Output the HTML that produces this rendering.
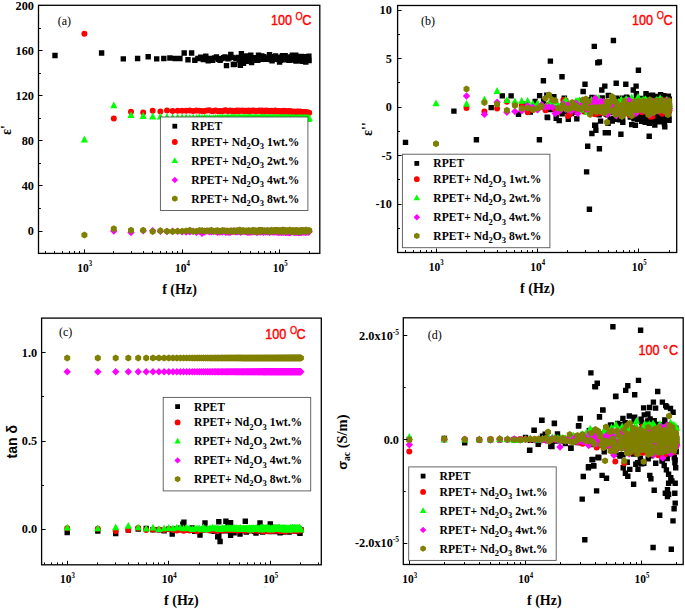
<!DOCTYPE html><html><head><meta charset="utf-8"><style>html,body{margin:0;padding:0;background:#fff;overflow:hidden}svg{display:block}</style></head><body><svg width="685" height="609" viewBox="0 0 685 609">
<style>.tl{font:bold 13.2px "Liberation Serif",serif;fill:#000}.lg{font:bold 12.2px "Liberation Serif",serif;fill:#000}.tp{font:15px "Liberation Sans",sans-serif;fill:#f00;stroke:#f00;stroke-width:0.45px}.tpo{font:10px "Liberation Sans",sans-serif;fill:#f00;stroke:#f00;stroke-width:0.3px}.pl{font:12px "Liberation Serif",serif;fill:#000}.ax{font:bold 14px "Liberation Serif",serif;fill:#000}</style>
<defs>
<clipPath id="ca"><rect x="38.5" y="5.3" width="281.3" height="248.1"/></clipPath>
<clipPath id="cb"><rect x="397.6" y="5.5" width="279.1" height="247.0"/></clipPath>
<clipPath id="cc"><rect x="41.6" y="318.1" width="279.7" height="246.7"/></clipPath>
<clipPath id="cd"><rect x="403.3" y="317.8" width="279.9" height="246.7"/></clipPath>
</defs>
<g clip-path="url(#ca)">
<path fill="#000" d="M52.3 52.8h5.4v5.4h-5.4zM98.9 50.3h5.4v5.4h-5.4zM120.6 56.2h5.4v5.4h-5.4zM134.9 55.8h5.4v5.4h-5.4zM145.5 54h5.4v5.4h-5.4zM154 56.2h5.4v5.4h-5.4zM161.1 55.8h5.4v5.4h-5.4zM167.2 55.3h5.4v5.4h-5.4zM172.5 55.8h5.4v5.4h-5.4zM177.2 55.8h5.4v5.4h-5.4zM181.5 50.3h5.4v5.4h-5.4zM185.3 57.1h5.4v5.4h-5.4zM188.9 50.3h5.4v5.4h-5.4zM192.1 57.5h5.4v5.4h-5.4zM195.2 55.8h5.4v5.4h-5.4zM198 54.6h5.4v5.4h-5.4zM200.6 56.9h5.4v5.4h-5.4zM203.1 53.5h5.4v5.4h-5.4zM205.5 58h5.4v5.4h-5.4zM207.7 55.8h5.4v5.4h-5.4zM209.9 57.6h5.4v5.4h-5.4zM211.9 55.2h5.4v5.4h-5.4zM213.8 54.3h5.4v5.4h-5.4zM215.7 56.5h5.4v5.4h-5.4zM217.4 57.7h5.4v5.4h-5.4zM219.1 55.9h5.4v5.4h-5.4zM220.8 55.1h5.4v5.4h-5.4zM222.3 54.2h5.4v5.4h-5.4zM223.8 62.9h5.4v5.4h-5.4zM225.3 56h5.4v5.4h-5.4zM226.7 55.2h5.4v5.4h-5.4zM228.1 51.7h5.4v5.4h-5.4zM229.4 54.7h5.4v5.4h-5.4zM230.7 61.8h5.4v5.4h-5.4zM231.9 61.5h5.4v5.4h-5.4zM233.2 55.7h5.4v5.4h-5.4zM234.3 55.4h5.4v5.4h-5.4zM235.5 54.8h5.4v5.4h-5.4zM236.6 57.2h5.4v5.4h-5.4zM237.7 62.5h5.4v5.4h-5.4zM238.7 50.9h5.4v5.4h-5.4zM239.8 55.8h5.4v5.4h-5.4zM240.8 60.7h5.4v5.4h-5.4zM241.8 53.5h5.4v5.4h-5.4zM242.7 54.7h5.4v5.4h-5.4zM243.7 58.6h5.4v5.4h-5.4zM244.6 53.3h5.4v5.4h-5.4zM245.5 55.7h5.4v5.4h-5.4zM246.4 55.8h5.4v5.4h-5.4zM247.3 55h5.4v5.4h-5.4zM248.1 52.6h5.4v5.4h-5.4zM248.9 59.8h5.4v5.4h-5.4zM249.8 55h5.4v5.4h-5.4zM250.6 56.2h5.4v5.4h-5.4zM251.3 55.4h5.4v5.4h-5.4zM252.1 57.5h5.4v5.4h-5.4zM252.9 57.6h5.4v5.4h-5.4zM253.6 55.8h5.4v5.4h-5.4zM254.4 55.1h5.4v5.4h-5.4zM255.1 57.6h5.4v5.4h-5.4zM255.8 52.5h5.4v5.4h-5.4zM256.5 55.7h5.4v5.4h-5.4zM257.2 56.5h5.4v5.4h-5.4zM257.8 55.7h5.4v5.4h-5.4zM258.5 55.1h5.4v5.4h-5.4zM259.1 53.3h5.4v5.4h-5.4zM259.8 54.8h5.4v5.4h-5.4zM260.4 54.9h5.4v5.4h-5.4zM261 54.1h5.4v5.4h-5.4zM261.7 56.7h5.4v5.4h-5.4zM262.3 55.5h5.4v5.4h-5.4zM262.9 55.9h5.4v5.4h-5.4zM263.5 56.5h5.4v5.4h-5.4zM264 56.2h5.4v5.4h-5.4zM264.6 56.3h5.4v5.4h-5.4zM265.2 56.7h5.4v5.4h-5.4zM265.7 55.3h5.4v5.4h-5.4zM266.3 56.2h5.4v5.4h-5.4zM266.8 51.9h5.4v5.4h-5.4zM267.4 55.4h5.4v5.4h-5.4zM267.9 56.9h5.4v5.4h-5.4zM268.4 55h5.4v5.4h-5.4zM268.9 56.4h5.4v5.4h-5.4zM269.4 58h5.4v5.4h-5.4zM270 54h5.4v5.4h-5.4zM270.5 56.2h5.4v5.4h-5.4zM270.9 56.3h5.4v5.4h-5.4zM271.4 54.7h5.4v5.4h-5.4zM271.9 55.8h5.4v5.4h-5.4zM272.4 55.9h5.4v5.4h-5.4zM272.9 53.2h5.4v5.4h-5.4zM273.3 56.3h5.4v5.4h-5.4zM273.8 54.7h5.4v5.4h-5.4zM274.2 55.2h5.4v5.4h-5.4zM274.7 55.5h5.4v5.4h-5.4zM275.1 56.7h5.4v5.4h-5.4zM275.6 56.3h5.4v5.4h-5.4zM276 56.9h5.4v5.4h-5.4zM276.5 56.6h5.4v5.4h-5.4zM276.9 59.3h5.4v5.4h-5.4zM277.3 54.7h5.4v5.4h-5.4zM277.7 57.7h5.4v5.4h-5.4zM278.1 55.6h5.4v5.4h-5.4zM278.6 55.1h5.4v5.4h-5.4zM279 56.5h5.4v5.4h-5.4zM279.4 53.9h5.4v5.4h-5.4zM279.8 53.1h5.4v5.4h-5.4zM280.2 55.3h5.4v5.4h-5.4zM280.6 56.8h5.4v5.4h-5.4zM281 54.9h5.4v5.4h-5.4zM281.3 53.5h5.4v5.4h-5.4zM281.7 54.9h5.4v5.4h-5.4zM282.1 56.1h5.4v5.4h-5.4zM282.5 52.9h5.4v5.4h-5.4zM282.8 56.7h5.4v5.4h-5.4zM283.2 57h5.4v5.4h-5.4zM283.6 56.7h5.4v5.4h-5.4zM283.9 55.4h5.4v5.4h-5.4zM284.3 55.5h5.4v5.4h-5.4zM284.7 54.7h5.4v5.4h-5.4zM285 56h5.4v5.4h-5.4zM285.4 56.1h5.4v5.4h-5.4zM285.7 56.8h5.4v5.4h-5.4zM286.1 54.9h5.4v5.4h-5.4zM286.4 57.5h5.4v5.4h-5.4zM286.7 56h5.4v5.4h-5.4zM287.1 54.9h5.4v5.4h-5.4zM287.4 55.9h5.4v5.4h-5.4zM287.7 56.3h5.4v5.4h-5.4zM288.1 55.5h5.4v5.4h-5.4zM288.4 53.9h5.4v5.4h-5.4zM288.7 54.5h5.4v5.4h-5.4zM289 57.4h5.4v5.4h-5.4zM289.4 56.4h5.4v5.4h-5.4zM289.7 52.5h5.4v5.4h-5.4zM290 55.7h5.4v5.4h-5.4zM290.3 55.5h5.4v5.4h-5.4zM290.6 56h5.4v5.4h-5.4zM290.9 54.2h5.4v5.4h-5.4zM291.2 54.9h5.4v5.4h-5.4zM291.5 55.4h5.4v5.4h-5.4zM291.8 57.1h5.4v5.4h-5.4zM292.1 54.4h5.4v5.4h-5.4zM292.4 54.8h5.4v5.4h-5.4zM292.7 54.7h5.4v5.4h-5.4zM293 52.6h5.4v5.4h-5.4zM293.3 58.4h5.4v5.4h-5.4zM293.6 57h5.4v5.4h-5.4zM293.9 57.6h5.4v5.4h-5.4zM294.2 56.5h5.4v5.4h-5.4zM294.4 56.2h5.4v5.4h-5.4zM294.7 55.5h5.4v5.4h-5.4zM295 55.7h5.4v5.4h-5.4zM295.3 53.8h5.4v5.4h-5.4zM295.6 57h5.4v5.4h-5.4zM295.8 55.5h5.4v5.4h-5.4zM296.1 55.8h5.4v5.4h-5.4zM296.4 56.9h5.4v5.4h-5.4zM296.6 57h5.4v5.4h-5.4zM296.9 55.9h5.4v5.4h-5.4zM297.2 57h5.4v5.4h-5.4zM297.4 55.2h5.4v5.4h-5.4zM297.7 55.8h5.4v5.4h-5.4zM298 58.1h5.4v5.4h-5.4zM298.2 56.4h5.4v5.4h-5.4zM298.5 53.8h5.4v5.4h-5.4zM298.7 57.2h5.4v5.4h-5.4zM299 56.5h5.4v5.4h-5.4zM299.2 58.3h5.4v5.4h-5.4zM299.5 54.6h5.4v5.4h-5.4zM299.7 56.5h5.4v5.4h-5.4zM300 57h5.4v5.4h-5.4zM300.2 58.7h5.4v5.4h-5.4zM300.5 54.7h5.4v5.4h-5.4zM300.7 56.9h5.4v5.4h-5.4zM301 55h5.4v5.4h-5.4zM301.2 58.6h5.4v5.4h-5.4zM301.4 57.6h5.4v5.4h-5.4zM301.7 56.7h5.4v5.4h-5.4zM301.9 57.2h5.4v5.4h-5.4zM302.2 54.5h5.4v5.4h-5.4zM302.4 56.2h5.4v5.4h-5.4zM302.6 56.1h5.4v5.4h-5.4zM302.9 58.7h5.4v5.4h-5.4zM303.1 59.3h5.4v5.4h-5.4zM303.3 54h5.4v5.4h-5.4zM303.5 57.4h5.4v5.4h-5.4zM303.8 57.6h5.4v5.4h-5.4zM304 54.2h5.4v5.4h-5.4zM304.2 57.1h5.4v5.4h-5.4zM304.4 56.5h5.4v5.4h-5.4zM304.7 55.4h5.4v5.4h-5.4zM304.9 56.3h5.4v5.4h-5.4zM305.1 55.8h5.4v5.4h-5.4zM305.3 56.1h5.4v5.4h-5.4zM305.5 57.1h5.4v5.4h-5.4zM305.8 56.8h5.4v5.4h-5.4zM306 55.5h5.4v5.4h-5.4zM306.2 53.5h5.4v5.4h-5.4zM306.4 57.8h5.4v5.4h-5.4z"/>
<path fill="#ff0000" d="M81.4 33.7a3.0 3.0 0 1 0 6 0a3.0 3.0 0 1 0 -6 0zM110.8 118.6a3.0 3.0 0 1 0 6 0a3.0 3.0 0 1 0 -6 0zM128 111.8a3.0 3.0 0 1 0 6 0a3.0 3.0 0 1 0 -6 0zM140.2 112.5a3.0 3.0 0 1 0 6 0a3.0 3.0 0 1 0 -6 0zM149.7 110.8a3.0 3.0 0 1 0 6 0a3.0 3.0 0 1 0 -6 0zM157.4 111.5a3.0 3.0 0 1 0 6 0a3.0 3.0 0 1 0 -6 0zM164 110.6a3.0 3.0 0 1 0 6 0a3.0 3.0 0 1 0 -6 0zM169.6 110.9a3.0 3.0 0 1 0 6 0a3.0 3.0 0 1 0 -6 0zM174.6 110.8a3.0 3.0 0 1 0 6 0a3.0 3.0 0 1 0 -6 0zM179.1 110.7a3.0 3.0 0 1 0 6 0a3.0 3.0 0 1 0 -6 0zM183.1 110.8a3.0 3.0 0 1 0 6 0a3.0 3.0 0 1 0 -6 0zM186.8 110.6a3.0 3.0 0 1 0 6 0a3.0 3.0 0 1 0 -6 0zM190.2 110.9a3.0 3.0 0 1 0 6 0a3.0 3.0 0 1 0 -6 0zM193.4 110.6a3.0 3.0 0 1 0 6 0a3.0 3.0 0 1 0 -6 0zM196.3 110.8a3.0 3.0 0 1 0 6 0a3.0 3.0 0 1 0 -6 0zM199 110.9a3.0 3.0 0 1 0 6 0a3.0 3.0 0 1 0 -6 0zM201.6 111a3.0 3.0 0 1 0 6 0a3.0 3.0 0 1 0 -6 0zM204 110.5a3.0 3.0 0 1 0 6 0a3.0 3.0 0 1 0 -6 0zM206.3 110.3a3.0 3.0 0 1 0 6 0a3.0 3.0 0 1 0 -6 0zM208.5 111a3.0 3.0 0 1 0 6 0a3.0 3.0 0 1 0 -6 0zM210.6 111.1a3.0 3.0 0 1 0 6 0a3.0 3.0 0 1 0 -6 0zM212.6 110.6a3.0 3.0 0 1 0 6 0a3.0 3.0 0 1 0 -6 0zM214.4 111a3.0 3.0 0 1 0 6 0a3.0 3.0 0 1 0 -6 0zM216.2 110.9a3.0 3.0 0 1 0 6 0a3.0 3.0 0 1 0 -6 0zM218 111a3.0 3.0 0 1 0 6 0a3.0 3.0 0 1 0 -6 0zM219.6 111.3a3.0 3.0 0 1 0 6 0a3.0 3.0 0 1 0 -6 0zM221.2 110.6a3.0 3.0 0 1 0 6 0a3.0 3.0 0 1 0 -6 0zM222.8 110.3a3.0 3.0 0 1 0 6 0a3.0 3.0 0 1 0 -6 0zM224.3 111.1a3.0 3.0 0 1 0 6 0a3.0 3.0 0 1 0 -6 0zM225.7 111.1a3.0 3.0 0 1 0 6 0a3.0 3.0 0 1 0 -6 0zM227.1 110.6a3.0 3.0 0 1 0 6 0a3.0 3.0 0 1 0 -6 0zM228.5 110.9a3.0 3.0 0 1 0 6 0a3.0 3.0 0 1 0 -6 0zM229.8 110.7a3.0 3.0 0 1 0 6 0a3.0 3.0 0 1 0 -6 0zM231 111.4a3.0 3.0 0 1 0 6 0a3.0 3.0 0 1 0 -6 0zM232.3 110.8a3.0 3.0 0 1 0 6 0a3.0 3.0 0 1 0 -6 0zM233.5 110.6a3.0 3.0 0 1 0 6 0a3.0 3.0 0 1 0 -6 0zM234.6 111.2a3.0 3.0 0 1 0 6 0a3.0 3.0 0 1 0 -6 0zM235.7 110.6a3.0 3.0 0 1 0 6 0a3.0 3.0 0 1 0 -6 0zM236.8 110.9a3.0 3.0 0 1 0 6 0a3.0 3.0 0 1 0 -6 0zM237.9 110.7a3.0 3.0 0 1 0 6 0a3.0 3.0 0 1 0 -6 0zM239 110.6a3.0 3.0 0 1 0 6 0a3.0 3.0 0 1 0 -6 0zM240 110.9a3.0 3.0 0 1 0 6 0a3.0 3.0 0 1 0 -6 0zM241 110.7a3.0 3.0 0 1 0 6 0a3.0 3.0 0 1 0 -6 0zM242 111.2a3.0 3.0 0 1 0 6 0a3.0 3.0 0 1 0 -6 0zM242.9 110.7a3.0 3.0 0 1 0 6 0a3.0 3.0 0 1 0 -6 0zM243.9 111.1a3.0 3.0 0 1 0 6 0a3.0 3.0 0 1 0 -6 0zM244.8 110.9a3.0 3.0 0 1 0 6 0a3.0 3.0 0 1 0 -6 0zM245.7 110.5a3.0 3.0 0 1 0 6 0a3.0 3.0 0 1 0 -6 0zM246.5 111.6a3.0 3.0 0 1 0 6 0a3.0 3.0 0 1 0 -6 0zM247.4 111a3.0 3.0 0 1 0 6 0a3.0 3.0 0 1 0 -6 0zM248.2 110.9a3.0 3.0 0 1 0 6 0a3.0 3.0 0 1 0 -6 0zM249.1 110.4a3.0 3.0 0 1 0 6 0a3.0 3.0 0 1 0 -6 0zM249.9 110.8a3.0 3.0 0 1 0 6 0a3.0 3.0 0 1 0 -6 0zM250.7 110.5a3.0 3.0 0 1 0 6 0a3.0 3.0 0 1 0 -6 0zM251.4 110.8a3.0 3.0 0 1 0 6 0a3.0 3.0 0 1 0 -6 0zM252.2 111.2a3.0 3.0 0 1 0 6 0a3.0 3.0 0 1 0 -6 0zM252.9 111.1a3.0 3.0 0 1 0 6 0a3.0 3.0 0 1 0 -6 0zM253.7 110.9a3.0 3.0 0 1 0 6 0a3.0 3.0 0 1 0 -6 0zM254.4 111a3.0 3.0 0 1 0 6 0a3.0 3.0 0 1 0 -6 0zM255.1 110.8a3.0 3.0 0 1 0 6 0a3.0 3.0 0 1 0 -6 0zM255.8 110.7a3.0 3.0 0 1 0 6 0a3.0 3.0 0 1 0 -6 0zM256.5 110.5a3.0 3.0 0 1 0 6 0a3.0 3.0 0 1 0 -6 0zM257.2 110.9a3.0 3.0 0 1 0 6 0a3.0 3.0 0 1 0 -6 0zM257.9 111a3.0 3.0 0 1 0 6 0a3.0 3.0 0 1 0 -6 0zM258.5 110.8a3.0 3.0 0 1 0 6 0a3.0 3.0 0 1 0 -6 0zM259.2 110.6a3.0 3.0 0 1 0 6 0a3.0 3.0 0 1 0 -6 0zM259.8 110.9a3.0 3.0 0 1 0 6 0a3.0 3.0 0 1 0 -6 0zM260.4 111.4a3.0 3.0 0 1 0 6 0a3.0 3.0 0 1 0 -6 0zM261.1 110.9a3.0 3.0 0 1 0 6 0a3.0 3.0 0 1 0 -6 0zM261.7 111.3a3.0 3.0 0 1 0 6 0a3.0 3.0 0 1 0 -6 0zM262.3 111.5a3.0 3.0 0 1 0 6 0a3.0 3.0 0 1 0 -6 0zM262.9 110.6a3.0 3.0 0 1 0 6 0a3.0 3.0 0 1 0 -6 0zM263.4 111.2a3.0 3.0 0 1 0 6 0a3.0 3.0 0 1 0 -6 0zM264 111a3.0 3.0 0 1 0 6 0a3.0 3.0 0 1 0 -6 0zM264.6 110.8a3.0 3.0 0 1 0 6 0a3.0 3.0 0 1 0 -6 0zM265.2 111.1a3.0 3.0 0 1 0 6 0a3.0 3.0 0 1 0 -6 0zM265.7 111a3.0 3.0 0 1 0 6 0a3.0 3.0 0 1 0 -6 0zM266.3 111.5a3.0 3.0 0 1 0 6 0a3.0 3.0 0 1 0 -6 0zM266.8 111a3.0 3.0 0 1 0 6 0a3.0 3.0 0 1 0 -6 0zM267.3 111a3.0 3.0 0 1 0 6 0a3.0 3.0 0 1 0 -6 0zM267.9 110.9a3.0 3.0 0 1 0 6 0a3.0 3.0 0 1 0 -6 0zM268.4 111.4a3.0 3.0 0 1 0 6 0a3.0 3.0 0 1 0 -6 0zM268.9 110.8a3.0 3.0 0 1 0 6 0a3.0 3.0 0 1 0 -6 0zM269.4 111.5a3.0 3.0 0 1 0 6 0a3.0 3.0 0 1 0 -6 0zM269.9 111.2a3.0 3.0 0 1 0 6 0a3.0 3.0 0 1 0 -6 0zM270.4 111.1a3.0 3.0 0 1 0 6 0a3.0 3.0 0 1 0 -6 0zM270.9 111.4a3.0 3.0 0 1 0 6 0a3.0 3.0 0 1 0 -6 0zM271.4 111a3.0 3.0 0 1 0 6 0a3.0 3.0 0 1 0 -6 0zM271.9 111.8a3.0 3.0 0 1 0 6 0a3.0 3.0 0 1 0 -6 0zM272.3 110.6a3.0 3.0 0 1 0 6 0a3.0 3.0 0 1 0 -6 0zM272.8 110.9a3.0 3.0 0 1 0 6 0a3.0 3.0 0 1 0 -6 0zM273.3 111.2a3.0 3.0 0 1 0 6 0a3.0 3.0 0 1 0 -6 0zM273.7 111.4a3.0 3.0 0 1 0 6 0a3.0 3.0 0 1 0 -6 0zM274.2 111.6a3.0 3.0 0 1 0 6 0a3.0 3.0 0 1 0 -6 0zM274.6 111.1a3.0 3.0 0 1 0 6 0a3.0 3.0 0 1 0 -6 0zM275.1 111a3.0 3.0 0 1 0 6 0a3.0 3.0 0 1 0 -6 0zM275.5 111.4a3.0 3.0 0 1 0 6 0a3.0 3.0 0 1 0 -6 0zM275.9 111.8a3.0 3.0 0 1 0 6 0a3.0 3.0 0 1 0 -6 0zM276.4 111.5a3.0 3.0 0 1 0 6 0a3.0 3.0 0 1 0 -6 0zM276.8 111.1a3.0 3.0 0 1 0 6 0a3.0 3.0 0 1 0 -6 0zM277.2 111.9a3.0 3.0 0 1 0 6 0a3.0 3.0 0 1 0 -6 0zM277.6 111.7a3.0 3.0 0 1 0 6 0a3.0 3.0 0 1 0 -6 0zM278.1 111.2a3.0 3.0 0 1 0 6 0a3.0 3.0 0 1 0 -6 0zM278.5 111.2a3.0 3.0 0 1 0 6 0a3.0 3.0 0 1 0 -6 0zM278.9 110.9a3.0 3.0 0 1 0 6 0a3.0 3.0 0 1 0 -6 0zM279.3 111.2a3.0 3.0 0 1 0 6 0a3.0 3.0 0 1 0 -6 0zM279.7 111.7a3.0 3.0 0 1 0 6 0a3.0 3.0 0 1 0 -6 0zM280.1 111.4a3.0 3.0 0 1 0 6 0a3.0 3.0 0 1 0 -6 0zM280.5 111.6a3.0 3.0 0 1 0 6 0a3.0 3.0 0 1 0 -6 0zM280.8 110.8a3.0 3.0 0 1 0 6 0a3.0 3.0 0 1 0 -6 0zM281.2 111.9a3.0 3.0 0 1 0 6 0a3.0 3.0 0 1 0 -6 0zM281.6 111.1a3.0 3.0 0 1 0 6 0a3.0 3.0 0 1 0 -6 0zM282 111.5a3.0 3.0 0 1 0 6 0a3.0 3.0 0 1 0 -6 0zM282.4 111.4a3.0 3.0 0 1 0 6 0a3.0 3.0 0 1 0 -6 0zM282.7 111.7a3.0 3.0 0 1 0 6 0a3.0 3.0 0 1 0 -6 0zM283.1 111a3.0 3.0 0 1 0 6 0a3.0 3.0 0 1 0 -6 0zM283.5 111.8a3.0 3.0 0 1 0 6 0a3.0 3.0 0 1 0 -6 0zM283.8 111.5a3.0 3.0 0 1 0 6 0a3.0 3.0 0 1 0 -6 0zM284.2 111.4a3.0 3.0 0 1 0 6 0a3.0 3.0 0 1 0 -6 0zM284.5 111.8a3.0 3.0 0 1 0 6 0a3.0 3.0 0 1 0 -6 0zM284.9 111.4a3.0 3.0 0 1 0 6 0a3.0 3.0 0 1 0 -6 0zM285.2 111.5a3.0 3.0 0 1 0 6 0a3.0 3.0 0 1 0 -6 0zM285.6 111.9a3.0 3.0 0 1 0 6 0a3.0 3.0 0 1 0 -6 0zM285.9 111a3.0 3.0 0 1 0 6 0a3.0 3.0 0 1 0 -6 0zM286.3 111.5a3.0 3.0 0 1 0 6 0a3.0 3.0 0 1 0 -6 0zM286.6 111.1a3.0 3.0 0 1 0 6 0a3.0 3.0 0 1 0 -6 0zM286.9 111.4a3.0 3.0 0 1 0 6 0a3.0 3.0 0 1 0 -6 0zM287.3 111.5a3.0 3.0 0 1 0 6 0a3.0 3.0 0 1 0 -6 0zM287.6 111.4a3.0 3.0 0 1 0 6 0a3.0 3.0 0 1 0 -6 0zM287.9 111.6a3.0 3.0 0 1 0 6 0a3.0 3.0 0 1 0 -6 0zM288.3 111.8a3.0 3.0 0 1 0 6 0a3.0 3.0 0 1 0 -6 0zM288.6 111.5a3.0 3.0 0 1 0 6 0a3.0 3.0 0 1 0 -6 0zM288.9 111.4a3.0 3.0 0 1 0 6 0a3.0 3.0 0 1 0 -6 0zM289.2 111.8a3.0 3.0 0 1 0 6 0a3.0 3.0 0 1 0 -6 0zM289.5 112.2a3.0 3.0 0 1 0 6 0a3.0 3.0 0 1 0 -6 0zM289.8 112a3.0 3.0 0 1 0 6 0a3.0 3.0 0 1 0 -6 0zM290.2 112.4a3.0 3.0 0 1 0 6 0a3.0 3.0 0 1 0 -6 0zM290.5 112.4a3.0 3.0 0 1 0 6 0a3.0 3.0 0 1 0 -6 0zM290.8 111.7a3.0 3.0 0 1 0 6 0a3.0 3.0 0 1 0 -6 0zM291.1 111.6a3.0 3.0 0 1 0 6 0a3.0 3.0 0 1 0 -6 0zM291.4 111.7a3.0 3.0 0 1 0 6 0a3.0 3.0 0 1 0 -6 0zM291.7 112a3.0 3.0 0 1 0 6 0a3.0 3.0 0 1 0 -6 0zM292 111.8a3.0 3.0 0 1 0 6 0a3.0 3.0 0 1 0 -6 0zM292.3 111.9a3.0 3.0 0 1 0 6 0a3.0 3.0 0 1 0 -6 0zM292.6 112.2a3.0 3.0 0 1 0 6 0a3.0 3.0 0 1 0 -6 0zM292.9 112.4a3.0 3.0 0 1 0 6 0a3.0 3.0 0 1 0 -6 0zM293.1 111.9a3.0 3.0 0 1 0 6 0a3.0 3.0 0 1 0 -6 0zM293.4 112.1a3.0 3.0 0 1 0 6 0a3.0 3.0 0 1 0 -6 0zM293.7 112a3.0 3.0 0 1 0 6 0a3.0 3.0 0 1 0 -6 0zM294 112.3a3.0 3.0 0 1 0 6 0a3.0 3.0 0 1 0 -6 0zM294.3 111.6a3.0 3.0 0 1 0 6 0a3.0 3.0 0 1 0 -6 0zM294.6 111.8a3.0 3.0 0 1 0 6 0a3.0 3.0 0 1 0 -6 0zM294.8 112.1a3.0 3.0 0 1 0 6 0a3.0 3.0 0 1 0 -6 0zM295.1 111.5a3.0 3.0 0 1 0 6 0a3.0 3.0 0 1 0 -6 0zM295.4 112.6a3.0 3.0 0 1 0 6 0a3.0 3.0 0 1 0 -6 0zM295.7 112.4a3.0 3.0 0 1 0 6 0a3.0 3.0 0 1 0 -6 0zM295.9 112.1a3.0 3.0 0 1 0 6 0a3.0 3.0 0 1 0 -6 0zM296.2 111.9a3.0 3.0 0 1 0 6 0a3.0 3.0 0 1 0 -6 0zM296.5 111.7a3.0 3.0 0 1 0 6 0a3.0 3.0 0 1 0 -6 0zM296.7 112.5a3.0 3.0 0 1 0 6 0a3.0 3.0 0 1 0 -6 0zM297 112.1a3.0 3.0 0 1 0 6 0a3.0 3.0 0 1 0 -6 0zM297.3 111.4a3.0 3.0 0 1 0 6 0a3.0 3.0 0 1 0 -6 0zM297.5 112a3.0 3.0 0 1 0 6 0a3.0 3.0 0 1 0 -6 0zM297.8 112.4a3.0 3.0 0 1 0 6 0a3.0 3.0 0 1 0 -6 0zM298 112.2a3.0 3.0 0 1 0 6 0a3.0 3.0 0 1 0 -6 0zM298.3 112.1a3.0 3.0 0 1 0 6 0a3.0 3.0 0 1 0 -6 0zM298.6 112.5a3.0 3.0 0 1 0 6 0a3.0 3.0 0 1 0 -6 0zM298.8 112.6a3.0 3.0 0 1 0 6 0a3.0 3.0 0 1 0 -6 0zM299.1 112.2a3.0 3.0 0 1 0 6 0a3.0 3.0 0 1 0 -6 0zM299.3 111.9a3.0 3.0 0 1 0 6 0a3.0 3.0 0 1 0 -6 0zM299.6 112.1a3.0 3.0 0 1 0 6 0a3.0 3.0 0 1 0 -6 0zM299.8 112.9a3.0 3.0 0 1 0 6 0a3.0 3.0 0 1 0 -6 0zM300.1 111.9a3.0 3.0 0 1 0 6 0a3.0 3.0 0 1 0 -6 0zM300.3 112.1a3.0 3.0 0 1 0 6 0a3.0 3.0 0 1 0 -6 0zM300.5 112.4a3.0 3.0 0 1 0 6 0a3.0 3.0 0 1 0 -6 0zM300.8 112.5a3.0 3.0 0 1 0 6 0a3.0 3.0 0 1 0 -6 0zM301 112.3a3.0 3.0 0 1 0 6 0a3.0 3.0 0 1 0 -6 0zM301.3 112.9a3.0 3.0 0 1 0 6 0a3.0 3.0 0 1 0 -6 0zM301.5 112.2a3.0 3.0 0 1 0 6 0a3.0 3.0 0 1 0 -6 0zM301.7 112.2a3.0 3.0 0 1 0 6 0a3.0 3.0 0 1 0 -6 0zM302 112.6a3.0 3.0 0 1 0 6 0a3.0 3.0 0 1 0 -6 0zM302.2 112.5a3.0 3.0 0 1 0 6 0a3.0 3.0 0 1 0 -6 0zM302.4 112.3a3.0 3.0 0 1 0 6 0a3.0 3.0 0 1 0 -6 0zM302.7 113a3.0 3.0 0 1 0 6 0a3.0 3.0 0 1 0 -6 0zM302.9 112.9a3.0 3.0 0 1 0 6 0a3.0 3.0 0 1 0 -6 0zM303.1 112.2a3.0 3.0 0 1 0 6 0a3.0 3.0 0 1 0 -6 0zM303.4 112.2a3.0 3.0 0 1 0 6 0a3.0 3.0 0 1 0 -6 0zM303.6 112.4a3.0 3.0 0 1 0 6 0a3.0 3.0 0 1 0 -6 0zM303.8 112.6a3.0 3.0 0 1 0 6 0a3.0 3.0 0 1 0 -6 0zM304 112.5a3.0 3.0 0 1 0 6 0a3.0 3.0 0 1 0 -6 0zM304.3 112.2a3.0 3.0 0 1 0 6 0a3.0 3.0 0 1 0 -6 0zM304.5 112.8a3.0 3.0 0 1 0 6 0a3.0 3.0 0 1 0 -6 0zM304.7 112.4a3.0 3.0 0 1 0 6 0a3.0 3.0 0 1 0 -6 0zM304.9 112.8a3.0 3.0 0 1 0 6 0a3.0 3.0 0 1 0 -6 0zM305.1 112.8a3.0 3.0 0 1 0 6 0a3.0 3.0 0 1 0 -6 0zM305.4 112.7a3.0 3.0 0 1 0 6 0a3.0 3.0 0 1 0 -6 0zM305.6 112.9a3.0 3.0 0 1 0 6 0a3.0 3.0 0 1 0 -6 0zM305.8 113a3.0 3.0 0 1 0 6 0a3.0 3.0 0 1 0 -6 0zM306 112.8a3.0 3.0 0 1 0 6 0a3.0 3.0 0 1 0 -6 0zM306.2 112.7a3.0 3.0 0 1 0 6 0a3.0 3.0 0 1 0 -6 0z"/>
<path fill="#00ff00" d="M84.4 135.6l3.6 6.8h-7.2zM113.8 101.4l3.6 6.8h-7.2zM131 111.3l3.6 6.8h-7.2zM143.2 112.1l3.6 6.8h-7.2zM152.7 112.6l3.6 6.8h-7.2zM160.4 112.8l3.6 6.8h-7.2zM167 113.1l3.6 6.8h-7.2zM172.6 113.4l3.6 6.8h-7.2zM177.6 113.5l3.6 6.8h-7.2zM182.1 113.6l3.6 6.8h-7.2zM186.1 113.5l3.6 6.8h-7.2zM189.8 114l3.6 6.8h-7.2zM193.2 113.7l3.6 6.8h-7.2zM196.4 114l3.6 6.8h-7.2zM199.3 113.6l3.6 6.8h-7.2zM202 113.7l3.6 6.8h-7.2zM204.6 113.6l3.6 6.8h-7.2zM207 114l3.6 6.8h-7.2zM209.3 114l3.6 6.8h-7.2zM211.5 114.2l3.6 6.8h-7.2zM213.6 113.9l3.6 6.8h-7.2zM215.6 114.1l3.6 6.8h-7.2zM217.4 114.1l3.6 6.8h-7.2zM219.2 113.8l3.6 6.8h-7.2zM221 113.4l3.6 6.8h-7.2zM222.6 113.6l3.6 6.8h-7.2zM224.2 114.3l3.6 6.8h-7.2zM225.8 113.9l3.6 6.8h-7.2zM227.3 113.6l3.6 6.8h-7.2zM228.7 113.7l3.6 6.8h-7.2zM230.1 113.9l3.6 6.8h-7.2zM231.5 113.4l3.6 6.8h-7.2zM232.8 113.8l3.6 6.8h-7.2zM234 113.7l3.6 6.8h-7.2zM235.3 113.7l3.6 6.8h-7.2zM236.5 113.9l3.6 6.8h-7.2zM237.6 114l3.6 6.8h-7.2zM238.7 113.5l3.6 6.8h-7.2zM239.8 113.6l3.6 6.8h-7.2zM240.9 114.2l3.6 6.8h-7.2zM242 113.7l3.6 6.8h-7.2zM243 113.7l3.6 6.8h-7.2zM244 113.7l3.6 6.8h-7.2zM245 113.9l3.6 6.8h-7.2zM245.9 113.9l3.6 6.8h-7.2zM246.9 113.8l3.6 6.8h-7.2zM247.8 113.6l3.6 6.8h-7.2zM248.7 113.4l3.6 6.8h-7.2zM249.5 114.2l3.6 6.8h-7.2zM250.4 113.7l3.6 6.8h-7.2zM251.2 113.7l3.6 6.8h-7.2zM252.1 113.9l3.6 6.8h-7.2zM252.9 114.2l3.6 6.8h-7.2zM253.7 114l3.6 6.8h-7.2zM254.4 114.1l3.6 6.8h-7.2zM255.2 113.9l3.6 6.8h-7.2zM255.9 113.9l3.6 6.8h-7.2zM256.7 113.7l3.6 6.8h-7.2zM257.4 113.9l3.6 6.8h-7.2zM258.1 114.3l3.6 6.8h-7.2zM258.8 114l3.6 6.8h-7.2zM259.5 113.9l3.6 6.8h-7.2zM260.2 113.9l3.6 6.8h-7.2zM260.9 113.9l3.6 6.8h-7.2zM261.5 113.6l3.6 6.8h-7.2zM262.2 113.5l3.6 6.8h-7.2zM262.8 114l3.6 6.8h-7.2zM263.4 113.9l3.6 6.8h-7.2zM264.1 114l3.6 6.8h-7.2zM264.7 113.8l3.6 6.8h-7.2zM265.3 114.1l3.6 6.8h-7.2zM265.9 114l3.6 6.8h-7.2zM266.4 114.2l3.6 6.8h-7.2zM267 114.3l3.6 6.8h-7.2zM267.6 114l3.6 6.8h-7.2zM268.2 114.3l3.6 6.8h-7.2zM268.7 113.9l3.6 6.8h-7.2zM269.3 113.7l3.6 6.8h-7.2zM269.8 114l3.6 6.8h-7.2zM270.3 114l3.6 6.8h-7.2zM270.9 114.2l3.6 6.8h-7.2zM271.4 114.4l3.6 6.8h-7.2zM271.9 114l3.6 6.8h-7.2zM272.4 114.2l3.6 6.8h-7.2zM272.9 114l3.6 6.8h-7.2zM273.4 113.9l3.6 6.8h-7.2zM273.9 113.9l3.6 6.8h-7.2zM274.4 113.6l3.6 6.8h-7.2zM274.9 114l3.6 6.8h-7.2zM275.3 114l3.6 6.8h-7.2zM275.8 114.4l3.6 6.8h-7.2zM276.3 113.9l3.6 6.8h-7.2zM276.7 114.4l3.6 6.8h-7.2zM277.2 114.4l3.6 6.8h-7.2zM277.6 114l3.6 6.8h-7.2zM278.1 114.8l3.6 6.8h-7.2zM278.5 114.1l3.6 6.8h-7.2zM278.9 114.1l3.6 6.8h-7.2zM279.4 114.3l3.6 6.8h-7.2zM279.8 113.8l3.6 6.8h-7.2zM280.2 114.3l3.6 6.8h-7.2zM280.6 114.1l3.6 6.8h-7.2zM281.1 114.6l3.6 6.8h-7.2zM281.5 114.6l3.6 6.8h-7.2zM281.9 113.9l3.6 6.8h-7.2zM282.3 113.9l3.6 6.8h-7.2zM282.7 114.4l3.6 6.8h-7.2zM283.1 114.1l3.6 6.8h-7.2zM283.5 114.6l3.6 6.8h-7.2zM283.8 114.5l3.6 6.8h-7.2zM284.2 114l3.6 6.8h-7.2zM284.6 114l3.6 6.8h-7.2zM285 114.1l3.6 6.8h-7.2zM285.4 114.2l3.6 6.8h-7.2zM285.7 114.2l3.6 6.8h-7.2zM286.1 114.4l3.6 6.8h-7.2zM286.5 114l3.6 6.8h-7.2zM286.8 114.3l3.6 6.8h-7.2zM287.2 114.3l3.6 6.8h-7.2zM287.5 113.9l3.6 6.8h-7.2zM287.9 114.4l3.6 6.8h-7.2zM288.2 114.4l3.6 6.8h-7.2zM288.6 114l3.6 6.8h-7.2zM288.9 114.5l3.6 6.8h-7.2zM289.3 114.4l3.6 6.8h-7.2zM289.6 115l3.6 6.8h-7.2zM289.9 113.7l3.6 6.8h-7.2zM290.3 114.5l3.6 6.8h-7.2zM290.6 114.5l3.6 6.8h-7.2zM290.9 114.2l3.6 6.8h-7.2zM291.3 114.9l3.6 6.8h-7.2zM291.6 114l3.6 6.8h-7.2zM291.9 114.2l3.6 6.8h-7.2zM292.2 114.3l3.6 6.8h-7.2zM292.5 114.5l3.6 6.8h-7.2zM292.8 114.4l3.6 6.8h-7.2zM293.2 114.3l3.6 6.8h-7.2zM293.5 114.2l3.6 6.8h-7.2zM293.8 114.1l3.6 6.8h-7.2zM294.1 114.2l3.6 6.8h-7.2zM294.4 114.2l3.6 6.8h-7.2zM294.7 114.1l3.6 6.8h-7.2zM295 114.5l3.6 6.8h-7.2zM295.3 114.9l3.6 6.8h-7.2zM295.6 114.4l3.6 6.8h-7.2zM295.9 115l3.6 6.8h-7.2zM296.1 114.7l3.6 6.8h-7.2zM296.4 114.6l3.6 6.8h-7.2zM296.7 114.7l3.6 6.8h-7.2zM297 114.1l3.6 6.8h-7.2zM297.3 114.2l3.6 6.8h-7.2zM297.6 114.4l3.6 6.8h-7.2zM297.8 114.5l3.6 6.8h-7.2zM298.1 114.3l3.6 6.8h-7.2zM298.4 114.5l3.6 6.8h-7.2zM298.7 114.5l3.6 6.8h-7.2zM298.9 114.4l3.6 6.8h-7.2zM299.2 114.7l3.6 6.8h-7.2zM299.5 114.4l3.6 6.8h-7.2zM299.7 113.9l3.6 6.8h-7.2zM300 114.2l3.6 6.8h-7.2zM300.3 114.7l3.6 6.8h-7.2zM300.5 114.3l3.6 6.8h-7.2zM300.8 114.6l3.6 6.8h-7.2zM301 114.6l3.6 6.8h-7.2zM301.3 114.5l3.6 6.8h-7.2zM301.6 114.1l3.6 6.8h-7.2zM301.8 114.6l3.6 6.8h-7.2zM302.1 114.5l3.6 6.8h-7.2zM302.3 114.5l3.6 6.8h-7.2zM302.6 114.7l3.6 6.8h-7.2zM302.8 114.3l3.6 6.8h-7.2zM303.1 114.5l3.6 6.8h-7.2zM303.3 114.4l3.6 6.8h-7.2zM303.5 114.4l3.6 6.8h-7.2zM303.8 114.5l3.6 6.8h-7.2zM304 114.7l3.6 6.8h-7.2zM304.3 114.2l3.6 6.8h-7.2zM304.5 114.7l3.6 6.8h-7.2zM304.7 113.9l3.6 6.8h-7.2zM305 114.3l3.6 6.8h-7.2zM305.2 114.4l3.6 6.8h-7.2zM305.4 114.6l3.6 6.8h-7.2zM305.7 114.3l3.6 6.8h-7.2zM305.9 114.7l3.6 6.8h-7.2zM306.1 115.1l3.6 6.8h-7.2zM306.4 114.5l3.6 6.8h-7.2zM306.6 114.5l3.6 6.8h-7.2zM306.8 114.3l3.6 6.8h-7.2zM307 114.2l3.6 6.8h-7.2zM307.3 114.7l3.6 6.8h-7.2zM307.5 115.2l3.6 6.8h-7.2zM307.7 114.4l3.6 6.8h-7.2zM307.9 114.4l3.6 6.8h-7.2zM308.1 114.9l3.6 6.8h-7.2zM308.4 114.3l3.6 6.8h-7.2zM308.6 114.4l3.6 6.8h-7.2zM308.8 114.7l3.6 6.8h-7.2zM309 114.6l3.6 6.8h-7.2zM309.2 114.3l3.6 6.8h-7.2z"/>
<path fill="#ff00ff" d="M84.4 -223.8l3.7 3.7l-3.7 3.7l-3.7 -3.7zM113.8 227.3l3.7 3.7l-3.7 3.7l-3.7 -3.7zM131 228.8l3.7 3.7l-3.7 3.7l-3.7 -3.7zM143.2 227l3.7 3.7l-3.7 3.7l-3.7 -3.7zM152.7 227l3.7 3.7l-3.7 3.7l-3.7 -3.7zM160.4 227.6l3.7 3.7l-3.7 3.7l-3.7 -3.7zM167 227.8l3.7 3.7l-3.7 3.7l-3.7 -3.7zM172.6 227.6l3.7 3.7l-3.7 3.7l-3.7 -3.7zM177.6 227.6l3.7 3.7l-3.7 3.7l-3.7 -3.7zM182.1 228.2l3.7 3.7l-3.7 3.7l-3.7 -3.7zM186.1 228.4l3.7 3.7l-3.7 3.7l-3.7 -3.7zM189.8 228l3.7 3.7l-3.7 3.7l-3.7 -3.7zM193.2 227.4l3.7 3.7l-3.7 3.7l-3.7 -3.7zM196.4 228.7l3.7 3.7l-3.7 3.7l-3.7 -3.7zM199.3 227.6l3.7 3.7l-3.7 3.7l-3.7 -3.7zM202 229.5l3.7 3.7l-3.7 3.7l-3.7 -3.7zM204.6 228.3l3.7 3.7l-3.7 3.7l-3.7 -3.7zM207 227.3l3.7 3.7l-3.7 3.7l-3.7 -3.7zM209.3 228.2l3.7 3.7l-3.7 3.7l-3.7 -3.7zM211.5 228l3.7 3.7l-3.7 3.7l-3.7 -3.7zM213.6 227.8l3.7 3.7l-3.7 3.7l-3.7 -3.7zM215.6 227.4l3.7 3.7l-3.7 3.7l-3.7 -3.7zM217.4 228.5l3.7 3.7l-3.7 3.7l-3.7 -3.7zM219.2 228.3l3.7 3.7l-3.7 3.7l-3.7 -3.7zM221 228.3l3.7 3.7l-3.7 3.7l-3.7 -3.7zM222.6 228.1l3.7 3.7l-3.7 3.7l-3.7 -3.7zM224.2 227.3l3.7 3.7l-3.7 3.7l-3.7 -3.7zM225.8 228.5l3.7 3.7l-3.7 3.7l-3.7 -3.7zM227.3 228.2l3.7 3.7l-3.7 3.7l-3.7 -3.7zM228.7 228.5l3.7 3.7l-3.7 3.7l-3.7 -3.7zM230.1 228.5l3.7 3.7l-3.7 3.7l-3.7 -3.7zM231.5 227.9l3.7 3.7l-3.7 3.7l-3.7 -3.7zM232.8 227.7l3.7 3.7l-3.7 3.7l-3.7 -3.7zM234 227l3.7 3.7l-3.7 3.7l-3.7 -3.7zM235.3 228.1l3.7 3.7l-3.7 3.7l-3.7 -3.7zM236.5 227.9l3.7 3.7l-3.7 3.7l-3.7 -3.7zM237.6 228.1l3.7 3.7l-3.7 3.7l-3.7 -3.7zM238.7 227.6l3.7 3.7l-3.7 3.7l-3.7 -3.7zM239.8 227.8l3.7 3.7l-3.7 3.7l-3.7 -3.7zM240.9 228.5l3.7 3.7l-3.7 3.7l-3.7 -3.7zM242 227.7l3.7 3.7l-3.7 3.7l-3.7 -3.7zM243 227.5l3.7 3.7l-3.7 3.7l-3.7 -3.7zM244 227.6l3.7 3.7l-3.7 3.7l-3.7 -3.7zM245 227.8l3.7 3.7l-3.7 3.7l-3.7 -3.7zM245.9 227.9l3.7 3.7l-3.7 3.7l-3.7 -3.7zM246.9 228.2l3.7 3.7l-3.7 3.7l-3.7 -3.7zM247.8 228.5l3.7 3.7l-3.7 3.7l-3.7 -3.7zM248.7 228.3l3.7 3.7l-3.7 3.7l-3.7 -3.7zM249.5 228.3l3.7 3.7l-3.7 3.7l-3.7 -3.7zM250.4 228.3l3.7 3.7l-3.7 3.7l-3.7 -3.7zM251.2 227.9l3.7 3.7l-3.7 3.7l-3.7 -3.7zM252.1 228.4l3.7 3.7l-3.7 3.7l-3.7 -3.7zM252.9 227.4l3.7 3.7l-3.7 3.7l-3.7 -3.7zM253.7 227.9l3.7 3.7l-3.7 3.7l-3.7 -3.7zM254.4 228.1l3.7 3.7l-3.7 3.7l-3.7 -3.7zM255.2 227.4l3.7 3.7l-3.7 3.7l-3.7 -3.7zM255.9 227.4l3.7 3.7l-3.7 3.7l-3.7 -3.7zM256.7 228.5l3.7 3.7l-3.7 3.7l-3.7 -3.7zM257.4 228.5l3.7 3.7l-3.7 3.7l-3.7 -3.7zM258.1 227.9l3.7 3.7l-3.7 3.7l-3.7 -3.7zM258.8 227.5l3.7 3.7l-3.7 3.7l-3.7 -3.7zM259.5 228l3.7 3.7l-3.7 3.7l-3.7 -3.7zM260.2 227.2l3.7 3.7l-3.7 3.7l-3.7 -3.7zM260.9 228.4l3.7 3.7l-3.7 3.7l-3.7 -3.7zM261.5 227.5l3.7 3.7l-3.7 3.7l-3.7 -3.7zM262.2 227.6l3.7 3.7l-3.7 3.7l-3.7 -3.7zM262.8 228l3.7 3.7l-3.7 3.7l-3.7 -3.7zM263.4 228.7l3.7 3.7l-3.7 3.7l-3.7 -3.7zM264.1 228.2l3.7 3.7l-3.7 3.7l-3.7 -3.7zM264.7 227.6l3.7 3.7l-3.7 3.7l-3.7 -3.7zM265.3 228.2l3.7 3.7l-3.7 3.7l-3.7 -3.7zM265.9 228.1l3.7 3.7l-3.7 3.7l-3.7 -3.7zM266.4 227.8l3.7 3.7l-3.7 3.7l-3.7 -3.7zM267 227.8l3.7 3.7l-3.7 3.7l-3.7 -3.7zM267.6 228.1l3.7 3.7l-3.7 3.7l-3.7 -3.7zM268.2 227.5l3.7 3.7l-3.7 3.7l-3.7 -3.7zM268.7 227.7l3.7 3.7l-3.7 3.7l-3.7 -3.7zM269.3 228.7l3.7 3.7l-3.7 3.7l-3.7 -3.7zM269.8 227.9l3.7 3.7l-3.7 3.7l-3.7 -3.7zM270.3 228.2l3.7 3.7l-3.7 3.7l-3.7 -3.7zM270.9 227.2l3.7 3.7l-3.7 3.7l-3.7 -3.7zM271.4 227.7l3.7 3.7l-3.7 3.7l-3.7 -3.7zM271.9 227.8l3.7 3.7l-3.7 3.7l-3.7 -3.7zM272.4 228.1l3.7 3.7l-3.7 3.7l-3.7 -3.7zM272.9 228.1l3.7 3.7l-3.7 3.7l-3.7 -3.7zM273.4 228.2l3.7 3.7l-3.7 3.7l-3.7 -3.7zM273.9 227.3l3.7 3.7l-3.7 3.7l-3.7 -3.7zM274.4 228.1l3.7 3.7l-3.7 3.7l-3.7 -3.7zM274.9 228.3l3.7 3.7l-3.7 3.7l-3.7 -3.7zM275.3 227.7l3.7 3.7l-3.7 3.7l-3.7 -3.7zM275.8 227.6l3.7 3.7l-3.7 3.7l-3.7 -3.7zM276.3 228l3.7 3.7l-3.7 3.7l-3.7 -3.7zM276.7 228.4l3.7 3.7l-3.7 3.7l-3.7 -3.7zM277.2 227.5l3.7 3.7l-3.7 3.7l-3.7 -3.7zM277.6 227.5l3.7 3.7l-3.7 3.7l-3.7 -3.7zM278.1 228.9l3.7 3.7l-3.7 3.7l-3.7 -3.7zM278.5 228.4l3.7 3.7l-3.7 3.7l-3.7 -3.7zM278.9 227l3.7 3.7l-3.7 3.7l-3.7 -3.7zM279.4 228.3l3.7 3.7l-3.7 3.7l-3.7 -3.7zM279.8 228.7l3.7 3.7l-3.7 3.7l-3.7 -3.7zM280.2 227.7l3.7 3.7l-3.7 3.7l-3.7 -3.7zM280.6 228.1l3.7 3.7l-3.7 3.7l-3.7 -3.7zM281.1 227.6l3.7 3.7l-3.7 3.7l-3.7 -3.7zM281.5 228.8l3.7 3.7l-3.7 3.7l-3.7 -3.7zM281.9 227.4l3.7 3.7l-3.7 3.7l-3.7 -3.7zM282.3 227.7l3.7 3.7l-3.7 3.7l-3.7 -3.7zM282.7 228.2l3.7 3.7l-3.7 3.7l-3.7 -3.7zM283.1 228.3l3.7 3.7l-3.7 3.7l-3.7 -3.7zM283.5 227.6l3.7 3.7l-3.7 3.7l-3.7 -3.7zM283.8 228.3l3.7 3.7l-3.7 3.7l-3.7 -3.7zM284.2 227.6l3.7 3.7l-3.7 3.7l-3.7 -3.7zM284.6 228.2l3.7 3.7l-3.7 3.7l-3.7 -3.7zM285 227.8l3.7 3.7l-3.7 3.7l-3.7 -3.7zM285.4 228.7l3.7 3.7l-3.7 3.7l-3.7 -3.7zM285.7 228.3l3.7 3.7l-3.7 3.7l-3.7 -3.7zM286.1 228.8l3.7 3.7l-3.7 3.7l-3.7 -3.7zM286.5 228.2l3.7 3.7l-3.7 3.7l-3.7 -3.7zM286.8 228.2l3.7 3.7l-3.7 3.7l-3.7 -3.7zM287.2 228.1l3.7 3.7l-3.7 3.7l-3.7 -3.7zM287.5 227.9l3.7 3.7l-3.7 3.7l-3.7 -3.7zM287.9 228.9l3.7 3.7l-3.7 3.7l-3.7 -3.7zM288.2 228l3.7 3.7l-3.7 3.7l-3.7 -3.7zM288.6 227.9l3.7 3.7l-3.7 3.7l-3.7 -3.7zM288.9 228.5l3.7 3.7l-3.7 3.7l-3.7 -3.7zM289.3 228l3.7 3.7l-3.7 3.7l-3.7 -3.7zM289.6 229l3.7 3.7l-3.7 3.7l-3.7 -3.7zM289.9 228.5l3.7 3.7l-3.7 3.7l-3.7 -3.7zM290.3 228.5l3.7 3.7l-3.7 3.7l-3.7 -3.7zM290.6 228.6l3.7 3.7l-3.7 3.7l-3.7 -3.7zM290.9 227.5l3.7 3.7l-3.7 3.7l-3.7 -3.7zM291.3 227.8l3.7 3.7l-3.7 3.7l-3.7 -3.7zM291.6 227.9l3.7 3.7l-3.7 3.7l-3.7 -3.7zM291.9 228.2l3.7 3.7l-3.7 3.7l-3.7 -3.7zM292.2 227.3l3.7 3.7l-3.7 3.7l-3.7 -3.7zM292.5 227.6l3.7 3.7l-3.7 3.7l-3.7 -3.7zM292.8 227.8l3.7 3.7l-3.7 3.7l-3.7 -3.7zM293.2 228.1l3.7 3.7l-3.7 3.7l-3.7 -3.7zM293.5 228.1l3.7 3.7l-3.7 3.7l-3.7 -3.7zM293.8 228.2l3.7 3.7l-3.7 3.7l-3.7 -3.7zM294.1 228l3.7 3.7l-3.7 3.7l-3.7 -3.7zM294.4 228.6l3.7 3.7l-3.7 3.7l-3.7 -3.7zM294.7 228l3.7 3.7l-3.7 3.7l-3.7 -3.7zM295 227.7l3.7 3.7l-3.7 3.7l-3.7 -3.7zM295.3 227.9l3.7 3.7l-3.7 3.7l-3.7 -3.7zM295.6 228.5l3.7 3.7l-3.7 3.7l-3.7 -3.7zM295.9 227.9l3.7 3.7l-3.7 3.7l-3.7 -3.7zM296.1 228.4l3.7 3.7l-3.7 3.7l-3.7 -3.7zM296.4 228.6l3.7 3.7l-3.7 3.7l-3.7 -3.7zM296.7 227l3.7 3.7l-3.7 3.7l-3.7 -3.7zM297 228.2l3.7 3.7l-3.7 3.7l-3.7 -3.7zM297.3 228.4l3.7 3.7l-3.7 3.7l-3.7 -3.7zM297.6 228.7l3.7 3.7l-3.7 3.7l-3.7 -3.7zM297.8 228.1l3.7 3.7l-3.7 3.7l-3.7 -3.7zM298.1 228.2l3.7 3.7l-3.7 3.7l-3.7 -3.7zM298.4 228.9l3.7 3.7l-3.7 3.7l-3.7 -3.7zM298.7 228.7l3.7 3.7l-3.7 3.7l-3.7 -3.7zM298.9 227.5l3.7 3.7l-3.7 3.7l-3.7 -3.7zM299.2 228.4l3.7 3.7l-3.7 3.7l-3.7 -3.7zM299.5 228.7l3.7 3.7l-3.7 3.7l-3.7 -3.7zM299.7 227.7l3.7 3.7l-3.7 3.7l-3.7 -3.7zM300 228.8l3.7 3.7l-3.7 3.7l-3.7 -3.7zM300.3 227.1l3.7 3.7l-3.7 3.7l-3.7 -3.7zM300.5 228.7l3.7 3.7l-3.7 3.7l-3.7 -3.7zM300.8 228.3l3.7 3.7l-3.7 3.7l-3.7 -3.7zM301 228.4l3.7 3.7l-3.7 3.7l-3.7 -3.7zM301.3 228.2l3.7 3.7l-3.7 3.7l-3.7 -3.7zM301.6 228.8l3.7 3.7l-3.7 3.7l-3.7 -3.7zM301.8 228.4l3.7 3.7l-3.7 3.7l-3.7 -3.7zM302.1 227.8l3.7 3.7l-3.7 3.7l-3.7 -3.7zM302.3 227.5l3.7 3.7l-3.7 3.7l-3.7 -3.7zM302.6 227.4l3.7 3.7l-3.7 3.7l-3.7 -3.7zM302.8 227.5l3.7 3.7l-3.7 3.7l-3.7 -3.7zM303.1 228l3.7 3.7l-3.7 3.7l-3.7 -3.7zM303.3 227.8l3.7 3.7l-3.7 3.7l-3.7 -3.7zM303.5 227.7l3.7 3.7l-3.7 3.7l-3.7 -3.7zM303.8 228.3l3.7 3.7l-3.7 3.7l-3.7 -3.7zM304 227.8l3.7 3.7l-3.7 3.7l-3.7 -3.7zM304.3 227.8l3.7 3.7l-3.7 3.7l-3.7 -3.7zM304.5 228l3.7 3.7l-3.7 3.7l-3.7 -3.7zM304.7 228.1l3.7 3.7l-3.7 3.7l-3.7 -3.7zM305 227.8l3.7 3.7l-3.7 3.7l-3.7 -3.7zM305.2 228.4l3.7 3.7l-3.7 3.7l-3.7 -3.7zM305.4 228.6l3.7 3.7l-3.7 3.7l-3.7 -3.7zM305.7 227.9l3.7 3.7l-3.7 3.7l-3.7 -3.7zM305.9 227.8l3.7 3.7l-3.7 3.7l-3.7 -3.7zM306.1 228.6l3.7 3.7l-3.7 3.7l-3.7 -3.7zM306.4 227.8l3.7 3.7l-3.7 3.7l-3.7 -3.7zM306.6 227.9l3.7 3.7l-3.7 3.7l-3.7 -3.7zM306.8 228l3.7 3.7l-3.7 3.7l-3.7 -3.7zM307 227.8l3.7 3.7l-3.7 3.7l-3.7 -3.7zM307.3 227.8l3.7 3.7l-3.7 3.7l-3.7 -3.7zM307.5 227.9l3.7 3.7l-3.7 3.7l-3.7 -3.7zM307.7 227.7l3.7 3.7l-3.7 3.7l-3.7 -3.7zM307.9 228.1l3.7 3.7l-3.7 3.7l-3.7 -3.7zM308.1 228.6l3.7 3.7l-3.7 3.7l-3.7 -3.7zM308.4 227.9l3.7 3.7l-3.7 3.7l-3.7 -3.7zM308.6 227.7l3.7 3.7l-3.7 3.7l-3.7 -3.7zM308.8 228l3.7 3.7l-3.7 3.7l-3.7 -3.7zM309 227.7l3.7 3.7l-3.7 3.7l-3.7 -3.7zM309.2 228l3.7 3.7l-3.7 3.7l-3.7 -3.7z"/>
<path fill="#808000" d="M84.4 231.5l3 1.7v3.5l-3 1.7l-3 -1.7v-3.5zM113.8 225.3l3 1.7v3.5l-3 1.7l-3 -1.7v-3.5zM131 226.8l3 1.7v3.5l-3 1.7l-3 -1.7v-3.5zM143.2 226.8l3 1.7v3.5l-3 1.7l-3 -1.7v-3.5zM152.7 228l3 1.7v3.5l-3 1.7l-3 -1.7v-3.5zM160.4 227.3l3 1.7v3.5l-3 1.7l-3 -1.7v-3.5zM167 227.8l3 1.7v3.5l-3 1.7l-3 -1.7v-3.5zM172.6 228.1l3 1.7v3.5l-3 1.7l-3 -1.7v-3.5zM177.6 227.7l3 1.7v3.5l-3 1.7l-3 -1.7v-3.5zM182.1 227.7l3 1.7v3.5l-3 1.7l-3 -1.7v-3.5zM186.1 227.4l3 1.7v3.5l-3 1.7l-3 -1.7v-3.5zM189.8 226.8l3 1.7v3.5l-3 1.7l-3 -1.7v-3.5zM193.2 228l3 1.7v3.5l-3 1.7l-3 -1.7v-3.5zM196.4 227.7l3 1.7v3.5l-3 1.7l-3 -1.7v-3.5zM199.3 227l3 1.7v3.5l-3 1.7l-3 -1.7v-3.5zM202 227l3 1.7v3.5l-3 1.7l-3 -1.7v-3.5zM204.6 227.6l3 1.7v3.5l-3 1.7l-3 -1.7v-3.5zM207 227.4l3 1.7v3.5l-3 1.7l-3 -1.7v-3.5zM209.3 227.3l3 1.7v3.5l-3 1.7l-3 -1.7v-3.5zM211.5 226.8l3 1.7v3.5l-3 1.7l-3 -1.7v-3.5zM213.6 227.7l3 1.7v3.5l-3 1.7l-3 -1.7v-3.5zM215.6 227.8l3 1.7v3.5l-3 1.7l-3 -1.7v-3.5zM217.4 227.1l3 1.7v3.5l-3 1.7l-3 -1.7v-3.5zM219.2 227.8l3 1.7v3.5l-3 1.7l-3 -1.7v-3.5zM221 227.5l3 1.7v3.5l-3 1.7l-3 -1.7v-3.5zM222.6 226.9l3 1.7v3.5l-3 1.7l-3 -1.7v-3.5zM224.2 227.5l3 1.7v3.5l-3 1.7l-3 -1.7v-3.5zM225.8 227.4l3 1.7v3.5l-3 1.7l-3 -1.7v-3.5zM227.3 227.4l3 1.7v3.5l-3 1.7l-3 -1.7v-3.5zM228.7 227.8l3 1.7v3.5l-3 1.7l-3 -1.7v-3.5zM230.1 227.4l3 1.7v3.5l-3 1.7l-3 -1.7v-3.5zM231.5 227.3l3 1.7v3.5l-3 1.7l-3 -1.7v-3.5zM232.8 228l3 1.7v3.5l-3 1.7l-3 -1.7v-3.5zM234 227.6l3 1.7v3.5l-3 1.7l-3 -1.7v-3.5zM235.3 227.6l3 1.7v3.5l-3 1.7l-3 -1.7v-3.5zM236.5 227.2l3 1.7v3.5l-3 1.7l-3 -1.7v-3.5zM237.6 227.1l3 1.7v3.5l-3 1.7l-3 -1.7v-3.5zM238.7 227.5l3 1.7v3.5l-3 1.7l-3 -1.7v-3.5zM239.8 226.6l3 1.7v3.5l-3 1.7l-3 -1.7v-3.5zM240.9 228l3 1.7v3.5l-3 1.7l-3 -1.7v-3.5zM242 227.5l3 1.7v3.5l-3 1.7l-3 -1.7v-3.5zM243 227.1l3 1.7v3.5l-3 1.7l-3 -1.7v-3.5zM244 227.5l3 1.7v3.5l-3 1.7l-3 -1.7v-3.5zM245 227.7l3 1.7v3.5l-3 1.7l-3 -1.7v-3.5zM245.9 227.5l3 1.7v3.5l-3 1.7l-3 -1.7v-3.5zM246.9 227.4l3 1.7v3.5l-3 1.7l-3 -1.7v-3.5zM247.8 227.5l3 1.7v3.5l-3 1.7l-3 -1.7v-3.5zM248.7 227.1l3 1.7v3.5l-3 1.7l-3 -1.7v-3.5zM249.5 228.1l3 1.7v3.5l-3 1.7l-3 -1.7v-3.5zM250.4 227.4l3 1.7v3.5l-3 1.7l-3 -1.7v-3.5zM251.2 227.6l3 1.7v3.5l-3 1.7l-3 -1.7v-3.5zM252.1 227.5l3 1.7v3.5l-3 1.7l-3 -1.7v-3.5zM252.9 226.8l3 1.7v3.5l-3 1.7l-3 -1.7v-3.5zM253.7 227.1l3 1.7v3.5l-3 1.7l-3 -1.7v-3.5zM254.4 227.2l3 1.7v3.5l-3 1.7l-3 -1.7v-3.5zM255.2 228.4l3 1.7v3.5l-3 1.7l-3 -1.7v-3.5zM255.9 227.2l3 1.7v3.5l-3 1.7l-3 -1.7v-3.5zM256.7 228.1l3 1.7v3.5l-3 1.7l-3 -1.7v-3.5zM257.4 227.8l3 1.7v3.5l-3 1.7l-3 -1.7v-3.5zM258.1 227.7l3 1.7v3.5l-3 1.7l-3 -1.7v-3.5zM258.8 226.8l3 1.7v3.5l-3 1.7l-3 -1.7v-3.5zM259.5 228.2l3 1.7v3.5l-3 1.7l-3 -1.7v-3.5zM260.2 227l3 1.7v3.5l-3 1.7l-3 -1.7v-3.5zM260.9 226.8l3 1.7v3.5l-3 1.7l-3 -1.7v-3.5zM261.5 227l3 1.7v3.5l-3 1.7l-3 -1.7v-3.5zM262.2 227.3l3 1.7v3.5l-3 1.7l-3 -1.7v-3.5zM262.8 227l3 1.7v3.5l-3 1.7l-3 -1.7v-3.5zM263.4 227.7l3 1.7v3.5l-3 1.7l-3 -1.7v-3.5zM264.1 227.5l3 1.7v3.5l-3 1.7l-3 -1.7v-3.5zM264.7 227.3l3 1.7v3.5l-3 1.7l-3 -1.7v-3.5zM265.3 227.7l3 1.7v3.5l-3 1.7l-3 -1.7v-3.5zM265.9 227.5l3 1.7v3.5l-3 1.7l-3 -1.7v-3.5zM266.4 227.3l3 1.7v3.5l-3 1.7l-3 -1.7v-3.5zM267 227.6l3 1.7v3.5l-3 1.7l-3 -1.7v-3.5zM267.6 227l3 1.7v3.5l-3 1.7l-3 -1.7v-3.5zM268.2 227.5l3 1.7v3.5l-3 1.7l-3 -1.7v-3.5zM268.7 227.8l3 1.7v3.5l-3 1.7l-3 -1.7v-3.5zM269.3 227.5l3 1.7v3.5l-3 1.7l-3 -1.7v-3.5zM269.8 227.6l3 1.7v3.5l-3 1.7l-3 -1.7v-3.5zM270.3 227.8l3 1.7v3.5l-3 1.7l-3 -1.7v-3.5zM270.9 227.2l3 1.7v3.5l-3 1.7l-3 -1.7v-3.5zM271.4 226.7l3 1.7v3.5l-3 1.7l-3 -1.7v-3.5zM271.9 227.6l3 1.7v3.5l-3 1.7l-3 -1.7v-3.5zM272.4 227.5l3 1.7v3.5l-3 1.7l-3 -1.7v-3.5zM272.9 227.5l3 1.7v3.5l-3 1.7l-3 -1.7v-3.5zM273.4 227.9l3 1.7v3.5l-3 1.7l-3 -1.7v-3.5zM273.9 227l3 1.7v3.5l-3 1.7l-3 -1.7v-3.5zM274.4 227.4l3 1.7v3.5l-3 1.7l-3 -1.7v-3.5zM274.9 226.9l3 1.7v3.5l-3 1.7l-3 -1.7v-3.5zM275.3 227.5l3 1.7v3.5l-3 1.7l-3 -1.7v-3.5zM275.8 227.4l3 1.7v3.5l-3 1.7l-3 -1.7v-3.5zM276.3 226.7l3 1.7v3.5l-3 1.7l-3 -1.7v-3.5zM276.7 227.5l3 1.7v3.5l-3 1.7l-3 -1.7v-3.5zM277.2 227.3l3 1.7v3.5l-3 1.7l-3 -1.7v-3.5zM277.6 226.9l3 1.7v3.5l-3 1.7l-3 -1.7v-3.5zM278.1 227.5l3 1.7v3.5l-3 1.7l-3 -1.7v-3.5zM278.5 227.1l3 1.7v3.5l-3 1.7l-3 -1.7v-3.5zM278.9 227.8l3 1.7v3.5l-3 1.7l-3 -1.7v-3.5zM279.4 227.5l3 1.7v3.5l-3 1.7l-3 -1.7v-3.5zM279.8 227.6l3 1.7v3.5l-3 1.7l-3 -1.7v-3.5zM280.2 227.1l3 1.7v3.5l-3 1.7l-3 -1.7v-3.5zM280.6 227.6l3 1.7v3.5l-3 1.7l-3 -1.7v-3.5zM281.1 227.7l3 1.7v3.5l-3 1.7l-3 -1.7v-3.5zM281.5 227.2l3 1.7v3.5l-3 1.7l-3 -1.7v-3.5zM281.9 226.8l3 1.7v3.5l-3 1.7l-3 -1.7v-3.5zM282.3 227.9l3 1.7v3.5l-3 1.7l-3 -1.7v-3.5zM282.7 226.6l3 1.7v3.5l-3 1.7l-3 -1.7v-3.5zM283.1 228l3 1.7v3.5l-3 1.7l-3 -1.7v-3.5zM283.5 227.7l3 1.7v3.5l-3 1.7l-3 -1.7v-3.5zM283.8 227.8l3 1.7v3.5l-3 1.7l-3 -1.7v-3.5zM284.2 226.8l3 1.7v3.5l-3 1.7l-3 -1.7v-3.5zM284.6 227.3l3 1.7v3.5l-3 1.7l-3 -1.7v-3.5zM285 227.3l3 1.7v3.5l-3 1.7l-3 -1.7v-3.5zM285.4 226.9l3 1.7v3.5l-3 1.7l-3 -1.7v-3.5zM285.7 227.1l3 1.7v3.5l-3 1.7l-3 -1.7v-3.5zM286.1 227.5l3 1.7v3.5l-3 1.7l-3 -1.7v-3.5zM286.5 227.7l3 1.7v3.5l-3 1.7l-3 -1.7v-3.5zM286.8 228.1l3 1.7v3.5l-3 1.7l-3 -1.7v-3.5zM287.2 227l3 1.7v3.5l-3 1.7l-3 -1.7v-3.5zM287.5 227.6l3 1.7v3.5l-3 1.7l-3 -1.7v-3.5zM287.9 227.5l3 1.7v3.5l-3 1.7l-3 -1.7v-3.5zM288.2 227.4l3 1.7v3.5l-3 1.7l-3 -1.7v-3.5zM288.6 227.2l3 1.7v3.5l-3 1.7l-3 -1.7v-3.5zM288.9 227.2l3 1.7v3.5l-3 1.7l-3 -1.7v-3.5zM289.3 227.2l3 1.7v3.5l-3 1.7l-3 -1.7v-3.5zM289.6 226.6l3 1.7v3.5l-3 1.7l-3 -1.7v-3.5zM289.9 227l3 1.7v3.5l-3 1.7l-3 -1.7v-3.5zM290.3 227.9l3 1.7v3.5l-3 1.7l-3 -1.7v-3.5zM290.6 227.2l3 1.7v3.5l-3 1.7l-3 -1.7v-3.5zM290.9 227.8l3 1.7v3.5l-3 1.7l-3 -1.7v-3.5zM291.3 228l3 1.7v3.5l-3 1.7l-3 -1.7v-3.5zM291.6 227.3l3 1.7v3.5l-3 1.7l-3 -1.7v-3.5zM291.9 227.8l3 1.7v3.5l-3 1.7l-3 -1.7v-3.5zM292.2 227.6l3 1.7v3.5l-3 1.7l-3 -1.7v-3.5zM292.5 227.1l3 1.7v3.5l-3 1.7l-3 -1.7v-3.5zM292.8 227l3 1.7v3.5l-3 1.7l-3 -1.7v-3.5zM293.2 227.4l3 1.7v3.5l-3 1.7l-3 -1.7v-3.5zM293.5 227.8l3 1.7v3.5l-3 1.7l-3 -1.7v-3.5zM293.8 228.5l3 1.7v3.5l-3 1.7l-3 -1.7v-3.5zM294.1 227.3l3 1.7v3.5l-3 1.7l-3 -1.7v-3.5zM294.4 228l3 1.7v3.5l-3 1.7l-3 -1.7v-3.5zM294.7 227.5l3 1.7v3.5l-3 1.7l-3 -1.7v-3.5zM295 227.5l3 1.7v3.5l-3 1.7l-3 -1.7v-3.5zM295.3 227.6l3 1.7v3.5l-3 1.7l-3 -1.7v-3.5zM295.6 227.1l3 1.7v3.5l-3 1.7l-3 -1.7v-3.5zM295.9 227.5l3 1.7v3.5l-3 1.7l-3 -1.7v-3.5zM296.1 227.6l3 1.7v3.5l-3 1.7l-3 -1.7v-3.5zM296.4 227.8l3 1.7v3.5l-3 1.7l-3 -1.7v-3.5zM296.7 227.1l3 1.7v3.5l-3 1.7l-3 -1.7v-3.5zM297 227.3l3 1.7v3.5l-3 1.7l-3 -1.7v-3.5zM297.3 228.2l3 1.7v3.5l-3 1.7l-3 -1.7v-3.5zM297.6 227.6l3 1.7v3.5l-3 1.7l-3 -1.7v-3.5zM297.8 227.6l3 1.7v3.5l-3 1.7l-3 -1.7v-3.5zM298.1 227.3l3 1.7v3.5l-3 1.7l-3 -1.7v-3.5zM298.4 228.3l3 1.7v3.5l-3 1.7l-3 -1.7v-3.5zM298.7 227.8l3 1.7v3.5l-3 1.7l-3 -1.7v-3.5zM298.9 227.5l3 1.7v3.5l-3 1.7l-3 -1.7v-3.5zM299.2 227.7l3 1.7v3.5l-3 1.7l-3 -1.7v-3.5zM299.5 227.4l3 1.7v3.5l-3 1.7l-3 -1.7v-3.5zM299.7 227.7l3 1.7v3.5l-3 1.7l-3 -1.7v-3.5zM300 228.6l3 1.7v3.5l-3 1.7l-3 -1.7v-3.5zM300.3 228.1l3 1.7v3.5l-3 1.7l-3 -1.7v-3.5zM300.5 227.5l3 1.7v3.5l-3 1.7l-3 -1.7v-3.5zM300.8 227.3l3 1.7v3.5l-3 1.7l-3 -1.7v-3.5zM301 227.7l3 1.7v3.5l-3 1.7l-3 -1.7v-3.5zM301.3 226.9l3 1.7v3.5l-3 1.7l-3 -1.7v-3.5zM301.6 227.6l3 1.7v3.5l-3 1.7l-3 -1.7v-3.5zM301.8 227.4l3 1.7v3.5l-3 1.7l-3 -1.7v-3.5zM302.1 227.3l3 1.7v3.5l-3 1.7l-3 -1.7v-3.5zM302.3 227.4l3 1.7v3.5l-3 1.7l-3 -1.7v-3.5zM302.6 226.9l3 1.7v3.5l-3 1.7l-3 -1.7v-3.5zM302.8 227.6l3 1.7v3.5l-3 1.7l-3 -1.7v-3.5zM303.1 227.8l3 1.7v3.5l-3 1.7l-3 -1.7v-3.5zM303.3 227.1l3 1.7v3.5l-3 1.7l-3 -1.7v-3.5zM303.5 227.6l3 1.7v3.5l-3 1.7l-3 -1.7v-3.5zM303.8 227.6l3 1.7v3.5l-3 1.7l-3 -1.7v-3.5zM304 227.4l3 1.7v3.5l-3 1.7l-3 -1.7v-3.5zM304.3 227.2l3 1.7v3.5l-3 1.7l-3 -1.7v-3.5zM304.5 227.5l3 1.7v3.5l-3 1.7l-3 -1.7v-3.5zM304.7 227l3 1.7v3.5l-3 1.7l-3 -1.7v-3.5zM305 227.7l3 1.7v3.5l-3 1.7l-3 -1.7v-3.5zM305.2 227.9l3 1.7v3.5l-3 1.7l-3 -1.7v-3.5zM305.4 227.6l3 1.7v3.5l-3 1.7l-3 -1.7v-3.5zM305.7 227.5l3 1.7v3.5l-3 1.7l-3 -1.7v-3.5zM305.9 226.6l3 1.7v3.5l-3 1.7l-3 -1.7v-3.5zM306.1 226.7l3 1.7v3.5l-3 1.7l-3 -1.7v-3.5zM306.4 227.5l3 1.7v3.5l-3 1.7l-3 -1.7v-3.5zM306.6 227.6l3 1.7v3.5l-3 1.7l-3 -1.7v-3.5zM306.8 227.6l3 1.7v3.5l-3 1.7l-3 -1.7v-3.5zM307 227.3l3 1.7v3.5l-3 1.7l-3 -1.7v-3.5zM307.3 227.7l3 1.7v3.5l-3 1.7l-3 -1.7v-3.5zM307.5 227.2l3 1.7v3.5l-3 1.7l-3 -1.7v-3.5zM307.7 227.6l3 1.7v3.5l-3 1.7l-3 -1.7v-3.5zM307.9 228.1l3 1.7v3.5l-3 1.7l-3 -1.7v-3.5zM308.1 227.8l3 1.7v3.5l-3 1.7l-3 -1.7v-3.5zM308.4 227.2l3 1.7v3.5l-3 1.7l-3 -1.7v-3.5zM308.6 227l3 1.7v3.5l-3 1.7l-3 -1.7v-3.5zM308.8 227.3l3 1.7v3.5l-3 1.7l-3 -1.7v-3.5zM309 227.4l3 1.7v3.5l-3 1.7l-3 -1.7v-3.5zM309.2 226.9l3 1.7v3.5l-3 1.7l-3 -1.7v-3.5z"/>
</g>
<path d="M38.5 231.5h4M38.5 185.5h4M38.5 140.5h4M38.5 95.5h4M38.5 50.5h4M38.5 5.5h4M38.5 208.5h2.4M38.5 163.5h2.4M38.5 118.5h2.4M38.5 73.5h2.4M38.5 28.5h2.4M45.5 253.4v-2.4M54.5 253.4v-2.4M62.5 253.4v-2.4M69.5 253.4v-2.4M74.5 253.4v-2.4M79.5 253.4v-2.4M84.5 253.4v-4M113.5 253.4v-2.4M131.5 253.4v-2.4M143.5 253.4v-2.4M152.5 253.4v-2.4M160.5 253.4v-2.4M166.5 253.4v-2.4M172.5 253.4v-2.4M177.5 253.4v-2.4M182.5 253.4v-4M211.5 253.4v-2.4M228.5 253.4v-2.4M240.5 253.4v-2.4M250.5 253.4v-2.4M258.5 253.4v-2.4M264.5 253.4v-2.4M270.5 253.4v-2.4M275.5 253.4v-2.4M279.5 253.4v-4M309.5 253.4v-2.4" stroke="#000" stroke-width="1" fill="none"/>
<rect x="38.5" y="5.3" width="281.3" height="248.1" fill="none" stroke="#000" stroke-width="1.3"/>
<text transform="translate(34.0,235.1) scale(0.93,1)" text-anchor="end" class="tl">0</text>
<text transform="translate(34.0,190.0) scale(0.93,1)" text-anchor="end" class="tl">40</text>
<text transform="translate(34.0,144.9) scale(0.93,1)" text-anchor="end" class="tl">80</text>
<text transform="translate(34.0,99.8) scale(0.93,1)" text-anchor="end" class="tl">120</text>
<text transform="translate(34.0,54.7) scale(0.93,1)" text-anchor="end" class="tl">160</text>
<text transform="translate(34.0,9.6) scale(0.93,1)" text-anchor="end" class="tl">200</text>
<text transform="translate(84.7,272.0) scale(0.87,1)" text-anchor="middle" class="tl">10<tspan dy="-5.6" font-size="7.8">3</tspan></text>
<text transform="translate(182.4,272.0) scale(0.87,1)" text-anchor="middle" class="tl">10<tspan dy="-5.6" font-size="7.8">4</tspan></text>
<text transform="translate(280.1,272.0) scale(0.87,1)" text-anchor="middle" class="tl">10<tspan dy="-5.6" font-size="7.8">5</tspan></text>
<rect x="160.4" y="117.0" width="147.5" height="93.5" fill="#fff" stroke="#555" stroke-width="0.9"/>
<path fill="#000" d="M172.4 123.8h4.8v4.8h-4.8z"/>
<text transform="translate(191.3,130.2) scale(0.95,1)" class="lg">RPET</text>
<path fill="#ff0000" d="M171.9 142a2.9 2.9 0 1 0 5.8 0a2.9 2.9 0 1 0 -5.8 0z"/>
<text transform="translate(191.3,146.0) scale(0.95,1)" class="lg">RPET+ Nd<tspan dy="3.4" font-size="9">2</tspan><tspan dy="-3.4">O</tspan><tspan dy="3.4" font-size="9">3</tspan><tspan dy="-3.4"> 1wt.%</tspan></text>
<path fill="#00ff00" d="M174.8 157.3l3.2 5.8h-6.4z"/>
<text transform="translate(191.3,164.8) scale(0.95,1)" class="lg">RPET+ Nd<tspan dy="3.4" font-size="9">2</tspan><tspan dy="-3.4">O</tspan><tspan dy="3.4" font-size="9">3</tspan><tspan dy="-3.4"> 2wt.%</tspan></text>
<path fill="#ff00ff" d="M174.8 176.8l3.2 3.2l-3.2 3.2l-3.2 -3.2z"/>
<text transform="translate(191.3,184.0) scale(0.95,1)" class="lg">RPET+ Nd<tspan dy="3.4" font-size="9">2</tspan><tspan dy="-3.4">O</tspan><tspan dy="3.4" font-size="9">3</tspan><tspan dy="-3.4"> 4wt.%</tspan></text>
<path fill="#808000" d="M174.8 195.5l2.8 1.6v3.1l-2.8 1.6l-2.8 -1.6v-3.1z"/>
<text transform="translate(191.3,202.6) scale(0.95,1)" class="lg">RPET+ Nd<tspan dy="3.4" font-size="9">2</tspan><tspan dy="-3.4">O</tspan><tspan dy="3.4" font-size="9">3</tspan><tspan dy="-3.4"> 8wt.%</tspan></text>
<text transform="translate(270.9,25.2) scale(0.84,1)" class="tp">100</text>
<text transform="translate(295.6,19.8) scale(0.92,1)" class="tpo">O</text>
<text transform="translate(302.3,25.2) scale(0.84,1)" class="tp">C</text>
<text transform="translate(57.8,25.0)" class="pl">(a)</text>
<text transform="translate(162.2,294.2)" class="ax">f (Hz)</text>
<g clip-path="url(#cb)">
<path fill="#000" d="M402.8 139.7h5.4v5.4h-5.4zM451.2 108.4h5.4v5.4h-5.4zM473.7 137h5.4v5.4h-5.4zM488.5 104.9h5.4v5.4h-5.4zM499.6 93.2h5.4v5.4h-5.4zM508.4 93.2h5.4v5.4h-5.4zM515.8 111.5h5.4v5.4h-5.4zM522.1 101.6h5.4v5.4h-5.4zM527.6 109.3h5.4v5.4h-5.4zM532.5 98.7h5.4v5.4h-5.4zM536.9 92.9h5.4v5.4h-5.4zM540.9 98.6h5.4v5.4h-5.4zM544.6 106.9h5.4v5.4h-5.4zM548 106.8h5.4v5.4h-5.4zM551.1 98.4h5.4v5.4h-5.4zM554.1 104.8h5.4v5.4h-5.4zM556.8 108.8h5.4v5.4h-5.4zM559.4 111.1h5.4v5.4h-5.4zM561.9 108.8h5.4v5.4h-5.4zM564.2 101.6h5.4v5.4h-5.4zM566.4 104.2h5.4v5.4h-5.4zM568.5 107.1h5.4v5.4h-5.4zM570.5 104h5.4v5.4h-5.4zM572.4 109.3h5.4v5.4h-5.4zM574.2 100.4h5.4v5.4h-5.4zM576 101.8h5.4v5.4h-5.4zM577.7 99.3h5.4v5.4h-5.4zM579.3 105h5.4v5.4h-5.4zM580.9 98.2h5.4v5.4h-5.4zM582.4 107.9h5.4v5.4h-5.4zM583.9 98.5h5.4v5.4h-5.4zM585.3 97.5h5.4v5.4h-5.4zM586.7 102.8h5.4v5.4h-5.4zM588 97h5.4v5.4h-5.4zM589.3 94.8h5.4v5.4h-5.4zM590.6 108.9h5.4v5.4h-5.4zM591.8 107.7h5.4v5.4h-5.4zM593 110.3h5.4v5.4h-5.4zM594.1 100.9h5.4v5.4h-5.4zM595.3 107.5h5.4v5.4h-5.4zM596.4 112.1h5.4v5.4h-5.4zM597.5 104.4h5.4v5.4h-5.4zM598.5 110.1h5.4v5.4h-5.4zM599.5 95.2h5.4v5.4h-5.4zM600.5 104.8h5.4v5.4h-5.4zM601.5 101.5h5.4v5.4h-5.4zM602.5 108.4h5.4v5.4h-5.4zM603.4 110.2h5.4v5.4h-5.4zM604.3 102h5.4v5.4h-5.4zM605.2 99.6h5.4v5.4h-5.4zM606.1 107.8h5.4v5.4h-5.4zM607 109.6h5.4v5.4h-5.4zM607.8 105.3h5.4v5.4h-5.4zM608.6 101h5.4v5.4h-5.4zM609.5 106.9h5.4v5.4h-5.4zM610.3 97.2h5.4v5.4h-5.4zM611 101.9h5.4v5.4h-5.4zM611.8 98.1h5.4v5.4h-5.4zM612.6 109.1h5.4v5.4h-5.4zM613.3 111.1h5.4v5.4h-5.4zM614.1 109.2h5.4v5.4h-5.4zM614.8 106.7h5.4v5.4h-5.4zM615.5 98.4h5.4v5.4h-5.4zM616.2 102.2h5.4v5.4h-5.4zM616.9 103.4h5.4v5.4h-5.4zM617.6 109.9h5.4v5.4h-5.4zM618.2 102.6h5.4v5.4h-5.4zM618.9 105.8h5.4v5.4h-5.4zM619.5 103.5h5.4v5.4h-5.4zM620.2 106.5h5.4v5.4h-5.4zM620.8 110.1h5.4v5.4h-5.4zM621.4 104.2h5.4v5.4h-5.4zM622 100.4h5.4v5.4h-5.4zM622.6 107.3h5.4v5.4h-5.4zM623.2 102.3h5.4v5.4h-5.4zM623.8 94.8h5.4v5.4h-5.4zM624.4 100h5.4v5.4h-5.4zM625 97.5h5.4v5.4h-5.4zM625.5 106h5.4v5.4h-5.4zM626.1 101.1h5.4v5.4h-5.4zM626.6 108.3h5.4v5.4h-5.4zM627.2 103.3h5.4v5.4h-5.4zM627.7 107.7h5.4v5.4h-5.4zM628.3 104.6h5.4v5.4h-5.4zM628.8 110.8h5.4v5.4h-5.4zM629.3 102.7h5.4v5.4h-5.4zM629.8 105.8h5.4v5.4h-5.4zM630.3 103.8h5.4v5.4h-5.4zM630.8 106.9h5.4v5.4h-5.4zM631.3 116.1h5.4v5.4h-5.4zM631.8 114h5.4v5.4h-5.4zM632.3 112.6h5.4v5.4h-5.4zM632.8 99.2h5.4v5.4h-5.4zM633.2 99.9h5.4v5.4h-5.4zM633.7 90.9h5.4v5.4h-5.4zM634.2 99.9h5.4v5.4h-5.4zM634.6 98.7h5.4v5.4h-5.4zM635.1 114.9h5.4v5.4h-5.4zM635.5 100.4h5.4v5.4h-5.4zM636 115.3h5.4v5.4h-5.4zM636.4 114.2h5.4v5.4h-5.4zM636.9 97.3h5.4v5.4h-5.4zM637.3 100.5h5.4v5.4h-5.4zM637.7 98.6h5.4v5.4h-5.4zM638.1 95.7h5.4v5.4h-5.4zM638.6 99.6h5.4v5.4h-5.4zM639 99.9h5.4v5.4h-5.4zM639.4 114.7h5.4v5.4h-5.4zM639.8 98.7h5.4v5.4h-5.4zM640.2 112.9h5.4v5.4h-5.4zM640.6 113.7h5.4v5.4h-5.4zM641 113.2h5.4v5.4h-5.4zM641.4 96.2h5.4v5.4h-5.4zM641.8 119.2h5.4v5.4h-5.4zM642.2 111.9h5.4v5.4h-5.4zM642.5 115.8h5.4v5.4h-5.4zM642.9 119.6h5.4v5.4h-5.4zM643.3 90.9h5.4v5.4h-5.4zM643.7 114.4h5.4v5.4h-5.4zM644 98.7h5.4v5.4h-5.4zM644.4 117.5h5.4v5.4h-5.4zM644.8 118.7h5.4v5.4h-5.4zM645.1 114.5h5.4v5.4h-5.4zM645.5 97.5h5.4v5.4h-5.4zM645.9 112.1h5.4v5.4h-5.4zM646.2 100.9h5.4v5.4h-5.4zM646.6 120.6h5.4v5.4h-5.4zM646.9 114.8h5.4v5.4h-5.4zM647.2 99.1h5.4v5.4h-5.4zM647.6 100.3h5.4v5.4h-5.4zM647.9 117h5.4v5.4h-5.4zM648.3 112.9h5.4v5.4h-5.4zM648.6 97h5.4v5.4h-5.4zM648.9 100.6h5.4v5.4h-5.4zM649.3 114.4h5.4v5.4h-5.4zM649.6 97.8h5.4v5.4h-5.4zM649.9 96.5h5.4v5.4h-5.4zM650.2 98.7h5.4v5.4h-5.4zM650.6 117.4h5.4v5.4h-5.4zM650.9 115.1h5.4v5.4h-5.4zM651.2 116.8h5.4v5.4h-5.4zM651.5 117h5.4v5.4h-5.4zM651.8 99.4h5.4v5.4h-5.4zM652.1 115.1h5.4v5.4h-5.4zM652.4 112.5h5.4v5.4h-5.4zM652.7 113.6h5.4v5.4h-5.4zM653 114.7h5.4v5.4h-5.4zM653.3 116.5h5.4v5.4h-5.4zM653.6 112.3h5.4v5.4h-5.4zM653.9 116.5h5.4v5.4h-5.4zM654.2 118h5.4v5.4h-5.4zM654.5 115h5.4v5.4h-5.4zM654.8 116.6h5.4v5.4h-5.4zM655.1 100.8h5.4v5.4h-5.4zM655.4 93.8h5.4v5.4h-5.4zM655.7 99.8h5.4v5.4h-5.4zM655.9 115.5h5.4v5.4h-5.4zM656.2 96.9h5.4v5.4h-5.4zM656.5 94.8h5.4v5.4h-5.4zM656.8 112.3h5.4v5.4h-5.4zM657 112.9h5.4v5.4h-5.4zM657.3 112.5h5.4v5.4h-5.4zM657.6 116h5.4v5.4h-5.4zM657.9 92h5.4v5.4h-5.4zM658.1 97.3h5.4v5.4h-5.4zM658.4 113.9h5.4v5.4h-5.4zM658.7 98.4h5.4v5.4h-5.4zM658.9 115.9h5.4v5.4h-5.4zM659.2 93.7h5.4v5.4h-5.4zM659.4 99h5.4v5.4h-5.4zM659.7 99.1h5.4v5.4h-5.4zM660 95.9h5.4v5.4h-5.4zM660.2 119.1h5.4v5.4h-5.4zM660.5 115.5h5.4v5.4h-5.4zM660.7 117.8h5.4v5.4h-5.4zM661 93h5.4v5.4h-5.4zM661.2 100.1h5.4v5.4h-5.4zM661.5 116h5.4v5.4h-5.4zM661.7 121.2h5.4v5.4h-5.4zM662 112.6h5.4v5.4h-5.4zM662.2 97h5.4v5.4h-5.4zM662.5 97.9h5.4v5.4h-5.4zM662.7 100.1h5.4v5.4h-5.4zM662.9 98.6h5.4v5.4h-5.4zM663.2 99.3h5.4v5.4h-5.4zM663.4 112.3h5.4v5.4h-5.4zM663.7 115.5h5.4v5.4h-5.4zM663.9 100.8h5.4v5.4h-5.4zM664.1 93.4h5.4v5.4h-5.4zM664.4 100.5h5.4v5.4h-5.4zM664.6 96.9h5.4v5.4h-5.4zM664.8 99.9h5.4v5.4h-5.4zM665.1 96.2h5.4v5.4h-5.4zM665.3 97.1h5.4v5.4h-5.4zM665.5 97.8h5.4v5.4h-5.4zM665.7 93.6h5.4v5.4h-5.4zM666 112.7h5.4v5.4h-5.4zM666.2 99.8h5.4v5.4h-5.4zM666.4 116.6h5.4v5.4h-5.4zM666.6 96.4h5.4v5.4h-5.4zM610.7 37.8h5.4v5.4h-5.4zM591.6 43.7h5.4v5.4h-5.4zM547.7 58.4h5.4v5.4h-5.4zM596.7 59.3h5.4v5.4h-5.4zM595.1 60h5.4v5.4h-5.4zM635.7 67.5h5.4v5.4h-5.4zM559.3 74h5.4v5.4h-5.4zM540.7 78h5.4v5.4h-5.4zM582.3 81.5h5.4v5.4h-5.4zM613.5 80.6h5.4v5.4h-5.4zM623.1 81.5h5.4v5.4h-5.4zM602.1 83.4h5.4v5.4h-5.4zM633.4 83.4h5.4v5.4h-5.4zM580.4 88.7h5.4v5.4h-5.4zM599.1 87.3h5.4v5.4h-5.4zM630.6 87.3h5.4v5.4h-5.4zM551.2 93.9h5.4v5.4h-5.4zM561.7 95.5h5.4v5.4h-5.4zM590.4 95.7h5.4v5.4h-5.4zM544.9 114.9h5.4v5.4h-5.4zM553.5 115.6h5.4v5.4h-5.4zM556.5 117.9h5.4v5.4h-5.4zM574.1 116.1h5.4v5.4h-5.4zM597.9 118.4h5.4v5.4h-5.4zM592 122.6h5.4v5.4h-5.4zM593.2 127.7h5.4v5.4h-5.4zM589.2 130.8h5.4v5.4h-5.4zM602.6 130.1h5.4v5.4h-5.4zM605.6 130.1h5.4v5.4h-5.4zM620.1 119.6h5.4v5.4h-5.4zM629 121.9h5.4v5.4h-5.4zM646.5 133.6h5.4v5.4h-5.4zM662.1 124.2h5.4v5.4h-5.4zM536.7 137.1h5.4v5.4h-5.4zM585 143.6h5.4v5.4h-5.4zM596.7 146h5.4v5.4h-5.4zM652.1 122.3h5.4v5.4h-5.4zM583.9 169.2h5.4v5.4h-5.4zM586.7 206.6h5.4v5.4h-5.4zM551 94.3h5.4v5.4h-5.4zM561.5 95.7h5.4v5.4h-5.4zM544.5 114.4h5.4v5.4h-5.4zM553.5 115.1h5.4v5.4h-5.4zM568.8 110.8h5.4v5.4h-5.4zM580.5 88.9h5.4v5.4h-5.4zM590.7 96.2h5.4v5.4h-5.4zM592.9 122.4h5.4v5.4h-5.4zM565.6 116.5h5.4v5.4h-5.4zM618.2 131.5h5.4v5.4h-5.4zM544.1 92.4h5.4v5.4h-5.4zM654.1 112.4h5.4v5.4h-5.4zM635 116.6h5.4v5.4h-5.4zM603.7 111.7h5.4v5.4h-5.4zM614.7 96.9h5.4v5.4h-5.4zM635.9 114.7h5.4v5.4h-5.4zM665.5 96.8h5.4v5.4h-5.4zM644.2 116.7h5.4v5.4h-5.4zM607.4 116.6h5.4v5.4h-5.4zM653.7 116.1h5.4v5.4h-5.4zM624.7 95.5h5.4v5.4h-5.4zM647.2 118.1h5.4v5.4h-5.4zM612.4 96.3h5.4v5.4h-5.4zM642.4 113.9h5.4v5.4h-5.4zM654.2 114h5.4v5.4h-5.4zM650.6 114.2h5.4v5.4h-5.4zM634.4 111.5h5.4v5.4h-5.4zM613.8 115.5h5.4v5.4h-5.4zM649.9 92.4h5.4v5.4h-5.4zM659.4 112.1h5.4v5.4h-5.4zM609.6 118.3h5.4v5.4h-5.4zM604.9 112h5.4v5.4h-5.4zM658.2 114.8h5.4v5.4h-5.4zM635 112.6h5.4v5.4h-5.4zM627.6 114.4h5.4v5.4h-5.4zM646.3 95.2h5.4v5.4h-5.4zM623.8 94.4h5.4v5.4h-5.4zM638.9 118.6h5.4v5.4h-5.4zM643.7 93.6h5.4v5.4h-5.4zM654 93.7h5.4v5.4h-5.4zM615.3 113.1h5.4v5.4h-5.4zM614.2 95.4h5.4v5.4h-5.4zM632.7 122.6h5.4v5.4h-5.4zM610.9 115.8h5.4v5.4h-5.4zM619.8 114.6h5.4v5.4h-5.4zM662.5 95.2h5.4v5.4h-5.4zM605.4 120.6h5.4v5.4h-5.4zM614.8 111.7h5.4v5.4h-5.4zM649.5 92.5h5.4v5.4h-5.4zM656 117h5.4v5.4h-5.4zM613.3 95.4h5.4v5.4h-5.4zM656.4 119h5.4v5.4h-5.4zM616.7 117.2h5.4v5.4h-5.4zM665.6 116.7h5.4v5.4h-5.4zM645.8 92.7h5.4v5.4h-5.4zM611.8 95.7h5.4v5.4h-5.4zM656.1 114.6h5.4v5.4h-5.4zM633.8 96.2h5.4v5.4h-5.4zM612.1 96.6h5.4v5.4h-5.4zM620 117.3h5.4v5.4h-5.4zM620 95.5h5.4v5.4h-5.4zM637.9 113h5.4v5.4h-5.4zM605.6 92.8h5.4v5.4h-5.4zM645.5 96.8h5.4v5.4h-5.4zM614.1 116.6h5.4v5.4h-5.4zM666.3 117.6h5.4v5.4h-5.4z"/>
<path fill="#ff0000" d="M433 -280.8a3.0 3.0 0 1 0 6 0a3.0 3.0 0 1 0 -6 0zM463.5 108a3.0 3.0 0 1 0 6 0a3.0 3.0 0 1 0 -6 0zM481.4 111.5a3.0 3.0 0 1 0 6 0a3.0 3.0 0 1 0 -6 0zM494.1 108.6a3.0 3.0 0 1 0 6 0a3.0 3.0 0 1 0 -6 0zM503.9 101.7a3.0 3.0 0 1 0 6 0a3.0 3.0 0 1 0 -6 0zM511.9 104.3a3.0 3.0 0 1 0 6 0a3.0 3.0 0 1 0 -6 0zM518.7 105.6a3.0 3.0 0 1 0 6 0a3.0 3.0 0 1 0 -6 0zM524.6 112.2a3.0 3.0 0 1 0 6 0a3.0 3.0 0 1 0 -6 0zM529.8 109.9a3.0 3.0 0 1 0 6 0a3.0 3.0 0 1 0 -6 0zM534.5 107.4a3.0 3.0 0 1 0 6 0a3.0 3.0 0 1 0 -6 0zM538.6 106.8a3.0 3.0 0 1 0 6 0a3.0 3.0 0 1 0 -6 0zM542.5 110.2a3.0 3.0 0 1 0 6 0a3.0 3.0 0 1 0 -6 0zM546 104.4a3.0 3.0 0 1 0 6 0a3.0 3.0 0 1 0 -6 0zM549.3 106.4a3.0 3.0 0 1 0 6 0a3.0 3.0 0 1 0 -6 0zM552.3 110a3.0 3.0 0 1 0 6 0a3.0 3.0 0 1 0 -6 0zM555.2 111.3a3.0 3.0 0 1 0 6 0a3.0 3.0 0 1 0 -6 0zM557.8 109a3.0 3.0 0 1 0 6 0a3.0 3.0 0 1 0 -6 0zM560.3 100a3.0 3.0 0 1 0 6 0a3.0 3.0 0 1 0 -6 0zM562.7 100.5a3.0 3.0 0 1 0 6 0a3.0 3.0 0 1 0 -6 0zM565 116.1a3.0 3.0 0 1 0 6 0a3.0 3.0 0 1 0 -6 0zM567.1 114a3.0 3.0 0 1 0 6 0a3.0 3.0 0 1 0 -6 0zM569.2 105.3a3.0 3.0 0 1 0 6 0a3.0 3.0 0 1 0 -6 0zM571.1 108a3.0 3.0 0 1 0 6 0a3.0 3.0 0 1 0 -6 0zM573 110a3.0 3.0 0 1 0 6 0a3.0 3.0 0 1 0 -6 0zM574.8 105.4a3.0 3.0 0 1 0 6 0a3.0 3.0 0 1 0 -6 0zM576.5 107.3a3.0 3.0 0 1 0 6 0a3.0 3.0 0 1 0 -6 0zM578.2 106.6a3.0 3.0 0 1 0 6 0a3.0 3.0 0 1 0 -6 0zM579.8 106.7a3.0 3.0 0 1 0 6 0a3.0 3.0 0 1 0 -6 0zM581.4 111.7a3.0 3.0 0 1 0 6 0a3.0 3.0 0 1 0 -6 0zM582.9 102.8a3.0 3.0 0 1 0 6 0a3.0 3.0 0 1 0 -6 0zM584.3 109.3a3.0 3.0 0 1 0 6 0a3.0 3.0 0 1 0 -6 0zM585.7 103.5a3.0 3.0 0 1 0 6 0a3.0 3.0 0 1 0 -6 0zM587.1 105.2a3.0 3.0 0 1 0 6 0a3.0 3.0 0 1 0 -6 0zM588.4 107.5a3.0 3.0 0 1 0 6 0a3.0 3.0 0 1 0 -6 0zM589.6 107.2a3.0 3.0 0 1 0 6 0a3.0 3.0 0 1 0 -6 0zM590.9 107.8a3.0 3.0 0 1 0 6 0a3.0 3.0 0 1 0 -6 0zM592.1 114.2a3.0 3.0 0 1 0 6 0a3.0 3.0 0 1 0 -6 0zM593.3 108.8a3.0 3.0 0 1 0 6 0a3.0 3.0 0 1 0 -6 0zM594.4 106.2a3.0 3.0 0 1 0 6 0a3.0 3.0 0 1 0 -6 0zM595.5 113.3a3.0 3.0 0 1 0 6 0a3.0 3.0 0 1 0 -6 0zM596.6 112.8a3.0 3.0 0 1 0 6 0a3.0 3.0 0 1 0 -6 0zM597.7 103.9a3.0 3.0 0 1 0 6 0a3.0 3.0 0 1 0 -6 0zM598.7 104.9a3.0 3.0 0 1 0 6 0a3.0 3.0 0 1 0 -6 0zM599.7 112.9a3.0 3.0 0 1 0 6 0a3.0 3.0 0 1 0 -6 0zM600.7 106.1a3.0 3.0 0 1 0 6 0a3.0 3.0 0 1 0 -6 0zM601.7 107.8a3.0 3.0 0 1 0 6 0a3.0 3.0 0 1 0 -6 0zM602.6 104.4a3.0 3.0 0 1 0 6 0a3.0 3.0 0 1 0 -6 0zM603.6 108.8a3.0 3.0 0 1 0 6 0a3.0 3.0 0 1 0 -6 0zM604.5 108.4a3.0 3.0 0 1 0 6 0a3.0 3.0 0 1 0 -6 0zM605.4 110.2a3.0 3.0 0 1 0 6 0a3.0 3.0 0 1 0 -6 0zM606.2 107.1a3.0 3.0 0 1 0 6 0a3.0 3.0 0 1 0 -6 0zM607.1 108.1a3.0 3.0 0 1 0 6 0a3.0 3.0 0 1 0 -6 0zM607.9 109.8a3.0 3.0 0 1 0 6 0a3.0 3.0 0 1 0 -6 0zM608.8 108.8a3.0 3.0 0 1 0 6 0a3.0 3.0 0 1 0 -6 0zM609.6 110.1a3.0 3.0 0 1 0 6 0a3.0 3.0 0 1 0 -6 0zM610.4 105.6a3.0 3.0 0 1 0 6 0a3.0 3.0 0 1 0 -6 0zM611.1 111a3.0 3.0 0 1 0 6 0a3.0 3.0 0 1 0 -6 0zM611.9 112.7a3.0 3.0 0 1 0 6 0a3.0 3.0 0 1 0 -6 0zM612.7 110.8a3.0 3.0 0 1 0 6 0a3.0 3.0 0 1 0 -6 0zM613.4 104.2a3.0 3.0 0 1 0 6 0a3.0 3.0 0 1 0 -6 0zM614.1 109.3a3.0 3.0 0 1 0 6 0a3.0 3.0 0 1 0 -6 0zM614.8 105.6a3.0 3.0 0 1 0 6 0a3.0 3.0 0 1 0 -6 0zM615.5 105.3a3.0 3.0 0 1 0 6 0a3.0 3.0 0 1 0 -6 0zM616.2 109.3a3.0 3.0 0 1 0 6 0a3.0 3.0 0 1 0 -6 0zM616.9 105.3a3.0 3.0 0 1 0 6 0a3.0 3.0 0 1 0 -6 0zM617.6 106.1a3.0 3.0 0 1 0 6 0a3.0 3.0 0 1 0 -6 0zM618.3 107.8a3.0 3.0 0 1 0 6 0a3.0 3.0 0 1 0 -6 0zM618.9 109.9a3.0 3.0 0 1 0 6 0a3.0 3.0 0 1 0 -6 0zM619.6 107.9a3.0 3.0 0 1 0 6 0a3.0 3.0 0 1 0 -6 0zM620.2 111.7a3.0 3.0 0 1 0 6 0a3.0 3.0 0 1 0 -6 0zM620.8 108.5a3.0 3.0 0 1 0 6 0a3.0 3.0 0 1 0 -6 0zM621.4 109.5a3.0 3.0 0 1 0 6 0a3.0 3.0 0 1 0 -6 0zM622 106.3a3.0 3.0 0 1 0 6 0a3.0 3.0 0 1 0 -6 0zM622.6 106.6a3.0 3.0 0 1 0 6 0a3.0 3.0 0 1 0 -6 0zM623.2 109.6a3.0 3.0 0 1 0 6 0a3.0 3.0 0 1 0 -6 0zM623.8 105a3.0 3.0 0 1 0 6 0a3.0 3.0 0 1 0 -6 0zM624.4 104a3.0 3.0 0 1 0 6 0a3.0 3.0 0 1 0 -6 0zM625 107.5a3.0 3.0 0 1 0 6 0a3.0 3.0 0 1 0 -6 0zM625.5 109.9a3.0 3.0 0 1 0 6 0a3.0 3.0 0 1 0 -6 0zM626.1 106.1a3.0 3.0 0 1 0 6 0a3.0 3.0 0 1 0 -6 0zM626.6 115a3.0 3.0 0 1 0 6 0a3.0 3.0 0 1 0 -6 0zM627.2 109.4a3.0 3.0 0 1 0 6 0a3.0 3.0 0 1 0 -6 0zM627.7 105.9a3.0 3.0 0 1 0 6 0a3.0 3.0 0 1 0 -6 0zM628.2 101.7a3.0 3.0 0 1 0 6 0a3.0 3.0 0 1 0 -6 0zM628.7 109.9a3.0 3.0 0 1 0 6 0a3.0 3.0 0 1 0 -6 0zM629.3 103.1a3.0 3.0 0 1 0 6 0a3.0 3.0 0 1 0 -6 0zM629.8 100.8a3.0 3.0 0 1 0 6 0a3.0 3.0 0 1 0 -6 0zM630.3 102.1a3.0 3.0 0 1 0 6 0a3.0 3.0 0 1 0 -6 0zM630.8 114.6a3.0 3.0 0 1 0 6 0a3.0 3.0 0 1 0 -6 0zM631.3 104.4a3.0 3.0 0 1 0 6 0a3.0 3.0 0 1 0 -6 0zM631.7 107.1a3.0 3.0 0 1 0 6 0a3.0 3.0 0 1 0 -6 0zM632.2 104.7a3.0 3.0 0 1 0 6 0a3.0 3.0 0 1 0 -6 0zM632.7 108.2a3.0 3.0 0 1 0 6 0a3.0 3.0 0 1 0 -6 0zM633.2 109.5a3.0 3.0 0 1 0 6 0a3.0 3.0 0 1 0 -6 0zM633.6 108.3a3.0 3.0 0 1 0 6 0a3.0 3.0 0 1 0 -6 0zM634.1 103.3a3.0 3.0 0 1 0 6 0a3.0 3.0 0 1 0 -6 0zM634.6 105.2a3.0 3.0 0 1 0 6 0a3.0 3.0 0 1 0 -6 0zM635 108.5a3.0 3.0 0 1 0 6 0a3.0 3.0 0 1 0 -6 0zM635.5 106.6a3.0 3.0 0 1 0 6 0a3.0 3.0 0 1 0 -6 0zM635.9 105.2a3.0 3.0 0 1 0 6 0a3.0 3.0 0 1 0 -6 0zM636.3 106a3.0 3.0 0 1 0 6 0a3.0 3.0 0 1 0 -6 0zM636.8 107.8a3.0 3.0 0 1 0 6 0a3.0 3.0 0 1 0 -6 0zM637.2 109.6a3.0 3.0 0 1 0 6 0a3.0 3.0 0 1 0 -6 0zM637.6 109.8a3.0 3.0 0 1 0 6 0a3.0 3.0 0 1 0 -6 0zM638 108.9a3.0 3.0 0 1 0 6 0a3.0 3.0 0 1 0 -6 0zM638.5 109.3a3.0 3.0 0 1 0 6 0a3.0 3.0 0 1 0 -6 0zM638.9 112.2a3.0 3.0 0 1 0 6 0a3.0 3.0 0 1 0 -6 0zM639.3 111.7a3.0 3.0 0 1 0 6 0a3.0 3.0 0 1 0 -6 0zM639.7 105.1a3.0 3.0 0 1 0 6 0a3.0 3.0 0 1 0 -6 0zM640.1 110.9a3.0 3.0 0 1 0 6 0a3.0 3.0 0 1 0 -6 0zM640.5 111.5a3.0 3.0 0 1 0 6 0a3.0 3.0 0 1 0 -6 0zM640.9 107.8a3.0 3.0 0 1 0 6 0a3.0 3.0 0 1 0 -6 0zM641.3 103.5a3.0 3.0 0 1 0 6 0a3.0 3.0 0 1 0 -6 0zM641.7 104a3.0 3.0 0 1 0 6 0a3.0 3.0 0 1 0 -6 0zM642.1 108.9a3.0 3.0 0 1 0 6 0a3.0 3.0 0 1 0 -6 0zM642.4 110.7a3.0 3.0 0 1 0 6 0a3.0 3.0 0 1 0 -6 0zM642.8 109.2a3.0 3.0 0 1 0 6 0a3.0 3.0 0 1 0 -6 0zM643.2 110.3a3.0 3.0 0 1 0 6 0a3.0 3.0 0 1 0 -6 0zM643.6 109.3a3.0 3.0 0 1 0 6 0a3.0 3.0 0 1 0 -6 0zM643.9 106.3a3.0 3.0 0 1 0 6 0a3.0 3.0 0 1 0 -6 0zM644.3 110.7a3.0 3.0 0 1 0 6 0a3.0 3.0 0 1 0 -6 0zM644.7 109.9a3.0 3.0 0 1 0 6 0a3.0 3.0 0 1 0 -6 0zM645 108.4a3.0 3.0 0 1 0 6 0a3.0 3.0 0 1 0 -6 0zM645.4 107.8a3.0 3.0 0 1 0 6 0a3.0 3.0 0 1 0 -6 0zM645.7 109.9a3.0 3.0 0 1 0 6 0a3.0 3.0 0 1 0 -6 0zM646.1 110a3.0 3.0 0 1 0 6 0a3.0 3.0 0 1 0 -6 0zM646.4 110.9a3.0 3.0 0 1 0 6 0a3.0 3.0 0 1 0 -6 0zM646.8 109.8a3.0 3.0 0 1 0 6 0a3.0 3.0 0 1 0 -6 0zM647.1 106.2a3.0 3.0 0 1 0 6 0a3.0 3.0 0 1 0 -6 0zM647.5 108.4a3.0 3.0 0 1 0 6 0a3.0 3.0 0 1 0 -6 0zM647.8 116.7a3.0 3.0 0 1 0 6 0a3.0 3.0 0 1 0 -6 0zM648.1 105.9a3.0 3.0 0 1 0 6 0a3.0 3.0 0 1 0 -6 0zM648.5 107.9a3.0 3.0 0 1 0 6 0a3.0 3.0 0 1 0 -6 0zM648.8 110.2a3.0 3.0 0 1 0 6 0a3.0 3.0 0 1 0 -6 0zM649.1 108.4a3.0 3.0 0 1 0 6 0a3.0 3.0 0 1 0 -6 0zM649.4 116.4a3.0 3.0 0 1 0 6 0a3.0 3.0 0 1 0 -6 0zM649.8 112.5a3.0 3.0 0 1 0 6 0a3.0 3.0 0 1 0 -6 0zM650.1 104.3a3.0 3.0 0 1 0 6 0a3.0 3.0 0 1 0 -6 0zM650.4 101.5a3.0 3.0 0 1 0 6 0a3.0 3.0 0 1 0 -6 0zM650.7 101.4a3.0 3.0 0 1 0 6 0a3.0 3.0 0 1 0 -6 0zM651 109.8a3.0 3.0 0 1 0 6 0a3.0 3.0 0 1 0 -6 0zM651.3 107.6a3.0 3.0 0 1 0 6 0a3.0 3.0 0 1 0 -6 0zM651.7 105.4a3.0 3.0 0 1 0 6 0a3.0 3.0 0 1 0 -6 0zM652 111.2a3.0 3.0 0 1 0 6 0a3.0 3.0 0 1 0 -6 0zM652.3 102.6a3.0 3.0 0 1 0 6 0a3.0 3.0 0 1 0 -6 0zM652.6 109.8a3.0 3.0 0 1 0 6 0a3.0 3.0 0 1 0 -6 0zM652.9 106.7a3.0 3.0 0 1 0 6 0a3.0 3.0 0 1 0 -6 0zM653.2 111a3.0 3.0 0 1 0 6 0a3.0 3.0 0 1 0 -6 0zM653.5 106.6a3.0 3.0 0 1 0 6 0a3.0 3.0 0 1 0 -6 0zM653.8 107.7a3.0 3.0 0 1 0 6 0a3.0 3.0 0 1 0 -6 0zM654.1 104.5a3.0 3.0 0 1 0 6 0a3.0 3.0 0 1 0 -6 0zM654.3 111a3.0 3.0 0 1 0 6 0a3.0 3.0 0 1 0 -6 0zM654.6 107.7a3.0 3.0 0 1 0 6 0a3.0 3.0 0 1 0 -6 0zM654.9 102.4a3.0 3.0 0 1 0 6 0a3.0 3.0 0 1 0 -6 0zM655.2 111.1a3.0 3.0 0 1 0 6 0a3.0 3.0 0 1 0 -6 0zM655.5 106.7a3.0 3.0 0 1 0 6 0a3.0 3.0 0 1 0 -6 0zM655.8 106.4a3.0 3.0 0 1 0 6 0a3.0 3.0 0 1 0 -6 0zM656.1 109.1a3.0 3.0 0 1 0 6 0a3.0 3.0 0 1 0 -6 0zM656.3 108.5a3.0 3.0 0 1 0 6 0a3.0 3.0 0 1 0 -6 0zM656.6 103.6a3.0 3.0 0 1 0 6 0a3.0 3.0 0 1 0 -6 0zM656.9 104.4a3.0 3.0 0 1 0 6 0a3.0 3.0 0 1 0 -6 0zM657.2 106a3.0 3.0 0 1 0 6 0a3.0 3.0 0 1 0 -6 0zM657.4 106.9a3.0 3.0 0 1 0 6 0a3.0 3.0 0 1 0 -6 0zM657.7 111a3.0 3.0 0 1 0 6 0a3.0 3.0 0 1 0 -6 0zM658 107.4a3.0 3.0 0 1 0 6 0a3.0 3.0 0 1 0 -6 0zM658.2 102.5a3.0 3.0 0 1 0 6 0a3.0 3.0 0 1 0 -6 0zM658.5 104.6a3.0 3.0 0 1 0 6 0a3.0 3.0 0 1 0 -6 0zM658.8 111.6a3.0 3.0 0 1 0 6 0a3.0 3.0 0 1 0 -6 0zM659 113.7a3.0 3.0 0 1 0 6 0a3.0 3.0 0 1 0 -6 0zM659.3 109.6a3.0 3.0 0 1 0 6 0a3.0 3.0 0 1 0 -6 0zM659.5 107.2a3.0 3.0 0 1 0 6 0a3.0 3.0 0 1 0 -6 0zM659.8 109.3a3.0 3.0 0 1 0 6 0a3.0 3.0 0 1 0 -6 0zM660 108.6a3.0 3.0 0 1 0 6 0a3.0 3.0 0 1 0 -6 0zM660.3 106.7a3.0 3.0 0 1 0 6 0a3.0 3.0 0 1 0 -6 0zM660.6 105.1a3.0 3.0 0 1 0 6 0a3.0 3.0 0 1 0 -6 0zM660.8 107.1a3.0 3.0 0 1 0 6 0a3.0 3.0 0 1 0 -6 0zM661.1 104a3.0 3.0 0 1 0 6 0a3.0 3.0 0 1 0 -6 0zM661.3 111.8a3.0 3.0 0 1 0 6 0a3.0 3.0 0 1 0 -6 0zM661.6 106.3a3.0 3.0 0 1 0 6 0a3.0 3.0 0 1 0 -6 0zM661.8 106.4a3.0 3.0 0 1 0 6 0a3.0 3.0 0 1 0 -6 0zM662 112a3.0 3.0 0 1 0 6 0a3.0 3.0 0 1 0 -6 0zM662.3 104a3.0 3.0 0 1 0 6 0a3.0 3.0 0 1 0 -6 0zM662.5 112.3a3.0 3.0 0 1 0 6 0a3.0 3.0 0 1 0 -6 0zM662.8 111.9a3.0 3.0 0 1 0 6 0a3.0 3.0 0 1 0 -6 0zM663 99.9a3.0 3.0 0 1 0 6 0a3.0 3.0 0 1 0 -6 0zM663.2 103.9a3.0 3.0 0 1 0 6 0a3.0 3.0 0 1 0 -6 0zM663.5 106.6a3.0 3.0 0 1 0 6 0a3.0 3.0 0 1 0 -6 0zM663.7 103.7a3.0 3.0 0 1 0 6 0a3.0 3.0 0 1 0 -6 0zM663.9 104.3a3.0 3.0 0 1 0 6 0a3.0 3.0 0 1 0 -6 0zM664.2 111a3.0 3.0 0 1 0 6 0a3.0 3.0 0 1 0 -6 0zM664.4 106.3a3.0 3.0 0 1 0 6 0a3.0 3.0 0 1 0 -6 0zM664.6 103.6a3.0 3.0 0 1 0 6 0a3.0 3.0 0 1 0 -6 0zM664.9 108.1a3.0 3.0 0 1 0 6 0a3.0 3.0 0 1 0 -6 0zM665.1 107.5a3.0 3.0 0 1 0 6 0a3.0 3.0 0 1 0 -6 0zM665.3 109a3.0 3.0 0 1 0 6 0a3.0 3.0 0 1 0 -6 0zM665.5 105.5a3.0 3.0 0 1 0 6 0a3.0 3.0 0 1 0 -6 0zM665.8 109.3a3.0 3.0 0 1 0 6 0a3.0 3.0 0 1 0 -6 0zM666 109.4a3.0 3.0 0 1 0 6 0a3.0 3.0 0 1 0 -6 0zM666.2 111.3a3.0 3.0 0 1 0 6 0a3.0 3.0 0 1 0 -6 0zM666.4 110.4a3.0 3.0 0 1 0 6 0a3.0 3.0 0 1 0 -6 0z"/>
<path fill="#00ff00" d="M436 99.4l3.6 6.8h-7.2zM466.5 99.9l3.6 6.8h-7.2zM484.4 95.6l3.6 6.8h-7.2zM497.1 87.1l3.6 6.8h-7.2zM506.9 96.3l3.6 6.8h-7.2zM514.9 97.4l3.6 6.8h-7.2zM521.7 96.9l3.6 6.8h-7.2zM527.6 96.9l3.6 6.8h-7.2zM532.8 99.8l3.6 6.8h-7.2zM537.5 99.3l3.6 6.8h-7.2zM541.6 101l3.6 6.8h-7.2zM545.5 102.5l3.6 6.8h-7.2zM549 99.4l3.6 6.8h-7.2zM552.3 99.3l3.6 6.8h-7.2zM555.3 97l3.6 6.8h-7.2zM558.2 101.5l3.6 6.8h-7.2zM560.8 101.3l3.6 6.8h-7.2zM563.3 98.7l3.6 6.8h-7.2zM565.7 95.7l3.6 6.8h-7.2zM568 100.4l3.6 6.8h-7.2zM570.1 100.5l3.6 6.8h-7.2zM572.2 103.2l3.6 6.8h-7.2zM574.1 101.4l3.6 6.8h-7.2zM576 97.1l3.6 6.8h-7.2zM577.8 97.3l3.6 6.8h-7.2zM579.5 96.4l3.6 6.8h-7.2zM581.2 105.7l3.6 6.8h-7.2zM582.8 97.4l3.6 6.8h-7.2zM584.4 103.3l3.6 6.8h-7.2zM585.9 98.3l3.6 6.8h-7.2zM587.3 107.9l3.6 6.8h-7.2zM588.7 100.5l3.6 6.8h-7.2zM590.1 103.1l3.6 6.8h-7.2zM591.4 96.1l3.6 6.8h-7.2zM592.6 99.8l3.6 6.8h-7.2zM593.9 96.1l3.6 6.8h-7.2zM595.1 101.6l3.6 6.8h-7.2zM596.3 94.1l3.6 6.8h-7.2zM597.4 101.6l3.6 6.8h-7.2zM598.5 94.3l3.6 6.8h-7.2zM599.6 101.7l3.6 6.8h-7.2zM600.7 103.2l3.6 6.8h-7.2zM601.7 97.5l3.6 6.8h-7.2zM602.7 101.4l3.6 6.8h-7.2zM603.7 100.4l3.6 6.8h-7.2zM604.7 104.2l3.6 6.8h-7.2zM605.6 101.2l3.6 6.8h-7.2zM606.6 99.9l3.6 6.8h-7.2zM607.5 102.3l3.6 6.8h-7.2zM608.4 99.1l3.6 6.8h-7.2zM609.2 106.9l3.6 6.8h-7.2zM610.1 97.6l3.6 6.8h-7.2zM610.9 101.4l3.6 6.8h-7.2zM611.8 96l3.6 6.8h-7.2zM612.6 101.2l3.6 6.8h-7.2zM613.4 102.1l3.6 6.8h-7.2zM614.1 101.5l3.6 6.8h-7.2zM614.9 99.4l3.6 6.8h-7.2zM615.7 98.5l3.6 6.8h-7.2zM616.4 101.5l3.6 6.8h-7.2zM617.1 102.4l3.6 6.8h-7.2zM617.8 99l3.6 6.8h-7.2zM618.5 97.9l3.6 6.8h-7.2zM619.2 105l3.6 6.8h-7.2zM619.9 103.1l3.6 6.8h-7.2zM620.6 102.1l3.6 6.8h-7.2zM621.3 95.5l3.6 6.8h-7.2zM621.9 96.9l3.6 6.8h-7.2zM622.6 98l3.6 6.8h-7.2zM623.2 98.9l3.6 6.8h-7.2zM623.8 103.2l3.6 6.8h-7.2zM624.4 97.2l3.6 6.8h-7.2zM625 101.4l3.6 6.8h-7.2zM625.6 102.3l3.6 6.8h-7.2zM626.2 95.1l3.6 6.8h-7.2zM626.8 104l3.6 6.8h-7.2zM627.4 96.6l3.6 6.8h-7.2zM628 99.7l3.6 6.8h-7.2zM628.5 102.6l3.6 6.8h-7.2zM629.1 99.7l3.6 6.8h-7.2zM629.6 102.4l3.6 6.8h-7.2zM630.2 99.7l3.6 6.8h-7.2zM630.7 101.9l3.6 6.8h-7.2zM631.2 103.3l3.6 6.8h-7.2zM631.7 93.4l3.6 6.8h-7.2zM632.3 101.5l3.6 6.8h-7.2zM632.8 97.7l3.6 6.8h-7.2zM633.3 100.3l3.6 6.8h-7.2zM633.8 98.5l3.6 6.8h-7.2zM634.3 103.4l3.6 6.8h-7.2zM634.7 102.8l3.6 6.8h-7.2zM635.2 108.4l3.6 6.8h-7.2zM635.7 97.7l3.6 6.8h-7.2zM636.2 99.1l3.6 6.8h-7.2zM636.6 103.1l3.6 6.8h-7.2zM637.1 98.1l3.6 6.8h-7.2zM637.6 98.7l3.6 6.8h-7.2zM638 93l3.6 6.8h-7.2zM638.5 99.6l3.6 6.8h-7.2zM638.9 98l3.6 6.8h-7.2zM639.3 98.7l3.6 6.8h-7.2zM639.8 98.3l3.6 6.8h-7.2zM640.2 100.3l3.6 6.8h-7.2zM640.6 101.2l3.6 6.8h-7.2zM641 98.5l3.6 6.8h-7.2zM641.5 97.2l3.6 6.8h-7.2zM641.9 103.1l3.6 6.8h-7.2zM642.3 103l3.6 6.8h-7.2zM642.7 100.3l3.6 6.8h-7.2zM643.1 95.8l3.6 6.8h-7.2zM643.5 100.7l3.6 6.8h-7.2zM643.9 104.4l3.6 6.8h-7.2zM644.3 98.2l3.6 6.8h-7.2zM644.7 98.3l3.6 6.8h-7.2zM645.1 95.4l3.6 6.8h-7.2zM645.4 99.7l3.6 6.8h-7.2zM645.8 95.4l3.6 6.8h-7.2zM646.2 102l3.6 6.8h-7.2zM646.6 98l3.6 6.8h-7.2zM646.9 99.9l3.6 6.8h-7.2zM647.3 103.1l3.6 6.8h-7.2zM647.7 100.9l3.6 6.8h-7.2zM648 96.9l3.6 6.8h-7.2zM648.4 97.5l3.6 6.8h-7.2zM648.7 101.1l3.6 6.8h-7.2zM649.1 97.5l3.6 6.8h-7.2zM649.4 98l3.6 6.8h-7.2zM649.8 98l3.6 6.8h-7.2zM650.1 99.5l3.6 6.8h-7.2zM650.5 99.5l3.6 6.8h-7.2zM650.8 102.2l3.6 6.8h-7.2zM651.1 100.4l3.6 6.8h-7.2zM651.5 99.9l3.6 6.8h-7.2zM651.8 102l3.6 6.8h-7.2zM652.1 100.9l3.6 6.8h-7.2zM652.4 99.8l3.6 6.8h-7.2zM652.8 99.7l3.6 6.8h-7.2zM653.1 97.6l3.6 6.8h-7.2zM653.4 102.7l3.6 6.8h-7.2zM653.7 101.2l3.6 6.8h-7.2zM654 99.5l3.6 6.8h-7.2zM654.3 101.1l3.6 6.8h-7.2zM654.7 99.4l3.6 6.8h-7.2zM655 101.3l3.6 6.8h-7.2zM655.3 97.3l3.6 6.8h-7.2zM655.6 100.8l3.6 6.8h-7.2zM655.9 103l3.6 6.8h-7.2zM656.2 98.4l3.6 6.8h-7.2zM656.5 96.1l3.6 6.8h-7.2zM656.8 104.9l3.6 6.8h-7.2zM657.1 100.5l3.6 6.8h-7.2zM657.3 100l3.6 6.8h-7.2zM657.6 97.7l3.6 6.8h-7.2zM657.9 96.5l3.6 6.8h-7.2zM658.2 100.6l3.6 6.8h-7.2zM658.5 104l3.6 6.8h-7.2zM658.8 98.6l3.6 6.8h-7.2zM659.1 97.7l3.6 6.8h-7.2zM659.3 99.1l3.6 6.8h-7.2zM659.6 100l3.6 6.8h-7.2zM659.9 102.2l3.6 6.8h-7.2zM660.2 94.2l3.6 6.8h-7.2zM660.4 103.1l3.6 6.8h-7.2zM660.7 103.9l3.6 6.8h-7.2zM661 97.8l3.6 6.8h-7.2zM661.2 99.5l3.6 6.8h-7.2zM661.5 98.5l3.6 6.8h-7.2zM661.8 99.3l3.6 6.8h-7.2zM662 96.1l3.6 6.8h-7.2zM662.3 96.7l3.6 6.8h-7.2zM662.5 101.5l3.6 6.8h-7.2zM662.8 97.7l3.6 6.8h-7.2zM663 103.1l3.6 6.8h-7.2zM663.3 104.4l3.6 6.8h-7.2zM663.6 97.2l3.6 6.8h-7.2zM663.8 101.2l3.6 6.8h-7.2zM664.1 105.5l3.6 6.8h-7.2zM664.3 100.2l3.6 6.8h-7.2zM664.6 101.8l3.6 6.8h-7.2zM664.8 99l3.6 6.8h-7.2zM665 100.3l3.6 6.8h-7.2zM665.3 102.1l3.6 6.8h-7.2zM665.5 101.9l3.6 6.8h-7.2zM665.8 98.3l3.6 6.8h-7.2zM666 102.5l3.6 6.8h-7.2zM666.2 99.9l3.6 6.8h-7.2zM666.5 102.6l3.6 6.8h-7.2zM666.7 99.1l3.6 6.8h-7.2zM666.9 95.8l3.6 6.8h-7.2zM667.2 98.8l3.6 6.8h-7.2zM667.4 97.5l3.6 6.8h-7.2zM667.6 99.1l3.6 6.8h-7.2zM667.9 102.6l3.6 6.8h-7.2zM668.1 100.9l3.6 6.8h-7.2zM668.3 100l3.6 6.8h-7.2zM668.5 99.1l3.6 6.8h-7.2zM668.8 101.7l3.6 6.8h-7.2zM669 98.7l3.6 6.8h-7.2zM669.2 102l3.6 6.8h-7.2zM669.4 100l3.6 6.8h-7.2z"/>
<path fill="#ff00ff" d="M436 -284.5l3.7 3.7l-3.7 3.7l-3.7 -3.7zM466.5 92.3l3.7 3.7l-3.7 3.7l-3.7 -3.7zM484.4 110.7l3.7 3.7l-3.7 3.7l-3.7 -3.7zM497.1 98.6l3.7 3.7l-3.7 3.7l-3.7 -3.7zM506.9 108.5l3.7 3.7l-3.7 3.7l-3.7 -3.7zM514.9 107.8l3.7 3.7l-3.7 3.7l-3.7 -3.7zM521.7 107.2l3.7 3.7l-3.7 3.7l-3.7 -3.7zM527.6 101.9l3.7 3.7l-3.7 3.7l-3.7 -3.7zM532.8 103.5l3.7 3.7l-3.7 3.7l-3.7 -3.7zM537.5 106.2l3.7 3.7l-3.7 3.7l-3.7 -3.7zM541.6 101l3.7 3.7l-3.7 3.7l-3.7 -3.7zM545.5 103.3l3.7 3.7l-3.7 3.7l-3.7 -3.7zM549 103.2l3.7 3.7l-3.7 3.7l-3.7 -3.7zM552.3 103.6l3.7 3.7l-3.7 3.7l-3.7 -3.7zM555.3 109.9l3.7 3.7l-3.7 3.7l-3.7 -3.7zM558.2 107.9l3.7 3.7l-3.7 3.7l-3.7 -3.7zM560.8 106.4l3.7 3.7l-3.7 3.7l-3.7 -3.7zM563.3 100.2l3.7 3.7l-3.7 3.7l-3.7 -3.7zM565.7 105.5l3.7 3.7l-3.7 3.7l-3.7 -3.7zM568 101.3l3.7 3.7l-3.7 3.7l-3.7 -3.7zM570.1 107.2l3.7 3.7l-3.7 3.7l-3.7 -3.7zM572.2 106.6l3.7 3.7l-3.7 3.7l-3.7 -3.7zM574.1 105.2l3.7 3.7l-3.7 3.7l-3.7 -3.7zM576 99.4l3.7 3.7l-3.7 3.7l-3.7 -3.7zM577.8 109.9l3.7 3.7l-3.7 3.7l-3.7 -3.7zM579.5 104.2l3.7 3.7l-3.7 3.7l-3.7 -3.7zM581.2 101.9l3.7 3.7l-3.7 3.7l-3.7 -3.7zM582.8 103l3.7 3.7l-3.7 3.7l-3.7 -3.7zM584.4 103.5l3.7 3.7l-3.7 3.7l-3.7 -3.7zM585.9 100.5l3.7 3.7l-3.7 3.7l-3.7 -3.7zM587.3 102.4l3.7 3.7l-3.7 3.7l-3.7 -3.7zM588.7 107.2l3.7 3.7l-3.7 3.7l-3.7 -3.7zM590.1 101.1l3.7 3.7l-3.7 3.7l-3.7 -3.7zM591.4 106.4l3.7 3.7l-3.7 3.7l-3.7 -3.7zM592.6 104.7l3.7 3.7l-3.7 3.7l-3.7 -3.7zM593.9 98.2l3.7 3.7l-3.7 3.7l-3.7 -3.7zM595.1 94.6l3.7 3.7l-3.7 3.7l-3.7 -3.7zM596.3 98.2l3.7 3.7l-3.7 3.7l-3.7 -3.7zM597.4 101.9l3.7 3.7l-3.7 3.7l-3.7 -3.7zM598.5 106.3l3.7 3.7l-3.7 3.7l-3.7 -3.7zM599.6 106.2l3.7 3.7l-3.7 3.7l-3.7 -3.7zM600.7 97.6l3.7 3.7l-3.7 3.7l-3.7 -3.7zM601.7 102.3l3.7 3.7l-3.7 3.7l-3.7 -3.7zM602.7 108.4l3.7 3.7l-3.7 3.7l-3.7 -3.7zM603.7 98l3.7 3.7l-3.7 3.7l-3.7 -3.7zM604.7 101.5l3.7 3.7l-3.7 3.7l-3.7 -3.7zM605.6 98.9l3.7 3.7l-3.7 3.7l-3.7 -3.7zM606.6 102.1l3.7 3.7l-3.7 3.7l-3.7 -3.7zM607.5 110.9l3.7 3.7l-3.7 3.7l-3.7 -3.7zM608.4 106l3.7 3.7l-3.7 3.7l-3.7 -3.7zM609.2 104l3.7 3.7l-3.7 3.7l-3.7 -3.7zM610.1 104l3.7 3.7l-3.7 3.7l-3.7 -3.7zM610.9 98.4l3.7 3.7l-3.7 3.7l-3.7 -3.7zM611.8 105.7l3.7 3.7l-3.7 3.7l-3.7 -3.7zM612.6 103.8l3.7 3.7l-3.7 3.7l-3.7 -3.7zM613.4 103.7l3.7 3.7l-3.7 3.7l-3.7 -3.7zM614.1 103.8l3.7 3.7l-3.7 3.7l-3.7 -3.7zM614.9 106.9l3.7 3.7l-3.7 3.7l-3.7 -3.7zM615.7 107.5l3.7 3.7l-3.7 3.7l-3.7 -3.7zM616.4 112l3.7 3.7l-3.7 3.7l-3.7 -3.7zM617.1 102.4l3.7 3.7l-3.7 3.7l-3.7 -3.7zM617.8 104.1l3.7 3.7l-3.7 3.7l-3.7 -3.7zM618.5 102.8l3.7 3.7l-3.7 3.7l-3.7 -3.7zM619.2 106.9l3.7 3.7l-3.7 3.7l-3.7 -3.7zM619.9 103.5l3.7 3.7l-3.7 3.7l-3.7 -3.7zM620.6 106.6l3.7 3.7l-3.7 3.7l-3.7 -3.7zM621.3 106.7l3.7 3.7l-3.7 3.7l-3.7 -3.7zM621.9 102.4l3.7 3.7l-3.7 3.7l-3.7 -3.7zM622.6 101.4l3.7 3.7l-3.7 3.7l-3.7 -3.7zM623.2 101.6l3.7 3.7l-3.7 3.7l-3.7 -3.7zM623.8 103.6l3.7 3.7l-3.7 3.7l-3.7 -3.7zM624.4 104.7l3.7 3.7l-3.7 3.7l-3.7 -3.7zM625 99.1l3.7 3.7l-3.7 3.7l-3.7 -3.7zM625.6 99.6l3.7 3.7l-3.7 3.7l-3.7 -3.7zM626.2 105.5l3.7 3.7l-3.7 3.7l-3.7 -3.7zM626.8 106.9l3.7 3.7l-3.7 3.7l-3.7 -3.7zM627.4 102.3l3.7 3.7l-3.7 3.7l-3.7 -3.7zM628 102.5l3.7 3.7l-3.7 3.7l-3.7 -3.7zM628.5 106.3l3.7 3.7l-3.7 3.7l-3.7 -3.7zM629.1 96.4l3.7 3.7l-3.7 3.7l-3.7 -3.7zM629.6 109.9l3.7 3.7l-3.7 3.7l-3.7 -3.7zM630.2 106l3.7 3.7l-3.7 3.7l-3.7 -3.7zM630.7 102.7l3.7 3.7l-3.7 3.7l-3.7 -3.7zM631.2 100.5l3.7 3.7l-3.7 3.7l-3.7 -3.7zM631.7 109.1l3.7 3.7l-3.7 3.7l-3.7 -3.7zM632.3 104.8l3.7 3.7l-3.7 3.7l-3.7 -3.7zM632.8 99.1l3.7 3.7l-3.7 3.7l-3.7 -3.7zM633.3 99.2l3.7 3.7l-3.7 3.7l-3.7 -3.7zM633.8 104.2l3.7 3.7l-3.7 3.7l-3.7 -3.7zM634.3 103.4l3.7 3.7l-3.7 3.7l-3.7 -3.7zM634.7 106.1l3.7 3.7l-3.7 3.7l-3.7 -3.7zM635.2 102.3l3.7 3.7l-3.7 3.7l-3.7 -3.7zM635.7 106.6l3.7 3.7l-3.7 3.7l-3.7 -3.7zM636.2 109.5l3.7 3.7l-3.7 3.7l-3.7 -3.7zM636.6 108l3.7 3.7l-3.7 3.7l-3.7 -3.7zM637.1 103.3l3.7 3.7l-3.7 3.7l-3.7 -3.7zM637.6 107.4l3.7 3.7l-3.7 3.7l-3.7 -3.7zM638 100.2l3.7 3.7l-3.7 3.7l-3.7 -3.7zM638.5 99.7l3.7 3.7l-3.7 3.7l-3.7 -3.7zM638.9 100.6l3.7 3.7l-3.7 3.7l-3.7 -3.7zM639.3 101.6l3.7 3.7l-3.7 3.7l-3.7 -3.7zM639.8 100.2l3.7 3.7l-3.7 3.7l-3.7 -3.7zM640.2 102.7l3.7 3.7l-3.7 3.7l-3.7 -3.7zM640.6 100.9l3.7 3.7l-3.7 3.7l-3.7 -3.7zM641 102.1l3.7 3.7l-3.7 3.7l-3.7 -3.7zM641.5 101.2l3.7 3.7l-3.7 3.7l-3.7 -3.7zM641.9 106.5l3.7 3.7l-3.7 3.7l-3.7 -3.7zM642.3 105.4l3.7 3.7l-3.7 3.7l-3.7 -3.7zM642.7 106.4l3.7 3.7l-3.7 3.7l-3.7 -3.7zM643.1 101l3.7 3.7l-3.7 3.7l-3.7 -3.7zM643.5 102l3.7 3.7l-3.7 3.7l-3.7 -3.7zM643.9 105.8l3.7 3.7l-3.7 3.7l-3.7 -3.7zM644.3 106.4l3.7 3.7l-3.7 3.7l-3.7 -3.7zM644.7 105.2l3.7 3.7l-3.7 3.7l-3.7 -3.7zM645.1 100.9l3.7 3.7l-3.7 3.7l-3.7 -3.7zM645.4 103.8l3.7 3.7l-3.7 3.7l-3.7 -3.7zM645.8 104.2l3.7 3.7l-3.7 3.7l-3.7 -3.7zM646.2 105.5l3.7 3.7l-3.7 3.7l-3.7 -3.7zM646.6 103.8l3.7 3.7l-3.7 3.7l-3.7 -3.7zM646.9 98.8l3.7 3.7l-3.7 3.7l-3.7 -3.7zM647.3 105.5l3.7 3.7l-3.7 3.7l-3.7 -3.7zM647.7 104.5l3.7 3.7l-3.7 3.7l-3.7 -3.7zM648 98.5l3.7 3.7l-3.7 3.7l-3.7 -3.7zM648.4 101.4l3.7 3.7l-3.7 3.7l-3.7 -3.7zM648.7 106.8l3.7 3.7l-3.7 3.7l-3.7 -3.7zM649.1 100.3l3.7 3.7l-3.7 3.7l-3.7 -3.7zM649.4 107.2l3.7 3.7l-3.7 3.7l-3.7 -3.7zM649.8 101.8l3.7 3.7l-3.7 3.7l-3.7 -3.7zM650.1 110.9l3.7 3.7l-3.7 3.7l-3.7 -3.7zM650.5 106.4l3.7 3.7l-3.7 3.7l-3.7 -3.7zM650.8 100.8l3.7 3.7l-3.7 3.7l-3.7 -3.7zM651.1 105.2l3.7 3.7l-3.7 3.7l-3.7 -3.7zM651.5 105.6l3.7 3.7l-3.7 3.7l-3.7 -3.7zM651.8 103.3l3.7 3.7l-3.7 3.7l-3.7 -3.7zM652.1 103.5l3.7 3.7l-3.7 3.7l-3.7 -3.7zM652.4 104.9l3.7 3.7l-3.7 3.7l-3.7 -3.7zM652.8 105.5l3.7 3.7l-3.7 3.7l-3.7 -3.7zM653.1 98.2l3.7 3.7l-3.7 3.7l-3.7 -3.7zM653.4 99.1l3.7 3.7l-3.7 3.7l-3.7 -3.7zM653.7 102.5l3.7 3.7l-3.7 3.7l-3.7 -3.7zM654 106.9l3.7 3.7l-3.7 3.7l-3.7 -3.7zM654.3 105l3.7 3.7l-3.7 3.7l-3.7 -3.7zM654.7 104.3l3.7 3.7l-3.7 3.7l-3.7 -3.7zM655 102.1l3.7 3.7l-3.7 3.7l-3.7 -3.7zM655.3 98.8l3.7 3.7l-3.7 3.7l-3.7 -3.7zM655.6 105l3.7 3.7l-3.7 3.7l-3.7 -3.7zM655.9 103l3.7 3.7l-3.7 3.7l-3.7 -3.7zM656.2 104.7l3.7 3.7l-3.7 3.7l-3.7 -3.7zM656.5 103.1l3.7 3.7l-3.7 3.7l-3.7 -3.7zM656.8 105.5l3.7 3.7l-3.7 3.7l-3.7 -3.7zM657.1 102.4l3.7 3.7l-3.7 3.7l-3.7 -3.7zM657.3 100.1l3.7 3.7l-3.7 3.7l-3.7 -3.7zM657.6 104.6l3.7 3.7l-3.7 3.7l-3.7 -3.7zM657.9 104.4l3.7 3.7l-3.7 3.7l-3.7 -3.7zM658.2 103.1l3.7 3.7l-3.7 3.7l-3.7 -3.7zM658.5 107.3l3.7 3.7l-3.7 3.7l-3.7 -3.7zM658.8 98.2l3.7 3.7l-3.7 3.7l-3.7 -3.7zM659.1 107.4l3.7 3.7l-3.7 3.7l-3.7 -3.7zM659.3 104.5l3.7 3.7l-3.7 3.7l-3.7 -3.7zM659.6 106.1l3.7 3.7l-3.7 3.7l-3.7 -3.7zM659.9 99.1l3.7 3.7l-3.7 3.7l-3.7 -3.7zM660.2 104.9l3.7 3.7l-3.7 3.7l-3.7 -3.7zM660.4 105l3.7 3.7l-3.7 3.7l-3.7 -3.7zM660.7 97.9l3.7 3.7l-3.7 3.7l-3.7 -3.7zM661 103.8l3.7 3.7l-3.7 3.7l-3.7 -3.7zM661.2 105.8l3.7 3.7l-3.7 3.7l-3.7 -3.7zM661.5 103.5l3.7 3.7l-3.7 3.7l-3.7 -3.7zM661.8 102.9l3.7 3.7l-3.7 3.7l-3.7 -3.7zM662 105.7l3.7 3.7l-3.7 3.7l-3.7 -3.7zM662.3 104l3.7 3.7l-3.7 3.7l-3.7 -3.7zM662.5 104.1l3.7 3.7l-3.7 3.7l-3.7 -3.7zM662.8 101.4l3.7 3.7l-3.7 3.7l-3.7 -3.7zM663 101.2l3.7 3.7l-3.7 3.7l-3.7 -3.7zM663.3 101l3.7 3.7l-3.7 3.7l-3.7 -3.7zM663.6 103.8l3.7 3.7l-3.7 3.7l-3.7 -3.7zM663.8 101.1l3.7 3.7l-3.7 3.7l-3.7 -3.7zM664.1 104.1l3.7 3.7l-3.7 3.7l-3.7 -3.7zM664.3 100.1l3.7 3.7l-3.7 3.7l-3.7 -3.7zM664.6 102.3l3.7 3.7l-3.7 3.7l-3.7 -3.7zM664.8 104.7l3.7 3.7l-3.7 3.7l-3.7 -3.7zM665 99.9l3.7 3.7l-3.7 3.7l-3.7 -3.7zM665.3 107.9l3.7 3.7l-3.7 3.7l-3.7 -3.7zM665.5 106.3l3.7 3.7l-3.7 3.7l-3.7 -3.7zM665.8 105.8l3.7 3.7l-3.7 3.7l-3.7 -3.7zM666 103.9l3.7 3.7l-3.7 3.7l-3.7 -3.7zM666.2 107.1l3.7 3.7l-3.7 3.7l-3.7 -3.7zM666.5 107l3.7 3.7l-3.7 3.7l-3.7 -3.7zM666.7 109l3.7 3.7l-3.7 3.7l-3.7 -3.7zM666.9 103.1l3.7 3.7l-3.7 3.7l-3.7 -3.7zM667.2 105.7l3.7 3.7l-3.7 3.7l-3.7 -3.7zM667.4 97.1l3.7 3.7l-3.7 3.7l-3.7 -3.7zM667.6 101.2l3.7 3.7l-3.7 3.7l-3.7 -3.7zM667.9 106.8l3.7 3.7l-3.7 3.7l-3.7 -3.7zM668.1 99.6l3.7 3.7l-3.7 3.7l-3.7 -3.7zM668.3 103.2l3.7 3.7l-3.7 3.7l-3.7 -3.7zM668.5 100.3l3.7 3.7l-3.7 3.7l-3.7 -3.7zM668.8 106.7l3.7 3.7l-3.7 3.7l-3.7 -3.7zM669 100.1l3.7 3.7l-3.7 3.7l-3.7 -3.7zM669.2 100.3l3.7 3.7l-3.7 3.7l-3.7 -3.7zM669.4 104.7l3.7 3.7l-3.7 3.7l-3.7 -3.7z"/>
<path fill="#808000" d="M436 140.3l3 1.7v3.5l-3 1.7l-3 -1.7v-3.5zM466.5 85.5l3 1.7v3.5l-3 1.7l-3 -1.7v-3.5zM484.4 99.1l3 1.7v3.5l-3 1.7l-3 -1.7v-3.5zM497.1 100.8l3 1.7v3.5l-3 1.7l-3 -1.7v-3.5zM506.9 106.8l3 1.7v3.5l-3 1.7l-3 -1.7v-3.5zM514.9 102.1l3 1.7v3.5l-3 1.7l-3 -1.7v-3.5zM521.7 105.1l3 1.7v3.5l-3 1.7l-3 -1.7v-3.5zM527.6 104.5l3 1.7v3.5l-3 1.7l-3 -1.7v-3.5zM532.8 106.1l3 1.7v3.5l-3 1.7l-3 -1.7v-3.5zM537.5 104.9l3 1.7v3.5l-3 1.7l-3 -1.7v-3.5zM541.6 102.8l3 1.7v3.5l-3 1.7l-3 -1.7v-3.5zM545.5 94.9l3 1.7v3.5l-3 1.7l-3 -1.7v-3.5zM549 91.4l3 1.7v3.5l-3 1.7l-3 -1.7v-3.5zM552.3 96.3l3 1.7v3.5l-3 1.7l-3 -1.7v-3.5zM555.3 97.2l3 1.7v3.5l-3 1.7l-3 -1.7v-3.5zM558.2 104.7l3 1.7v3.5l-3 1.7l-3 -1.7v-3.5zM560.8 105.3l3 1.7v3.5l-3 1.7l-3 -1.7v-3.5zM563.3 101.9l3 1.7v3.5l-3 1.7l-3 -1.7v-3.5zM565.7 105.1l3 1.7v3.5l-3 1.7l-3 -1.7v-3.5zM568 106.1l3 1.7v3.5l-3 1.7l-3 -1.7v-3.5zM570.1 104.8l3 1.7v3.5l-3 1.7l-3 -1.7v-3.5zM572.2 99.1l3 1.7v3.5l-3 1.7l-3 -1.7v-3.5zM574.1 104.1l3 1.7v3.5l-3 1.7l-3 -1.7v-3.5zM576 102.3l3 1.7v3.5l-3 1.7l-3 -1.7v-3.5zM577.8 105.2l3 1.7v3.5l-3 1.7l-3 -1.7v-3.5zM579.5 104.8l3 1.7v3.5l-3 1.7l-3 -1.7v-3.5zM581.2 105.6l3 1.7v3.5l-3 1.7l-3 -1.7v-3.5zM582.8 96.6l3 1.7v3.5l-3 1.7l-3 -1.7v-3.5zM584.4 102.4l3 1.7v3.5l-3 1.7l-3 -1.7v-3.5zM585.9 95.5l3 1.7v3.5l-3 1.7l-3 -1.7v-3.5zM587.3 104.6l3 1.7v3.5l-3 1.7l-3 -1.7v-3.5zM588.7 98l3 1.7v3.5l-3 1.7l-3 -1.7v-3.5zM590.1 111l3 1.7v3.5l-3 1.7l-3 -1.7v-3.5zM591.4 105.8l3 1.7v3.5l-3 1.7l-3 -1.7v-3.5zM592.6 104l3 1.7v3.5l-3 1.7l-3 -1.7v-3.5zM593.9 106.9l3 1.7v3.5l-3 1.7l-3 -1.7v-3.5zM595.1 104.3l3 1.7v3.5l-3 1.7l-3 -1.7v-3.5zM596.3 108.3l3 1.7v3.5l-3 1.7l-3 -1.7v-3.5zM597.4 104.5l3 1.7v3.5l-3 1.7l-3 -1.7v-3.5zM598.5 107l3 1.7v3.5l-3 1.7l-3 -1.7v-3.5zM599.6 103.7l3 1.7v3.5l-3 1.7l-3 -1.7v-3.5zM600.7 105.1l3 1.7v3.5l-3 1.7l-3 -1.7v-3.5zM601.7 108.4l3 1.7v3.5l-3 1.7l-3 -1.7v-3.5zM602.7 105.6l3 1.7v3.5l-3 1.7l-3 -1.7v-3.5zM603.7 103.6l3 1.7v3.5l-3 1.7l-3 -1.7v-3.5zM604.7 109.5l3 1.7v3.5l-3 1.7l-3 -1.7v-3.5zM605.6 103.3l3 1.7v3.5l-3 1.7l-3 -1.7v-3.5zM606.6 98.1l3 1.7v3.5l-3 1.7l-3 -1.7v-3.5zM607.5 104.7l3 1.7v3.5l-3 1.7l-3 -1.7v-3.5zM608.4 101.3l3 1.7v3.5l-3 1.7l-3 -1.7v-3.5zM609.2 101l3 1.7v3.5l-3 1.7l-3 -1.7v-3.5zM610.1 107.2l3 1.7v3.5l-3 1.7l-3 -1.7v-3.5zM610.9 98.1l3 1.7v3.5l-3 1.7l-3 -1.7v-3.5zM611.8 93.1l3 1.7v3.5l-3 1.7l-3 -1.7v-3.5zM612.6 108l3 1.7v3.5l-3 1.7l-3 -1.7v-3.5zM613.4 94.8l3 1.7v3.5l-3 1.7l-3 -1.7v-3.5zM614.1 106.6l3 1.7v3.5l-3 1.7l-3 -1.7v-3.5zM614.9 97.8l3 1.7v3.5l-3 1.7l-3 -1.7v-3.5zM615.7 111l3 1.7v3.5l-3 1.7l-3 -1.7v-3.5zM616.4 99.2l3 1.7v3.5l-3 1.7l-3 -1.7v-3.5zM617.1 103.2l3 1.7v3.5l-3 1.7l-3 -1.7v-3.5zM617.8 108.8l3 1.7v3.5l-3 1.7l-3 -1.7v-3.5zM618.5 106.9l3 1.7v3.5l-3 1.7l-3 -1.7v-3.5zM619.2 107.8l3 1.7v3.5l-3 1.7l-3 -1.7v-3.5zM619.9 107.2l3 1.7v3.5l-3 1.7l-3 -1.7v-3.5zM620.6 102.3l3 1.7v3.5l-3 1.7l-3 -1.7v-3.5zM621.3 104.4l3 1.7v3.5l-3 1.7l-3 -1.7v-3.5zM621.9 113.1l3 1.7v3.5l-3 1.7l-3 -1.7v-3.5zM622.6 104.9l3 1.7v3.5l-3 1.7l-3 -1.7v-3.5zM623.2 102l3 1.7v3.5l-3 1.7l-3 -1.7v-3.5zM623.8 103.4l3 1.7v3.5l-3 1.7l-3 -1.7v-3.5zM624.4 97.6l3 1.7v3.5l-3 1.7l-3 -1.7v-3.5zM625 110.3l3 1.7v3.5l-3 1.7l-3 -1.7v-3.5zM625.6 102.9l3 1.7v3.5l-3 1.7l-3 -1.7v-3.5zM626.2 103.6l3 1.7v3.5l-3 1.7l-3 -1.7v-3.5zM626.8 101.2l3 1.7v3.5l-3 1.7l-3 -1.7v-3.5zM627.4 108.4l3 1.7v3.5l-3 1.7l-3 -1.7v-3.5zM628 108.2l3 1.7v3.5l-3 1.7l-3 -1.7v-3.5zM628.5 104.3l3 1.7v3.5l-3 1.7l-3 -1.7v-3.5zM629.1 103.5l3 1.7v3.5l-3 1.7l-3 -1.7v-3.5zM629.6 109.8l3 1.7v3.5l-3 1.7l-3 -1.7v-3.5zM630.2 102.5l3 1.7v3.5l-3 1.7l-3 -1.7v-3.5zM630.7 103.7l3 1.7v3.5l-3 1.7l-3 -1.7v-3.5zM631.2 101.3l3 1.7v3.5l-3 1.7l-3 -1.7v-3.5zM631.7 112.3l3 1.7v3.5l-3 1.7l-3 -1.7v-3.5zM632.3 102.1l3 1.7v3.5l-3 1.7l-3 -1.7v-3.5zM632.8 106.6l3 1.7v3.5l-3 1.7l-3 -1.7v-3.5zM633.3 105.3l3 1.7v3.5l-3 1.7l-3 -1.7v-3.5zM633.8 101.2l3 1.7v3.5l-3 1.7l-3 -1.7v-3.5zM634.3 98.4l3 1.7v3.5l-3 1.7l-3 -1.7v-3.5zM634.7 103.2l3 1.7v3.5l-3 1.7l-3 -1.7v-3.5zM635.2 104.1l3 1.7v3.5l-3 1.7l-3 -1.7v-3.5zM635.7 99.7l3 1.7v3.5l-3 1.7l-3 -1.7v-3.5zM636.2 106.5l3 1.7v3.5l-3 1.7l-3 -1.7v-3.5zM636.6 104.2l3 1.7v3.5l-3 1.7l-3 -1.7v-3.5zM637.1 105.3l3 1.7v3.5l-3 1.7l-3 -1.7v-3.5zM637.6 106.7l3 1.7v3.5l-3 1.7l-3 -1.7v-3.5zM638 103.2l3 1.7v3.5l-3 1.7l-3 -1.7v-3.5zM638.5 97.7l3 1.7v3.5l-3 1.7l-3 -1.7v-3.5zM638.9 103l3 1.7v3.5l-3 1.7l-3 -1.7v-3.5zM639.3 102.3l3 1.7v3.5l-3 1.7l-3 -1.7v-3.5zM639.8 103.8l3 1.7v3.5l-3 1.7l-3 -1.7v-3.5zM640.2 100.4l3 1.7v3.5l-3 1.7l-3 -1.7v-3.5zM640.6 103.2l3 1.7v3.5l-3 1.7l-3 -1.7v-3.5zM641 106.3l3 1.7v3.5l-3 1.7l-3 -1.7v-3.5zM641.5 103.4l3 1.7v3.5l-3 1.7l-3 -1.7v-3.5zM641.9 99.5l3 1.7v3.5l-3 1.7l-3 -1.7v-3.5zM642.3 104l3 1.7v3.5l-3 1.7l-3 -1.7v-3.5zM642.7 100.2l3 1.7v3.5l-3 1.7l-3 -1.7v-3.5zM643.1 103.9l3 1.7v3.5l-3 1.7l-3 -1.7v-3.5zM643.5 97.8l3 1.7v3.5l-3 1.7l-3 -1.7v-3.5zM643.9 102.9l3 1.7v3.5l-3 1.7l-3 -1.7v-3.5zM644.3 101.8l3 1.7v3.5l-3 1.7l-3 -1.7v-3.5zM644.7 104.6l3 1.7v3.5l-3 1.7l-3 -1.7v-3.5zM645.1 101.3l3 1.7v3.5l-3 1.7l-3 -1.7v-3.5zM645.4 104.4l3 1.7v3.5l-3 1.7l-3 -1.7v-3.5zM645.8 108.1l3 1.7v3.5l-3 1.7l-3 -1.7v-3.5zM646.2 102.8l3 1.7v3.5l-3 1.7l-3 -1.7v-3.5zM646.6 107.3l3 1.7v3.5l-3 1.7l-3 -1.7v-3.5zM646.9 99.4l3 1.7v3.5l-3 1.7l-3 -1.7v-3.5zM647.3 101.4l3 1.7v3.5l-3 1.7l-3 -1.7v-3.5zM647.7 103.7l3 1.7v3.5l-3 1.7l-3 -1.7v-3.5zM648 101.7l3 1.7v3.5l-3 1.7l-3 -1.7v-3.5zM648.4 111.3l3 1.7v3.5l-3 1.7l-3 -1.7v-3.5zM648.7 99.2l3 1.7v3.5l-3 1.7l-3 -1.7v-3.5zM649.1 105.6l3 1.7v3.5l-3 1.7l-3 -1.7v-3.5zM649.4 101.8l3 1.7v3.5l-3 1.7l-3 -1.7v-3.5zM649.8 96.2l3 1.7v3.5l-3 1.7l-3 -1.7v-3.5zM650.1 108.5l3 1.7v3.5l-3 1.7l-3 -1.7v-3.5zM650.5 104.9l3 1.7v3.5l-3 1.7l-3 -1.7v-3.5zM650.8 102.7l3 1.7v3.5l-3 1.7l-3 -1.7v-3.5zM651.1 102.5l3 1.7v3.5l-3 1.7l-3 -1.7v-3.5zM651.5 108.7l3 1.7v3.5l-3 1.7l-3 -1.7v-3.5zM651.8 106.5l3 1.7v3.5l-3 1.7l-3 -1.7v-3.5zM652.1 99.4l3 1.7v3.5l-3 1.7l-3 -1.7v-3.5zM652.4 105.5l3 1.7v3.5l-3 1.7l-3 -1.7v-3.5zM652.8 102.1l3 1.7v3.5l-3 1.7l-3 -1.7v-3.5zM653.1 107.7l3 1.7v3.5l-3 1.7l-3 -1.7v-3.5zM653.4 106.4l3 1.7v3.5l-3 1.7l-3 -1.7v-3.5zM653.7 109.1l3 1.7v3.5l-3 1.7l-3 -1.7v-3.5zM654 102.9l3 1.7v3.5l-3 1.7l-3 -1.7v-3.5zM654.3 100.3l3 1.7v3.5l-3 1.7l-3 -1.7v-3.5zM654.7 103.5l3 1.7v3.5l-3 1.7l-3 -1.7v-3.5zM655 104.5l3 1.7v3.5l-3 1.7l-3 -1.7v-3.5zM655.3 103l3 1.7v3.5l-3 1.7l-3 -1.7v-3.5zM655.6 102.4l3 1.7v3.5l-3 1.7l-3 -1.7v-3.5zM655.9 104.6l3 1.7v3.5l-3 1.7l-3 -1.7v-3.5zM656.2 102.1l3 1.7v3.5l-3 1.7l-3 -1.7v-3.5zM656.5 98l3 1.7v3.5l-3 1.7l-3 -1.7v-3.5zM656.8 97.2l3 1.7v3.5l-3 1.7l-3 -1.7v-3.5zM657.1 105.4l3 1.7v3.5l-3 1.7l-3 -1.7v-3.5zM657.3 107.4l3 1.7v3.5l-3 1.7l-3 -1.7v-3.5zM657.6 98.1l3 1.7v3.5l-3 1.7l-3 -1.7v-3.5zM657.9 100.9l3 1.7v3.5l-3 1.7l-3 -1.7v-3.5zM658.2 100.2l3 1.7v3.5l-3 1.7l-3 -1.7v-3.5zM658.5 102l3 1.7v3.5l-3 1.7l-3 -1.7v-3.5zM658.8 104.4l3 1.7v3.5l-3 1.7l-3 -1.7v-3.5zM659.1 100.9l3 1.7v3.5l-3 1.7l-3 -1.7v-3.5zM659.3 100.5l3 1.7v3.5l-3 1.7l-3 -1.7v-3.5zM659.6 100.3l3 1.7v3.5l-3 1.7l-3 -1.7v-3.5zM659.9 106.9l3 1.7v3.5l-3 1.7l-3 -1.7v-3.5zM660.2 100.7l3 1.7v3.5l-3 1.7l-3 -1.7v-3.5zM660.4 104.8l3 1.7v3.5l-3 1.7l-3 -1.7v-3.5zM660.7 104.8l3 1.7v3.5l-3 1.7l-3 -1.7v-3.5zM661 102.7l3 1.7v3.5l-3 1.7l-3 -1.7v-3.5zM661.2 104.7l3 1.7v3.5l-3 1.7l-3 -1.7v-3.5zM661.5 96.9l3 1.7v3.5l-3 1.7l-3 -1.7v-3.5zM661.8 102.1l3 1.7v3.5l-3 1.7l-3 -1.7v-3.5zM662 102.9l3 1.7v3.5l-3 1.7l-3 -1.7v-3.5zM662.3 104.3l3 1.7v3.5l-3 1.7l-3 -1.7v-3.5zM662.5 103l3 1.7v3.5l-3 1.7l-3 -1.7v-3.5zM662.8 104.4l3 1.7v3.5l-3 1.7l-3 -1.7v-3.5zM663 102l3 1.7v3.5l-3 1.7l-3 -1.7v-3.5zM663.3 101.2l3 1.7v3.5l-3 1.7l-3 -1.7v-3.5zM663.6 101.3l3 1.7v3.5l-3 1.7l-3 -1.7v-3.5zM663.8 107.4l3 1.7v3.5l-3 1.7l-3 -1.7v-3.5zM664.1 104.7l3 1.7v3.5l-3 1.7l-3 -1.7v-3.5zM664.3 103.5l3 1.7v3.5l-3 1.7l-3 -1.7v-3.5zM664.6 107.3l3 1.7v3.5l-3 1.7l-3 -1.7v-3.5zM664.8 102.6l3 1.7v3.5l-3 1.7l-3 -1.7v-3.5zM665 104.1l3 1.7v3.5l-3 1.7l-3 -1.7v-3.5zM665.3 103.6l3 1.7v3.5l-3 1.7l-3 -1.7v-3.5zM665.5 102.6l3 1.7v3.5l-3 1.7l-3 -1.7v-3.5zM665.8 105.5l3 1.7v3.5l-3 1.7l-3 -1.7v-3.5zM666 99.2l3 1.7v3.5l-3 1.7l-3 -1.7v-3.5zM666.2 100.7l3 1.7v3.5l-3 1.7l-3 -1.7v-3.5zM666.5 105.3l3 1.7v3.5l-3 1.7l-3 -1.7v-3.5zM666.7 102.4l3 1.7v3.5l-3 1.7l-3 -1.7v-3.5zM666.9 101.5l3 1.7v3.5l-3 1.7l-3 -1.7v-3.5zM667.2 106l3 1.7v3.5l-3 1.7l-3 -1.7v-3.5zM667.4 104.8l3 1.7v3.5l-3 1.7l-3 -1.7v-3.5zM667.6 101.7l3 1.7v3.5l-3 1.7l-3 -1.7v-3.5zM667.9 111.3l3 1.7v3.5l-3 1.7l-3 -1.7v-3.5zM668.1 107.6l3 1.7v3.5l-3 1.7l-3 -1.7v-3.5zM668.3 102.8l3 1.7v3.5l-3 1.7l-3 -1.7v-3.5zM668.5 101.9l3 1.7v3.5l-3 1.7l-3 -1.7v-3.5zM668.8 106.4l3 1.7v3.5l-3 1.7l-3 -1.7v-3.5zM669 101.2l3 1.7v3.5l-3 1.7l-3 -1.7v-3.5zM669.2 97.2l3 1.7v3.5l-3 1.7l-3 -1.7v-3.5zM669.4 103.1l3 1.7v3.5l-3 1.7l-3 -1.7v-3.5zM607.1 118.8l3 1.7v3.5l-3 1.7l-3 -1.7v-3.5z"/>
</g>
<path d="M397.6 204.5h4M397.6 155.5h4M397.6 107.5h4M397.6 58.5h4M397.6 10.5h4M397.6 228.5h2.4M397.6 179.5h2.4M397.6 131.5h2.4M397.6 82.5h2.4M397.6 34.5h2.4M405.5 252.5v-2.4M413.5 252.5v-2.4M420.5 252.5v-2.4M426.5 252.5v-2.4M431.5 252.5v-2.4M436.5 252.5v-4M466.5 252.5v-2.4M484.5 252.5v-2.4M497.5 252.5v-2.4M506.5 252.5v-2.4M514.5 252.5v-2.4M521.5 252.5v-2.4M527.5 252.5v-2.4M532.5 252.5v-2.4M537.5 252.5v-4M567.5 252.5v-2.4M585.5 252.5v-2.4M598.5 252.5v-2.4M608.5 252.5v-2.4M616.5 252.5v-2.4M623.5 252.5v-2.4M629.5 252.5v-2.4M634.5 252.5v-2.4M638.5 252.5v-4M669.5 252.5v-2.4" stroke="#000" stroke-width="1" fill="none"/>
<rect x="397.6" y="5.5" width="279.1" height="247.0" fill="none" stroke="#000" stroke-width="1.3"/>
<text transform="translate(391.8,208.3) scale(0.93,1)" text-anchor="end" class="tl">-10</text>
<text transform="translate(391.8,159.8) scale(0.93,1)" text-anchor="end" class="tl">-5</text>
<text transform="translate(391.8,111.3) scale(0.93,1)" text-anchor="end" class="tl">0</text>
<text transform="translate(391.8,62.8) scale(0.93,1)" text-anchor="end" class="tl">5</text>
<text transform="translate(391.8,14.3) scale(0.93,1)" text-anchor="end" class="tl">10</text>
<text transform="translate(436.3,270.5) scale(0.87,1)" text-anchor="middle" class="tl">10<tspan dy="-5.6" font-size="7.8">3</tspan></text>
<text transform="translate(537.8,270.5) scale(0.87,1)" text-anchor="middle" class="tl">10<tspan dy="-5.6" font-size="7.8">4</tspan></text>
<text transform="translate(639.2,270.5) scale(0.87,1)" text-anchor="middle" class="tl">10<tspan dy="-5.6" font-size="7.8">5</tspan></text>
<rect x="402.4" y="154.2" width="147.5" height="93.5" fill="#fff" stroke="#555" stroke-width="0.9"/>
<path fill="#000" d="M414.4 161h4.8v4.8h-4.8z"/>
<text transform="translate(433.3,167.4) scale(0.95,1)" class="lg">RPET</text>
<path fill="#ff0000" d="M413.9 179.2a2.9 2.9 0 1 0 5.8 0a2.9 2.9 0 1 0 -5.8 0z"/>
<text transform="translate(433.3,183.2) scale(0.95,1)" class="lg">RPET+ Nd<tspan dy="3.4" font-size="9">2</tspan><tspan dy="-3.4">O</tspan><tspan dy="3.4" font-size="9">3</tspan><tspan dy="-3.4"> 1wt.%</tspan></text>
<path fill="#00ff00" d="M416.8 194.5l3.2 5.8h-6.4z"/>
<text transform="translate(433.3,202.0) scale(0.95,1)" class="lg">RPET+ Nd<tspan dy="3.4" font-size="9">2</tspan><tspan dy="-3.4">O</tspan><tspan dy="3.4" font-size="9">3</tspan><tspan dy="-3.4"> 2wt.%</tspan></text>
<path fill="#ff00ff" d="M416.8 214l3.2 3.2l-3.2 3.2l-3.2 -3.2z"/>
<text transform="translate(433.3,221.2) scale(0.95,1)" class="lg">RPET+ Nd<tspan dy="3.4" font-size="9">2</tspan><tspan dy="-3.4">O</tspan><tspan dy="3.4" font-size="9">3</tspan><tspan dy="-3.4"> 4wt.%</tspan></text>
<path fill="#808000" d="M416.8 232.7l2.8 1.6v3.1l-2.8 1.6l-2.8 -1.6v-3.1z"/>
<text transform="translate(433.3,239.8) scale(0.95,1)" class="lg">RPET+ Nd<tspan dy="3.4" font-size="9">2</tspan><tspan dy="-3.4">O</tspan><tspan dy="3.4" font-size="9">3</tspan><tspan dy="-3.4"> 8wt.%</tspan></text>
<text transform="translate(632.0,24.8) scale(0.84,1)" class="tp">100</text>
<text transform="translate(656.7,19.4) scale(0.92,1)" class="tpo">O</text>
<text transform="translate(663.4,24.8) scale(0.84,1)" class="tp">C</text>
<text transform="translate(421.0,25.0)" class="pl">(b)</text>
<text transform="translate(520.1,292.9)" class="ax">f (Hz)</text>
<g clip-path="url(#cc)">
<path fill="#000" d="M64.5 529.9h5.4v5.4h-5.4zM95.1 528.3h5.4v5.4h-5.4zM113 530.9h5.4v5.4h-5.4zM125.6 527.3h5.4v5.4h-5.4zM135.5 526.3h5.4v5.4h-5.4zM143.5 525.8h5.4v5.4h-5.4zM150.3 527.1h5.4v5.4h-5.4zM156.2 527h5.4v5.4h-5.4zM161.4 528.1h5.4v5.4h-5.4zM166.1 526.4h5.4v5.4h-5.4zM170.3 526.8h5.4v5.4h-5.4zM174.1 526.2h5.4v5.4h-5.4zM177.6 525.5h5.4v5.4h-5.4zM180.9 527h5.4v5.4h-5.4zM183.9 526.8h5.4v5.4h-5.4zM186.8 526.7h5.4v5.4h-5.4zM189.5 525.2h5.4v5.4h-5.4zM192 528.6h5.4v5.4h-5.4zM194.4 527h5.4v5.4h-5.4zM196.6 527.7h5.4v5.4h-5.4zM198.8 526.9h5.4v5.4h-5.4zM200.8 526.1h5.4v5.4h-5.4zM202.8 526.9h5.4v5.4h-5.4zM204.7 526.2h5.4v5.4h-5.4zM206.5 526.8h5.4v5.4h-5.4zM208.2 527.8h5.4v5.4h-5.4zM209.9 527.7h5.4v5.4h-5.4zM211.5 528.5h5.4v5.4h-5.4zM213 526.8h5.4v5.4h-5.4zM214.5 527.4h5.4v5.4h-5.4zM215.9 526.1h5.4v5.4h-5.4zM217.3 526h5.4v5.4h-5.4zM218.7 528h5.4v5.4h-5.4zM220 528.2h5.4v5.4h-5.4zM221.3 526.4h5.4v5.4h-5.4zM222.5 528h5.4v5.4h-5.4zM223.8 526.8h5.4v5.4h-5.4zM224.9 526.4h5.4v5.4h-5.4zM226.1 527.4h5.4v5.4h-5.4zM227.2 525.1h5.4v5.4h-5.4zM228.3 527.8h5.4v5.4h-5.4zM229.3 526.6h5.4v5.4h-5.4zM230.4 527.5h5.4v5.4h-5.4zM231.4 530.1h5.4v5.4h-5.4zM232.4 527.2h5.4v5.4h-5.4zM233.4 527.2h5.4v5.4h-5.4zM234.3 526.4h5.4v5.4h-5.4zM235.2 527.2h5.4v5.4h-5.4zM236.1 527.8h5.4v5.4h-5.4zM237 527.6h5.4v5.4h-5.4zM237.9 527.3h5.4v5.4h-5.4zM238.8 526.2h5.4v5.4h-5.4zM239.6 527.3h5.4v5.4h-5.4zM240.4 525.7h5.4v5.4h-5.4zM241.2 526.1h5.4v5.4h-5.4zM242 527.8h5.4v5.4h-5.4zM242.8 525.9h5.4v5.4h-5.4zM243.6 529.4h5.4v5.4h-5.4zM244.3 527h5.4v5.4h-5.4zM245.1 528.1h5.4v5.4h-5.4zM245.8 527.1h5.4v5.4h-5.4zM246.5 525.8h5.4v5.4h-5.4zM247.2 527h5.4v5.4h-5.4zM247.9 527.2h5.4v5.4h-5.4zM248.6 525.7h5.4v5.4h-5.4zM249.3 527.8h5.4v5.4h-5.4zM249.9 527.9h5.4v5.4h-5.4zM250.6 526h5.4v5.4h-5.4zM251.2 526.4h5.4v5.4h-5.4zM251.9 528.5h5.4v5.4h-5.4zM252.5 526.9h5.4v5.4h-5.4zM253.1 526.2h5.4v5.4h-5.4zM253.7 527.2h5.4v5.4h-5.4zM254.3 527.4h5.4v5.4h-5.4zM254.9 526.9h5.4v5.4h-5.4zM255.5 526.8h5.4v5.4h-5.4zM256.1 527.8h5.4v5.4h-5.4zM256.6 526.1h5.4v5.4h-5.4zM257.2 528.7h5.4v5.4h-5.4zM257.8 527.1h5.4v5.4h-5.4zM258.3 524.7h5.4v5.4h-5.4zM258.8 528.1h5.4v5.4h-5.4zM259.4 527.1h5.4v5.4h-5.4zM259.9 529.4h5.4v5.4h-5.4zM260.4 527.9h5.4v5.4h-5.4zM260.9 528.2h5.4v5.4h-5.4zM261.5 527h5.4v5.4h-5.4zM262 527.5h5.4v5.4h-5.4zM262.5 525.1h5.4v5.4h-5.4zM263 528h5.4v5.4h-5.4zM263.4 527h5.4v5.4h-5.4zM263.9 526.8h5.4v5.4h-5.4zM264.4 526.3h5.4v5.4h-5.4zM264.9 526.1h5.4v5.4h-5.4zM265.3 528.7h5.4v5.4h-5.4zM265.8 524.7h5.4v5.4h-5.4zM266.3 527.3h5.4v5.4h-5.4zM266.7 527.8h5.4v5.4h-5.4zM267.2 528.8h5.4v5.4h-5.4zM267.6 527.5h5.4v5.4h-5.4zM268 528.9h5.4v5.4h-5.4zM268.5 526.8h5.4v5.4h-5.4zM268.9 527.7h5.4v5.4h-5.4zM269.3 526.7h5.4v5.4h-5.4zM269.8 527.9h5.4v5.4h-5.4zM270.2 526.9h5.4v5.4h-5.4zM270.6 524.7h5.4v5.4h-5.4zM271 525.8h5.4v5.4h-5.4zM271.4 526.8h5.4v5.4h-5.4zM271.8 528.1h5.4v5.4h-5.4zM272.2 525.5h5.4v5.4h-5.4zM272.6 528.8h5.4v5.4h-5.4zM273 528.5h5.4v5.4h-5.4zM273.4 525.6h5.4v5.4h-5.4zM273.8 527.7h5.4v5.4h-5.4zM274.1 525.6h5.4v5.4h-5.4zM274.5 526.4h5.4v5.4h-5.4zM274.9 524.7h5.4v5.4h-5.4zM275.3 525.1h5.4v5.4h-5.4zM275.6 526.4h5.4v5.4h-5.4zM276 527.7h5.4v5.4h-5.4zM276.4 526.4h5.4v5.4h-5.4zM276.7 525.5h5.4v5.4h-5.4zM277.1 526.9h5.4v5.4h-5.4zM277.4 530.1h5.4v5.4h-5.4zM277.8 527.4h5.4v5.4h-5.4zM278.1 527.4h5.4v5.4h-5.4zM278.5 527.1h5.4v5.4h-5.4zM278.8 527.4h5.4v5.4h-5.4zM279.2 525.8h5.4v5.4h-5.4zM279.5 528.4h5.4v5.4h-5.4zM279.8 526.6h5.4v5.4h-5.4zM280.2 529.1h5.4v5.4h-5.4zM280.5 529.3h5.4v5.4h-5.4zM280.8 528.1h5.4v5.4h-5.4zM281.2 527.8h5.4v5.4h-5.4zM281.5 528h5.4v5.4h-5.4zM281.8 527.8h5.4v5.4h-5.4zM282.1 526.4h5.4v5.4h-5.4zM282.4 526.4h5.4v5.4h-5.4zM282.8 526.9h5.4v5.4h-5.4zM283.1 526.8h5.4v5.4h-5.4zM283.4 527.8h5.4v5.4h-5.4zM283.7 528.1h5.4v5.4h-5.4zM284 528.5h5.4v5.4h-5.4zM284.3 527.5h5.4v5.4h-5.4zM284.6 528.2h5.4v5.4h-5.4zM284.9 527.4h5.4v5.4h-5.4zM285.2 526.3h5.4v5.4h-5.4zM285.5 526.4h5.4v5.4h-5.4zM285.8 525.6h5.4v5.4h-5.4zM286.1 528h5.4v5.4h-5.4zM286.4 529.4h5.4v5.4h-5.4zM286.6 528.2h5.4v5.4h-5.4zM286.9 524.9h5.4v5.4h-5.4zM287.2 526.3h5.4v5.4h-5.4zM287.5 527.5h5.4v5.4h-5.4zM287.8 525.6h5.4v5.4h-5.4zM288.1 527.5h5.4v5.4h-5.4zM288.3 525.3h5.4v5.4h-5.4zM288.6 527.5h5.4v5.4h-5.4zM288.9 527.5h5.4v5.4h-5.4zM289.1 526.3h5.4v5.4h-5.4zM289.4 528.2h5.4v5.4h-5.4zM289.7 527.2h5.4v5.4h-5.4zM290 525h5.4v5.4h-5.4zM290.2 526.6h5.4v5.4h-5.4zM290.5 528.2h5.4v5.4h-5.4zM290.7 527.3h5.4v5.4h-5.4zM291 527.1h5.4v5.4h-5.4zM291.3 527.8h5.4v5.4h-5.4zM291.5 526.6h5.4v5.4h-5.4zM291.8 525.7h5.4v5.4h-5.4zM292 527h5.4v5.4h-5.4zM292.3 526.1h5.4v5.4h-5.4zM292.5 526.7h5.4v5.4h-5.4zM292.8 526.9h5.4v5.4h-5.4zM293 527.8h5.4v5.4h-5.4zM293.3 526h5.4v5.4h-5.4zM293.5 525.6h5.4v5.4h-5.4zM293.8 527.5h5.4v5.4h-5.4zM294 528h5.4v5.4h-5.4zM294.3 526.5h5.4v5.4h-5.4zM294.5 526.9h5.4v5.4h-5.4zM294.7 525.8h5.4v5.4h-5.4zM295 526.5h5.4v5.4h-5.4zM295.2 527.2h5.4v5.4h-5.4zM295.4 528.5h5.4v5.4h-5.4zM295.7 526.4h5.4v5.4h-5.4zM295.9 526.9h5.4v5.4h-5.4zM296.1 528.4h5.4v5.4h-5.4zM296.4 528.6h5.4v5.4h-5.4zM296.6 529h5.4v5.4h-5.4zM296.8 526.4h5.4v5.4h-5.4zM297.1 527.5h5.4v5.4h-5.4zM297.3 530.6h5.4v5.4h-5.4zM297.5 528h5.4v5.4h-5.4zM297.7 527.7h5.4v5.4h-5.4zM297.9 527.1h5.4v5.4h-5.4zM298.2 527h5.4v5.4h-5.4zM181.2 519.4h5.4v5.4h-5.4zM223.2 518.5h5.4v5.4h-5.4zM227.9 520.1h5.4v5.4h-5.4zM242.6 518.5h5.4v5.4h-5.4zM267.6 521.3h5.4v5.4h-5.4zM169.5 531.4h5.4v5.4h-5.4zM215 534.2h5.4v5.4h-5.4zM217.4 538.8h5.4v5.4h-5.4zM227.9 532.5h5.4v5.4h-5.4zM216.1 519.1h5.4v5.4h-5.4zM225.1 521.1h5.4v5.4h-5.4zM180.1 521.6h5.4v5.4h-5.4zM216.1 533.6h5.4v5.4h-5.4zM253.3 530.3h5.4v5.4h-5.4zM237.3 531.3h5.4v5.4h-5.4zM197.3 532.3h5.4v5.4h-5.4zM202.3 520.3h5.4v5.4h-5.4zM257.3 520.3h5.4v5.4h-5.4z"/>
<path fill="#ff0000" d="M64.2 528.3a3.0 3.0 0 1 0 6 0a3.0 3.0 0 1 0 -6 0zM94.8 528.7a3.0 3.0 0 1 0 6 0a3.0 3.0 0 1 0 -6 0zM112.7 531a3.0 3.0 0 1 0 6 0a3.0 3.0 0 1 0 -6 0zM125.3 530a3.0 3.0 0 1 0 6 0a3.0 3.0 0 1 0 -6 0zM135.2 528.1a3.0 3.0 0 1 0 6 0a3.0 3.0 0 1 0 -6 0zM143.2 530.1a3.0 3.0 0 1 0 6 0a3.0 3.0 0 1 0 -6 0zM150 529.5a3.0 3.0 0 1 0 6 0a3.0 3.0 0 1 0 -6 0zM155.9 529.4a3.0 3.0 0 1 0 6 0a3.0 3.0 0 1 0 -6 0zM161.1 530a3.0 3.0 0 1 0 6 0a3.0 3.0 0 1 0 -6 0zM165.8 529.1a3.0 3.0 0 1 0 6 0a3.0 3.0 0 1 0 -6 0zM170 530a3.0 3.0 0 1 0 6 0a3.0 3.0 0 1 0 -6 0zM173.8 530.4a3.0 3.0 0 1 0 6 0a3.0 3.0 0 1 0 -6 0zM177.3 529.8a3.0 3.0 0 1 0 6 0a3.0 3.0 0 1 0 -6 0zM180.6 530.7a3.0 3.0 0 1 0 6 0a3.0 3.0 0 1 0 -6 0zM183.6 530.1a3.0 3.0 0 1 0 6 0a3.0 3.0 0 1 0 -6 0zM186.5 530.5a3.0 3.0 0 1 0 6 0a3.0 3.0 0 1 0 -6 0zM189.2 530.1a3.0 3.0 0 1 0 6 0a3.0 3.0 0 1 0 -6 0zM191.7 529.8a3.0 3.0 0 1 0 6 0a3.0 3.0 0 1 0 -6 0zM194.1 531.2a3.0 3.0 0 1 0 6 0a3.0 3.0 0 1 0 -6 0zM196.3 529.7a3.0 3.0 0 1 0 6 0a3.0 3.0 0 1 0 -6 0zM198.5 529.8a3.0 3.0 0 1 0 6 0a3.0 3.0 0 1 0 -6 0zM200.5 530a3.0 3.0 0 1 0 6 0a3.0 3.0 0 1 0 -6 0zM202.5 529.5a3.0 3.0 0 1 0 6 0a3.0 3.0 0 1 0 -6 0zM204.4 529.7a3.0 3.0 0 1 0 6 0a3.0 3.0 0 1 0 -6 0zM206.2 530.1a3.0 3.0 0 1 0 6 0a3.0 3.0 0 1 0 -6 0zM207.9 530.4a3.0 3.0 0 1 0 6 0a3.0 3.0 0 1 0 -6 0zM209.6 529.5a3.0 3.0 0 1 0 6 0a3.0 3.0 0 1 0 -6 0zM211.2 529.5a3.0 3.0 0 1 0 6 0a3.0 3.0 0 1 0 -6 0zM212.7 530.7a3.0 3.0 0 1 0 6 0a3.0 3.0 0 1 0 -6 0zM214.2 530.3a3.0 3.0 0 1 0 6 0a3.0 3.0 0 1 0 -6 0zM215.6 530.5a3.0 3.0 0 1 0 6 0a3.0 3.0 0 1 0 -6 0zM217 529.5a3.0 3.0 0 1 0 6 0a3.0 3.0 0 1 0 -6 0zM218.4 530.2a3.0 3.0 0 1 0 6 0a3.0 3.0 0 1 0 -6 0zM219.7 530.6a3.0 3.0 0 1 0 6 0a3.0 3.0 0 1 0 -6 0zM221 529.1a3.0 3.0 0 1 0 6 0a3.0 3.0 0 1 0 -6 0zM222.2 529.7a3.0 3.0 0 1 0 6 0a3.0 3.0 0 1 0 -6 0zM223.5 529.8a3.0 3.0 0 1 0 6 0a3.0 3.0 0 1 0 -6 0zM224.6 529.8a3.0 3.0 0 1 0 6 0a3.0 3.0 0 1 0 -6 0zM225.8 530a3.0 3.0 0 1 0 6 0a3.0 3.0 0 1 0 -6 0zM226.9 529.9a3.0 3.0 0 1 0 6 0a3.0 3.0 0 1 0 -6 0zM228 529.4a3.0 3.0 0 1 0 6 0a3.0 3.0 0 1 0 -6 0zM229 529.7a3.0 3.0 0 1 0 6 0a3.0 3.0 0 1 0 -6 0zM230.1 530.2a3.0 3.0 0 1 0 6 0a3.0 3.0 0 1 0 -6 0zM231.1 529.9a3.0 3.0 0 1 0 6 0a3.0 3.0 0 1 0 -6 0zM232.1 528.9a3.0 3.0 0 1 0 6 0a3.0 3.0 0 1 0 -6 0zM233.1 530.2a3.0 3.0 0 1 0 6 0a3.0 3.0 0 1 0 -6 0zM234 530.6a3.0 3.0 0 1 0 6 0a3.0 3.0 0 1 0 -6 0zM234.9 529.8a3.0 3.0 0 1 0 6 0a3.0 3.0 0 1 0 -6 0zM235.8 530.5a3.0 3.0 0 1 0 6 0a3.0 3.0 0 1 0 -6 0zM236.7 528.5a3.0 3.0 0 1 0 6 0a3.0 3.0 0 1 0 -6 0zM237.6 529.6a3.0 3.0 0 1 0 6 0a3.0 3.0 0 1 0 -6 0zM238.5 529.6a3.0 3.0 0 1 0 6 0a3.0 3.0 0 1 0 -6 0zM239.3 529.7a3.0 3.0 0 1 0 6 0a3.0 3.0 0 1 0 -6 0zM240.1 528.9a3.0 3.0 0 1 0 6 0a3.0 3.0 0 1 0 -6 0zM240.9 530.4a3.0 3.0 0 1 0 6 0a3.0 3.0 0 1 0 -6 0zM241.7 529.9a3.0 3.0 0 1 0 6 0a3.0 3.0 0 1 0 -6 0zM242.5 530.8a3.0 3.0 0 1 0 6 0a3.0 3.0 0 1 0 -6 0zM243.3 529.2a3.0 3.0 0 1 0 6 0a3.0 3.0 0 1 0 -6 0zM244 529.9a3.0 3.0 0 1 0 6 0a3.0 3.0 0 1 0 -6 0zM244.8 529a3.0 3.0 0 1 0 6 0a3.0 3.0 0 1 0 -6 0zM245.5 530.1a3.0 3.0 0 1 0 6 0a3.0 3.0 0 1 0 -6 0zM246.2 530.5a3.0 3.0 0 1 0 6 0a3.0 3.0 0 1 0 -6 0zM246.9 530.3a3.0 3.0 0 1 0 6 0a3.0 3.0 0 1 0 -6 0zM247.6 529.5a3.0 3.0 0 1 0 6 0a3.0 3.0 0 1 0 -6 0zM248.3 530.3a3.0 3.0 0 1 0 6 0a3.0 3.0 0 1 0 -6 0zM249 529.8a3.0 3.0 0 1 0 6 0a3.0 3.0 0 1 0 -6 0zM249.6 530.3a3.0 3.0 0 1 0 6 0a3.0 3.0 0 1 0 -6 0zM250.3 530.3a3.0 3.0 0 1 0 6 0a3.0 3.0 0 1 0 -6 0zM250.9 530.2a3.0 3.0 0 1 0 6 0a3.0 3.0 0 1 0 -6 0zM251.6 529a3.0 3.0 0 1 0 6 0a3.0 3.0 0 1 0 -6 0zM252.2 530.5a3.0 3.0 0 1 0 6 0a3.0 3.0 0 1 0 -6 0zM252.8 529.7a3.0 3.0 0 1 0 6 0a3.0 3.0 0 1 0 -6 0zM253.4 529.5a3.0 3.0 0 1 0 6 0a3.0 3.0 0 1 0 -6 0zM254 530.3a3.0 3.0 0 1 0 6 0a3.0 3.0 0 1 0 -6 0zM254.6 530.7a3.0 3.0 0 1 0 6 0a3.0 3.0 0 1 0 -6 0zM255.2 529.1a3.0 3.0 0 1 0 6 0a3.0 3.0 0 1 0 -6 0zM255.8 529a3.0 3.0 0 1 0 6 0a3.0 3.0 0 1 0 -6 0zM256.3 530a3.0 3.0 0 1 0 6 0a3.0 3.0 0 1 0 -6 0zM256.9 530.5a3.0 3.0 0 1 0 6 0a3.0 3.0 0 1 0 -6 0zM257.5 529.4a3.0 3.0 0 1 0 6 0a3.0 3.0 0 1 0 -6 0zM258 529.9a3.0 3.0 0 1 0 6 0a3.0 3.0 0 1 0 -6 0zM258.5 530.3a3.0 3.0 0 1 0 6 0a3.0 3.0 0 1 0 -6 0zM259.1 530.1a3.0 3.0 0 1 0 6 0a3.0 3.0 0 1 0 -6 0zM259.6 531.2a3.0 3.0 0 1 0 6 0a3.0 3.0 0 1 0 -6 0zM260.1 530.3a3.0 3.0 0 1 0 6 0a3.0 3.0 0 1 0 -6 0zM260.6 530.6a3.0 3.0 0 1 0 6 0a3.0 3.0 0 1 0 -6 0zM261.2 530.6a3.0 3.0 0 1 0 6 0a3.0 3.0 0 1 0 -6 0zM261.7 529.6a3.0 3.0 0 1 0 6 0a3.0 3.0 0 1 0 -6 0zM262.2 529.8a3.0 3.0 0 1 0 6 0a3.0 3.0 0 1 0 -6 0zM262.7 529a3.0 3.0 0 1 0 6 0a3.0 3.0 0 1 0 -6 0zM263.1 531.3a3.0 3.0 0 1 0 6 0a3.0 3.0 0 1 0 -6 0zM263.6 530.3a3.0 3.0 0 1 0 6 0a3.0 3.0 0 1 0 -6 0zM264.1 530.4a3.0 3.0 0 1 0 6 0a3.0 3.0 0 1 0 -6 0zM264.6 529.2a3.0 3.0 0 1 0 6 0a3.0 3.0 0 1 0 -6 0zM265 529.4a3.0 3.0 0 1 0 6 0a3.0 3.0 0 1 0 -6 0zM265.5 529.8a3.0 3.0 0 1 0 6 0a3.0 3.0 0 1 0 -6 0zM266 529.9a3.0 3.0 0 1 0 6 0a3.0 3.0 0 1 0 -6 0zM266.4 530.3a3.0 3.0 0 1 0 6 0a3.0 3.0 0 1 0 -6 0zM266.9 530.2a3.0 3.0 0 1 0 6 0a3.0 3.0 0 1 0 -6 0zM267.3 530.2a3.0 3.0 0 1 0 6 0a3.0 3.0 0 1 0 -6 0zM267.7 531.3a3.0 3.0 0 1 0 6 0a3.0 3.0 0 1 0 -6 0zM268.2 528.9a3.0 3.0 0 1 0 6 0a3.0 3.0 0 1 0 -6 0zM268.6 529.5a3.0 3.0 0 1 0 6 0a3.0 3.0 0 1 0 -6 0zM269 528.8a3.0 3.0 0 1 0 6 0a3.0 3.0 0 1 0 -6 0zM269.5 529.3a3.0 3.0 0 1 0 6 0a3.0 3.0 0 1 0 -6 0zM269.9 529.6a3.0 3.0 0 1 0 6 0a3.0 3.0 0 1 0 -6 0zM270.3 529.5a3.0 3.0 0 1 0 6 0a3.0 3.0 0 1 0 -6 0zM270.7 530.8a3.0 3.0 0 1 0 6 0a3.0 3.0 0 1 0 -6 0zM271.1 530.5a3.0 3.0 0 1 0 6 0a3.0 3.0 0 1 0 -6 0zM271.5 529.5a3.0 3.0 0 1 0 6 0a3.0 3.0 0 1 0 -6 0zM271.9 530.1a3.0 3.0 0 1 0 6 0a3.0 3.0 0 1 0 -6 0zM272.3 530.8a3.0 3.0 0 1 0 6 0a3.0 3.0 0 1 0 -6 0zM272.7 529.9a3.0 3.0 0 1 0 6 0a3.0 3.0 0 1 0 -6 0zM273.1 530.6a3.0 3.0 0 1 0 6 0a3.0 3.0 0 1 0 -6 0zM273.5 529.9a3.0 3.0 0 1 0 6 0a3.0 3.0 0 1 0 -6 0zM273.8 529.1a3.0 3.0 0 1 0 6 0a3.0 3.0 0 1 0 -6 0zM274.2 530.5a3.0 3.0 0 1 0 6 0a3.0 3.0 0 1 0 -6 0zM274.6 530.2a3.0 3.0 0 1 0 6 0a3.0 3.0 0 1 0 -6 0zM275 529.6a3.0 3.0 0 1 0 6 0a3.0 3.0 0 1 0 -6 0zM275.3 529.9a3.0 3.0 0 1 0 6 0a3.0 3.0 0 1 0 -6 0zM275.7 529.8a3.0 3.0 0 1 0 6 0a3.0 3.0 0 1 0 -6 0zM276.1 530.4a3.0 3.0 0 1 0 6 0a3.0 3.0 0 1 0 -6 0zM276.4 530.1a3.0 3.0 0 1 0 6 0a3.0 3.0 0 1 0 -6 0zM276.8 531.2a3.0 3.0 0 1 0 6 0a3.0 3.0 0 1 0 -6 0zM277.1 530a3.0 3.0 0 1 0 6 0a3.0 3.0 0 1 0 -6 0zM277.5 529.2a3.0 3.0 0 1 0 6 0a3.0 3.0 0 1 0 -6 0zM277.8 530.5a3.0 3.0 0 1 0 6 0a3.0 3.0 0 1 0 -6 0zM278.2 530a3.0 3.0 0 1 0 6 0a3.0 3.0 0 1 0 -6 0zM278.5 529.5a3.0 3.0 0 1 0 6 0a3.0 3.0 0 1 0 -6 0zM278.9 529.3a3.0 3.0 0 1 0 6 0a3.0 3.0 0 1 0 -6 0zM279.2 529.3a3.0 3.0 0 1 0 6 0a3.0 3.0 0 1 0 -6 0zM279.5 530.4a3.0 3.0 0 1 0 6 0a3.0 3.0 0 1 0 -6 0zM279.9 530.1a3.0 3.0 0 1 0 6 0a3.0 3.0 0 1 0 -6 0zM280.2 529a3.0 3.0 0 1 0 6 0a3.0 3.0 0 1 0 -6 0zM280.5 530.2a3.0 3.0 0 1 0 6 0a3.0 3.0 0 1 0 -6 0zM280.9 529.8a3.0 3.0 0 1 0 6 0a3.0 3.0 0 1 0 -6 0zM281.2 530.4a3.0 3.0 0 1 0 6 0a3.0 3.0 0 1 0 -6 0zM281.5 530.3a3.0 3.0 0 1 0 6 0a3.0 3.0 0 1 0 -6 0zM281.8 531.5a3.0 3.0 0 1 0 6 0a3.0 3.0 0 1 0 -6 0zM282.1 530.2a3.0 3.0 0 1 0 6 0a3.0 3.0 0 1 0 -6 0zM282.5 531.1a3.0 3.0 0 1 0 6 0a3.0 3.0 0 1 0 -6 0zM282.8 530.5a3.0 3.0 0 1 0 6 0a3.0 3.0 0 1 0 -6 0zM283.1 530.4a3.0 3.0 0 1 0 6 0a3.0 3.0 0 1 0 -6 0zM283.4 529.2a3.0 3.0 0 1 0 6 0a3.0 3.0 0 1 0 -6 0zM283.7 529.5a3.0 3.0 0 1 0 6 0a3.0 3.0 0 1 0 -6 0zM284 529.7a3.0 3.0 0 1 0 6 0a3.0 3.0 0 1 0 -6 0zM284.3 530.2a3.0 3.0 0 1 0 6 0a3.0 3.0 0 1 0 -6 0zM284.6 530.7a3.0 3.0 0 1 0 6 0a3.0 3.0 0 1 0 -6 0zM284.9 529.7a3.0 3.0 0 1 0 6 0a3.0 3.0 0 1 0 -6 0zM285.2 530.4a3.0 3.0 0 1 0 6 0a3.0 3.0 0 1 0 -6 0zM285.5 530a3.0 3.0 0 1 0 6 0a3.0 3.0 0 1 0 -6 0zM285.8 529.4a3.0 3.0 0 1 0 6 0a3.0 3.0 0 1 0 -6 0zM286.1 530a3.0 3.0 0 1 0 6 0a3.0 3.0 0 1 0 -6 0zM286.3 529.9a3.0 3.0 0 1 0 6 0a3.0 3.0 0 1 0 -6 0zM286.6 530.5a3.0 3.0 0 1 0 6 0a3.0 3.0 0 1 0 -6 0zM286.9 529.4a3.0 3.0 0 1 0 6 0a3.0 3.0 0 1 0 -6 0zM287.2 529.6a3.0 3.0 0 1 0 6 0a3.0 3.0 0 1 0 -6 0zM287.5 529.5a3.0 3.0 0 1 0 6 0a3.0 3.0 0 1 0 -6 0zM287.8 529a3.0 3.0 0 1 0 6 0a3.0 3.0 0 1 0 -6 0zM288 530.8a3.0 3.0 0 1 0 6 0a3.0 3.0 0 1 0 -6 0zM288.3 529.9a3.0 3.0 0 1 0 6 0a3.0 3.0 0 1 0 -6 0zM288.6 529.6a3.0 3.0 0 1 0 6 0a3.0 3.0 0 1 0 -6 0zM288.8 529.7a3.0 3.0 0 1 0 6 0a3.0 3.0 0 1 0 -6 0zM289.1 529.8a3.0 3.0 0 1 0 6 0a3.0 3.0 0 1 0 -6 0zM289.4 529.7a3.0 3.0 0 1 0 6 0a3.0 3.0 0 1 0 -6 0zM289.7 530.7a3.0 3.0 0 1 0 6 0a3.0 3.0 0 1 0 -6 0zM289.9 530a3.0 3.0 0 1 0 6 0a3.0 3.0 0 1 0 -6 0zM290.2 529.3a3.0 3.0 0 1 0 6 0a3.0 3.0 0 1 0 -6 0zM290.4 529.9a3.0 3.0 0 1 0 6 0a3.0 3.0 0 1 0 -6 0zM290.7 530a3.0 3.0 0 1 0 6 0a3.0 3.0 0 1 0 -6 0zM291 529.5a3.0 3.0 0 1 0 6 0a3.0 3.0 0 1 0 -6 0zM291.2 530.9a3.0 3.0 0 1 0 6 0a3.0 3.0 0 1 0 -6 0zM291.5 529.7a3.0 3.0 0 1 0 6 0a3.0 3.0 0 1 0 -6 0zM291.7 529.1a3.0 3.0 0 1 0 6 0a3.0 3.0 0 1 0 -6 0zM292 530.1a3.0 3.0 0 1 0 6 0a3.0 3.0 0 1 0 -6 0zM292.2 530.4a3.0 3.0 0 1 0 6 0a3.0 3.0 0 1 0 -6 0zM292.5 529.6a3.0 3.0 0 1 0 6 0a3.0 3.0 0 1 0 -6 0zM292.7 530.2a3.0 3.0 0 1 0 6 0a3.0 3.0 0 1 0 -6 0zM293 530.4a3.0 3.0 0 1 0 6 0a3.0 3.0 0 1 0 -6 0zM293.2 529.8a3.0 3.0 0 1 0 6 0a3.0 3.0 0 1 0 -6 0zM293.5 530.8a3.0 3.0 0 1 0 6 0a3.0 3.0 0 1 0 -6 0zM293.7 529.6a3.0 3.0 0 1 0 6 0a3.0 3.0 0 1 0 -6 0zM294 530.6a3.0 3.0 0 1 0 6 0a3.0 3.0 0 1 0 -6 0zM294.2 530.2a3.0 3.0 0 1 0 6 0a3.0 3.0 0 1 0 -6 0zM294.4 529.5a3.0 3.0 0 1 0 6 0a3.0 3.0 0 1 0 -6 0zM294.7 529.9a3.0 3.0 0 1 0 6 0a3.0 3.0 0 1 0 -6 0zM294.9 529.8a3.0 3.0 0 1 0 6 0a3.0 3.0 0 1 0 -6 0zM295.1 529.2a3.0 3.0 0 1 0 6 0a3.0 3.0 0 1 0 -6 0zM295.4 529.1a3.0 3.0 0 1 0 6 0a3.0 3.0 0 1 0 -6 0zM295.6 528.8a3.0 3.0 0 1 0 6 0a3.0 3.0 0 1 0 -6 0zM295.8 530.2a3.0 3.0 0 1 0 6 0a3.0 3.0 0 1 0 -6 0zM296.1 529.4a3.0 3.0 0 1 0 6 0a3.0 3.0 0 1 0 -6 0zM296.3 530.8a3.0 3.0 0 1 0 6 0a3.0 3.0 0 1 0 -6 0zM296.5 529.5a3.0 3.0 0 1 0 6 0a3.0 3.0 0 1 0 -6 0zM296.8 529.2a3.0 3.0 0 1 0 6 0a3.0 3.0 0 1 0 -6 0zM297 530.3a3.0 3.0 0 1 0 6 0a3.0 3.0 0 1 0 -6 0zM297.2 529.7a3.0 3.0 0 1 0 6 0a3.0 3.0 0 1 0 -6 0zM297.4 529.5a3.0 3.0 0 1 0 6 0a3.0 3.0 0 1 0 -6 0zM297.6 530a3.0 3.0 0 1 0 6 0a3.0 3.0 0 1 0 -6 0zM297.9 530.3a3.0 3.0 0 1 0 6 0a3.0 3.0 0 1 0 -6 0z"/>
<path fill="#00ff00" d="M67.2 523.8l3.6 6.8h-7.2zM97.8 524.4l3.6 6.8h-7.2zM115.7 523.4l3.6 6.8h-7.2zM128.3 521.9l3.6 6.8h-7.2zM138.2 523.4l3.6 6.8h-7.2zM146.2 524.8l3.6 6.8h-7.2zM153 523.8l3.6 6.8h-7.2zM158.9 525.3l3.6 6.8h-7.2zM164.1 524.5l3.6 6.8h-7.2zM168.8 524.1l3.6 6.8h-7.2zM173 524.5l3.6 6.8h-7.2zM176.8 523.8l3.6 6.8h-7.2zM180.3 523.8l3.6 6.8h-7.2zM183.6 524.4l3.6 6.8h-7.2zM186.6 523.7l3.6 6.8h-7.2zM189.5 524.2l3.6 6.8h-7.2zM192.2 525.3l3.6 6.8h-7.2zM194.7 524.8l3.6 6.8h-7.2zM197.1 524.5l3.6 6.8h-7.2zM199.3 524.5l3.6 6.8h-7.2zM201.5 525.5l3.6 6.8h-7.2zM203.5 523.4l3.6 6.8h-7.2zM205.5 525.4l3.6 6.8h-7.2zM207.4 525.2l3.6 6.8h-7.2zM209.2 524.4l3.6 6.8h-7.2zM210.9 524.5l3.6 6.8h-7.2zM212.6 523.8l3.6 6.8h-7.2zM214.2 524.5l3.6 6.8h-7.2zM215.7 524.4l3.6 6.8h-7.2zM217.2 524.2l3.6 6.8h-7.2zM218.6 525l3.6 6.8h-7.2zM220 525.3l3.6 6.8h-7.2zM221.4 524.9l3.6 6.8h-7.2zM222.7 524.1l3.6 6.8h-7.2zM224 524.8l3.6 6.8h-7.2zM225.2 523.9l3.6 6.8h-7.2zM226.5 524.9l3.6 6.8h-7.2zM227.6 524.2l3.6 6.8h-7.2zM228.8 524.6l3.6 6.8h-7.2zM229.9 524.2l3.6 6.8h-7.2zM231 524.6l3.6 6.8h-7.2zM232 524.5l3.6 6.8h-7.2zM233.1 524.9l3.6 6.8h-7.2zM234.1 523.9l3.6 6.8h-7.2zM235.1 524.6l3.6 6.8h-7.2zM236.1 524.3l3.6 6.8h-7.2zM237 524.3l3.6 6.8h-7.2zM237.9 525.1l3.6 6.8h-7.2zM238.8 525l3.6 6.8h-7.2zM239.7 524.6l3.6 6.8h-7.2zM240.6 523.9l3.6 6.8h-7.2zM241.5 525.2l3.6 6.8h-7.2zM242.3 525.1l3.6 6.8h-7.2zM243.1 525.1l3.6 6.8h-7.2zM243.9 524.8l3.6 6.8h-7.2zM244.7 525.2l3.6 6.8h-7.2zM245.5 525l3.6 6.8h-7.2zM246.3 524.3l3.6 6.8h-7.2zM247 525.2l3.6 6.8h-7.2zM247.8 524.6l3.6 6.8h-7.2zM248.5 525.2l3.6 6.8h-7.2zM249.2 524.7l3.6 6.8h-7.2zM249.9 524.3l3.6 6.8h-7.2zM250.6 525.7l3.6 6.8h-7.2zM251.3 524.6l3.6 6.8h-7.2zM252 524.5l3.6 6.8h-7.2zM252.6 524.6l3.6 6.8h-7.2zM253.3 524.5l3.6 6.8h-7.2zM253.9 524.4l3.6 6.8h-7.2zM254.6 525.3l3.6 6.8h-7.2zM255.2 524.7l3.6 6.8h-7.2zM255.8 524.3l3.6 6.8h-7.2zM256.4 523.9l3.6 6.8h-7.2zM257 525.3l3.6 6.8h-7.2zM257.6 524.9l3.6 6.8h-7.2zM258.2 525.3l3.6 6.8h-7.2zM258.8 524.6l3.6 6.8h-7.2zM259.3 525.2l3.6 6.8h-7.2zM259.9 525.1l3.6 6.8h-7.2zM260.5 524.2l3.6 6.8h-7.2zM261 523.4l3.6 6.8h-7.2zM261.5 525.7l3.6 6.8h-7.2zM262.1 523.7l3.6 6.8h-7.2zM262.6 525.1l3.6 6.8h-7.2zM263.1 524.2l3.6 6.8h-7.2zM263.6 524.4l3.6 6.8h-7.2zM264.2 523.9l3.6 6.8h-7.2zM264.7 524.7l3.6 6.8h-7.2zM265.2 525l3.6 6.8h-7.2zM265.7 524.6l3.6 6.8h-7.2zM266.1 524.2l3.6 6.8h-7.2zM266.6 525.1l3.6 6.8h-7.2zM267.1 524.4l3.6 6.8h-7.2zM267.6 524.6l3.6 6.8h-7.2zM268 524.5l3.6 6.8h-7.2zM268.5 524.6l3.6 6.8h-7.2zM269 524.3l3.6 6.8h-7.2zM269.4 524.2l3.6 6.8h-7.2zM269.9 524.8l3.6 6.8h-7.2zM270.3 524.8l3.6 6.8h-7.2zM270.7 525.7l3.6 6.8h-7.2zM271.2 525.1l3.6 6.8h-7.2zM271.6 525.4l3.6 6.8h-7.2zM272 524.2l3.6 6.8h-7.2zM272.5 525.2l3.6 6.8h-7.2zM272.9 525l3.6 6.8h-7.2zM273.3 524.3l3.6 6.8h-7.2zM273.7 524.1l3.6 6.8h-7.2zM274.1 523.9l3.6 6.8h-7.2zM274.5 525.1l3.6 6.8h-7.2zM274.9 524.5l3.6 6.8h-7.2zM275.3 524l3.6 6.8h-7.2zM275.7 525.1l3.6 6.8h-7.2zM276.1 524.7l3.6 6.8h-7.2zM276.5 525.3l3.6 6.8h-7.2zM276.8 524.9l3.6 6.8h-7.2zM277.2 524.2l3.6 6.8h-7.2zM277.6 524.5l3.6 6.8h-7.2zM278 524.8l3.6 6.8h-7.2zM278.3 524.9l3.6 6.8h-7.2zM278.7 523.8l3.6 6.8h-7.2zM279.1 524.2l3.6 6.8h-7.2zM279.4 525.3l3.6 6.8h-7.2zM279.8 523.4l3.6 6.8h-7.2zM280.1 524.8l3.6 6.8h-7.2zM280.5 524.7l3.6 6.8h-7.2zM280.8 524.9l3.6 6.8h-7.2zM281.2 524.9l3.6 6.8h-7.2zM281.5 524.3l3.6 6.8h-7.2zM281.9 525.4l3.6 6.8h-7.2zM282.2 524.6l3.6 6.8h-7.2zM282.5 524.8l3.6 6.8h-7.2zM282.9 523.7l3.6 6.8h-7.2zM283.2 524.4l3.6 6.8h-7.2zM283.5 524.4l3.6 6.8h-7.2zM283.9 524.3l3.6 6.8h-7.2zM284.2 524.3l3.6 6.8h-7.2zM284.5 524.5l3.6 6.8h-7.2zM284.8 525.9l3.6 6.8h-7.2zM285.1 524.4l3.6 6.8h-7.2zM285.5 524.8l3.6 6.8h-7.2zM285.8 524.2l3.6 6.8h-7.2zM286.1 524.4l3.6 6.8h-7.2zM286.4 524.9l3.6 6.8h-7.2zM286.7 525.1l3.6 6.8h-7.2zM287 525.1l3.6 6.8h-7.2zM287.3 524.4l3.6 6.8h-7.2zM287.6 524.7l3.6 6.8h-7.2zM287.9 525.1l3.6 6.8h-7.2zM288.2 524.8l3.6 6.8h-7.2zM288.5 524.4l3.6 6.8h-7.2zM288.8 525l3.6 6.8h-7.2zM289.1 524.7l3.6 6.8h-7.2zM289.3 524.9l3.6 6.8h-7.2zM289.6 526l3.6 6.8h-7.2zM289.9 524.5l3.6 6.8h-7.2zM290.2 524.6l3.6 6.8h-7.2zM290.5 524.2l3.6 6.8h-7.2zM290.8 523.9l3.6 6.8h-7.2zM291 525l3.6 6.8h-7.2zM291.3 524.3l3.6 6.8h-7.2zM291.6 524.5l3.6 6.8h-7.2zM291.8 524.6l3.6 6.8h-7.2zM292.1 524.2l3.6 6.8h-7.2zM292.4 524.1l3.6 6.8h-7.2zM292.7 525.3l3.6 6.8h-7.2zM292.9 523.8l3.6 6.8h-7.2zM293.2 524.7l3.6 6.8h-7.2zM293.4 525l3.6 6.8h-7.2zM293.7 525l3.6 6.8h-7.2zM294 524.7l3.6 6.8h-7.2zM294.2 525.2l3.6 6.8h-7.2zM294.5 524l3.6 6.8h-7.2zM294.7 524.4l3.6 6.8h-7.2zM295 525.1l3.6 6.8h-7.2zM295.2 524.2l3.6 6.8h-7.2zM295.5 524.5l3.6 6.8h-7.2zM295.7 524.6l3.6 6.8h-7.2zM296 524.1l3.6 6.8h-7.2zM296.2 524.6l3.6 6.8h-7.2zM296.5 524.7l3.6 6.8h-7.2zM296.7 524.3l3.6 6.8h-7.2zM297 525.6l3.6 6.8h-7.2zM297.2 525.2l3.6 6.8h-7.2zM297.4 524.3l3.6 6.8h-7.2zM297.7 524l3.6 6.8h-7.2zM297.9 525.5l3.6 6.8h-7.2zM298.1 524.6l3.6 6.8h-7.2zM298.4 524.9l3.6 6.8h-7.2zM298.6 524.7l3.6 6.8h-7.2zM298.8 524.3l3.6 6.8h-7.2zM299.1 523.8l3.6 6.8h-7.2zM299.3 523.7l3.6 6.8h-7.2zM299.5 524.1l3.6 6.8h-7.2zM299.8 524.3l3.6 6.8h-7.2zM300 524.5l3.6 6.8h-7.2zM300.2 525.6l3.6 6.8h-7.2zM300.4 524.4l3.6 6.8h-7.2zM300.6 525.2l3.6 6.8h-7.2zM300.9 525.2l3.6 6.8h-7.2z"/>
<path fill="#ff00ff" d="M67.2 368l3.7 3.7l-3.7 3.7l-3.7 -3.7zM97.8 368l3.7 3.7l-3.7 3.7l-3.7 -3.7zM115.7 368l3.7 3.7l-3.7 3.7l-3.7 -3.7zM128.3 368l3.7 3.7l-3.7 3.7l-3.7 -3.7zM138.2 368l3.7 3.7l-3.7 3.7l-3.7 -3.7zM146.2 368l3.7 3.7l-3.7 3.7l-3.7 -3.7zM153 368l3.7 3.7l-3.7 3.7l-3.7 -3.7zM158.9 368l3.7 3.7l-3.7 3.7l-3.7 -3.7zM164.1 368l3.7 3.7l-3.7 3.7l-3.7 -3.7zM168.8 368l3.7 3.7l-3.7 3.7l-3.7 -3.7zM173 368l3.7 3.7l-3.7 3.7l-3.7 -3.7zM176.8 368l3.7 3.7l-3.7 3.7l-3.7 -3.7zM180.3 368l3.7 3.7l-3.7 3.7l-3.7 -3.7zM183.6 368l3.7 3.7l-3.7 3.7l-3.7 -3.7zM186.6 368l3.7 3.7l-3.7 3.7l-3.7 -3.7zM189.5 368l3.7 3.7l-3.7 3.7l-3.7 -3.7zM192.2 368l3.7 3.7l-3.7 3.7l-3.7 -3.7zM194.7 368l3.7 3.7l-3.7 3.7l-3.7 -3.7zM197.1 368l3.7 3.7l-3.7 3.7l-3.7 -3.7zM199.3 368l3.7 3.7l-3.7 3.7l-3.7 -3.7zM201.5 368l3.7 3.7l-3.7 3.7l-3.7 -3.7zM203.5 368l3.7 3.7l-3.7 3.7l-3.7 -3.7zM205.5 368l3.7 3.7l-3.7 3.7l-3.7 -3.7zM207.4 368l3.7 3.7l-3.7 3.7l-3.7 -3.7zM209.2 368l3.7 3.7l-3.7 3.7l-3.7 -3.7zM210.9 368l3.7 3.7l-3.7 3.7l-3.7 -3.7zM212.6 368l3.7 3.7l-3.7 3.7l-3.7 -3.7zM214.2 368l3.7 3.7l-3.7 3.7l-3.7 -3.7zM215.7 368l3.7 3.7l-3.7 3.7l-3.7 -3.7zM217.2 368l3.7 3.7l-3.7 3.7l-3.7 -3.7zM218.6 368l3.7 3.7l-3.7 3.7l-3.7 -3.7zM220 368l3.7 3.7l-3.7 3.7l-3.7 -3.7zM221.4 368l3.7 3.7l-3.7 3.7l-3.7 -3.7zM222.7 368l3.7 3.7l-3.7 3.7l-3.7 -3.7zM224 368l3.7 3.7l-3.7 3.7l-3.7 -3.7zM225.2 368l3.7 3.7l-3.7 3.7l-3.7 -3.7zM226.5 368l3.7 3.7l-3.7 3.7l-3.7 -3.7zM227.6 368l3.7 3.7l-3.7 3.7l-3.7 -3.7zM228.8 368l3.7 3.7l-3.7 3.7l-3.7 -3.7zM229.9 368l3.7 3.7l-3.7 3.7l-3.7 -3.7zM231 368l3.7 3.7l-3.7 3.7l-3.7 -3.7zM232 368l3.7 3.7l-3.7 3.7l-3.7 -3.7zM233.1 368l3.7 3.7l-3.7 3.7l-3.7 -3.7zM234.1 368l3.7 3.7l-3.7 3.7l-3.7 -3.7zM235.1 368l3.7 3.7l-3.7 3.7l-3.7 -3.7zM236.1 368l3.7 3.7l-3.7 3.7l-3.7 -3.7zM237 368l3.7 3.7l-3.7 3.7l-3.7 -3.7zM237.9 368l3.7 3.7l-3.7 3.7l-3.7 -3.7zM238.8 368l3.7 3.7l-3.7 3.7l-3.7 -3.7zM239.7 368l3.7 3.7l-3.7 3.7l-3.7 -3.7zM240.6 368l3.7 3.7l-3.7 3.7l-3.7 -3.7zM241.5 368l3.7 3.7l-3.7 3.7l-3.7 -3.7zM242.3 368l3.7 3.7l-3.7 3.7l-3.7 -3.7zM243.1 368l3.7 3.7l-3.7 3.7l-3.7 -3.7zM243.9 368l3.7 3.7l-3.7 3.7l-3.7 -3.7zM244.7 368l3.7 3.7l-3.7 3.7l-3.7 -3.7zM245.5 368l3.7 3.7l-3.7 3.7l-3.7 -3.7zM246.3 368l3.7 3.7l-3.7 3.7l-3.7 -3.7zM247 368l3.7 3.7l-3.7 3.7l-3.7 -3.7zM247.8 368l3.7 3.7l-3.7 3.7l-3.7 -3.7zM248.5 368l3.7 3.7l-3.7 3.7l-3.7 -3.7zM249.2 368l3.7 3.7l-3.7 3.7l-3.7 -3.7zM249.9 368l3.7 3.7l-3.7 3.7l-3.7 -3.7zM250.6 368l3.7 3.7l-3.7 3.7l-3.7 -3.7zM251.3 368l3.7 3.7l-3.7 3.7l-3.7 -3.7zM252 368l3.7 3.7l-3.7 3.7l-3.7 -3.7zM252.6 368l3.7 3.7l-3.7 3.7l-3.7 -3.7zM253.3 368l3.7 3.7l-3.7 3.7l-3.7 -3.7zM253.9 368l3.7 3.7l-3.7 3.7l-3.7 -3.7zM254.6 368l3.7 3.7l-3.7 3.7l-3.7 -3.7zM255.2 368l3.7 3.7l-3.7 3.7l-3.7 -3.7zM255.8 368l3.7 3.7l-3.7 3.7l-3.7 -3.7zM256.4 368l3.7 3.7l-3.7 3.7l-3.7 -3.7zM257 368l3.7 3.7l-3.7 3.7l-3.7 -3.7zM257.6 368l3.7 3.7l-3.7 3.7l-3.7 -3.7zM258.2 368l3.7 3.7l-3.7 3.7l-3.7 -3.7zM258.8 368l3.7 3.7l-3.7 3.7l-3.7 -3.7zM259.3 368l3.7 3.7l-3.7 3.7l-3.7 -3.7zM259.9 368l3.7 3.7l-3.7 3.7l-3.7 -3.7zM260.5 368l3.7 3.7l-3.7 3.7l-3.7 -3.7zM261 368l3.7 3.7l-3.7 3.7l-3.7 -3.7zM261.5 368l3.7 3.7l-3.7 3.7l-3.7 -3.7zM262.1 368l3.7 3.7l-3.7 3.7l-3.7 -3.7zM262.6 368l3.7 3.7l-3.7 3.7l-3.7 -3.7zM263.1 368l3.7 3.7l-3.7 3.7l-3.7 -3.7zM263.6 368l3.7 3.7l-3.7 3.7l-3.7 -3.7zM264.2 368l3.7 3.7l-3.7 3.7l-3.7 -3.7zM264.7 368l3.7 3.7l-3.7 3.7l-3.7 -3.7zM265.2 368l3.7 3.7l-3.7 3.7l-3.7 -3.7zM265.7 368l3.7 3.7l-3.7 3.7l-3.7 -3.7zM266.1 368l3.7 3.7l-3.7 3.7l-3.7 -3.7zM266.6 368l3.7 3.7l-3.7 3.7l-3.7 -3.7zM267.1 368l3.7 3.7l-3.7 3.7l-3.7 -3.7zM267.6 368l3.7 3.7l-3.7 3.7l-3.7 -3.7zM268 368l3.7 3.7l-3.7 3.7l-3.7 -3.7zM268.5 368l3.7 3.7l-3.7 3.7l-3.7 -3.7zM269 368l3.7 3.7l-3.7 3.7l-3.7 -3.7zM269.4 368l3.7 3.7l-3.7 3.7l-3.7 -3.7zM269.9 368l3.7 3.7l-3.7 3.7l-3.7 -3.7zM270.3 368l3.7 3.7l-3.7 3.7l-3.7 -3.7zM270.7 368l3.7 3.7l-3.7 3.7l-3.7 -3.7zM271.2 368l3.7 3.7l-3.7 3.7l-3.7 -3.7zM271.6 368l3.7 3.7l-3.7 3.7l-3.7 -3.7zM272 368l3.7 3.7l-3.7 3.7l-3.7 -3.7zM272.5 368l3.7 3.7l-3.7 3.7l-3.7 -3.7zM272.9 368l3.7 3.7l-3.7 3.7l-3.7 -3.7zM273.3 368l3.7 3.7l-3.7 3.7l-3.7 -3.7zM273.7 368l3.7 3.7l-3.7 3.7l-3.7 -3.7zM274.1 368l3.7 3.7l-3.7 3.7l-3.7 -3.7zM274.5 368l3.7 3.7l-3.7 3.7l-3.7 -3.7zM274.9 368l3.7 3.7l-3.7 3.7l-3.7 -3.7zM275.3 368l3.7 3.7l-3.7 3.7l-3.7 -3.7zM275.7 368l3.7 3.7l-3.7 3.7l-3.7 -3.7zM276.1 368l3.7 3.7l-3.7 3.7l-3.7 -3.7zM276.5 368l3.7 3.7l-3.7 3.7l-3.7 -3.7zM276.8 368l3.7 3.7l-3.7 3.7l-3.7 -3.7zM277.2 368l3.7 3.7l-3.7 3.7l-3.7 -3.7zM277.6 368l3.7 3.7l-3.7 3.7l-3.7 -3.7zM278 368l3.7 3.7l-3.7 3.7l-3.7 -3.7zM278.3 368l3.7 3.7l-3.7 3.7l-3.7 -3.7zM278.7 368l3.7 3.7l-3.7 3.7l-3.7 -3.7zM279.1 368l3.7 3.7l-3.7 3.7l-3.7 -3.7zM279.4 368l3.7 3.7l-3.7 3.7l-3.7 -3.7zM279.8 368l3.7 3.7l-3.7 3.7l-3.7 -3.7zM280.1 368l3.7 3.7l-3.7 3.7l-3.7 -3.7zM280.5 368l3.7 3.7l-3.7 3.7l-3.7 -3.7zM280.8 368l3.7 3.7l-3.7 3.7l-3.7 -3.7zM281.2 368l3.7 3.7l-3.7 3.7l-3.7 -3.7zM281.5 368l3.7 3.7l-3.7 3.7l-3.7 -3.7zM281.9 368l3.7 3.7l-3.7 3.7l-3.7 -3.7zM282.2 368l3.7 3.7l-3.7 3.7l-3.7 -3.7zM282.5 368l3.7 3.7l-3.7 3.7l-3.7 -3.7zM282.9 368l3.7 3.7l-3.7 3.7l-3.7 -3.7zM283.2 368l3.7 3.7l-3.7 3.7l-3.7 -3.7zM283.5 368l3.7 3.7l-3.7 3.7l-3.7 -3.7zM283.9 368l3.7 3.7l-3.7 3.7l-3.7 -3.7zM284.2 368l3.7 3.7l-3.7 3.7l-3.7 -3.7zM284.5 368l3.7 3.7l-3.7 3.7l-3.7 -3.7zM284.8 368l3.7 3.7l-3.7 3.7l-3.7 -3.7zM285.1 368l3.7 3.7l-3.7 3.7l-3.7 -3.7zM285.5 368l3.7 3.7l-3.7 3.7l-3.7 -3.7zM285.8 368l3.7 3.7l-3.7 3.7l-3.7 -3.7zM286.1 368l3.7 3.7l-3.7 3.7l-3.7 -3.7zM286.4 368l3.7 3.7l-3.7 3.7l-3.7 -3.7zM286.7 368l3.7 3.7l-3.7 3.7l-3.7 -3.7zM287 368l3.7 3.7l-3.7 3.7l-3.7 -3.7zM287.3 368l3.7 3.7l-3.7 3.7l-3.7 -3.7zM287.6 368l3.7 3.7l-3.7 3.7l-3.7 -3.7zM287.9 368l3.7 3.7l-3.7 3.7l-3.7 -3.7zM288.2 368l3.7 3.7l-3.7 3.7l-3.7 -3.7zM288.5 368l3.7 3.7l-3.7 3.7l-3.7 -3.7zM288.8 368l3.7 3.7l-3.7 3.7l-3.7 -3.7zM289.1 368l3.7 3.7l-3.7 3.7l-3.7 -3.7zM289.3 368l3.7 3.7l-3.7 3.7l-3.7 -3.7zM289.6 368l3.7 3.7l-3.7 3.7l-3.7 -3.7zM289.9 368l3.7 3.7l-3.7 3.7l-3.7 -3.7zM290.2 368l3.7 3.7l-3.7 3.7l-3.7 -3.7zM290.5 368l3.7 3.7l-3.7 3.7l-3.7 -3.7zM290.8 368l3.7 3.7l-3.7 3.7l-3.7 -3.7zM291 368l3.7 3.7l-3.7 3.7l-3.7 -3.7zM291.3 368l3.7 3.7l-3.7 3.7l-3.7 -3.7zM291.6 368l3.7 3.7l-3.7 3.7l-3.7 -3.7zM291.8 368l3.7 3.7l-3.7 3.7l-3.7 -3.7zM292.1 368l3.7 3.7l-3.7 3.7l-3.7 -3.7zM292.4 368l3.7 3.7l-3.7 3.7l-3.7 -3.7zM292.7 368l3.7 3.7l-3.7 3.7l-3.7 -3.7zM292.9 368l3.7 3.7l-3.7 3.7l-3.7 -3.7zM293.2 368l3.7 3.7l-3.7 3.7l-3.7 -3.7zM293.4 368l3.7 3.7l-3.7 3.7l-3.7 -3.7zM293.7 368l3.7 3.7l-3.7 3.7l-3.7 -3.7zM294 368l3.7 3.7l-3.7 3.7l-3.7 -3.7zM294.2 368l3.7 3.7l-3.7 3.7l-3.7 -3.7zM294.5 368l3.7 3.7l-3.7 3.7l-3.7 -3.7zM294.7 368l3.7 3.7l-3.7 3.7l-3.7 -3.7zM295 368l3.7 3.7l-3.7 3.7l-3.7 -3.7zM295.2 368l3.7 3.7l-3.7 3.7l-3.7 -3.7zM295.5 368l3.7 3.7l-3.7 3.7l-3.7 -3.7zM295.7 368l3.7 3.7l-3.7 3.7l-3.7 -3.7zM296 368l3.7 3.7l-3.7 3.7l-3.7 -3.7zM296.2 368l3.7 3.7l-3.7 3.7l-3.7 -3.7zM296.5 368l3.7 3.7l-3.7 3.7l-3.7 -3.7zM296.7 368l3.7 3.7l-3.7 3.7l-3.7 -3.7zM297 368l3.7 3.7l-3.7 3.7l-3.7 -3.7zM297.2 368l3.7 3.7l-3.7 3.7l-3.7 -3.7zM297.4 368l3.7 3.7l-3.7 3.7l-3.7 -3.7zM297.7 368l3.7 3.7l-3.7 3.7l-3.7 -3.7zM297.9 368l3.7 3.7l-3.7 3.7l-3.7 -3.7zM298.1 368l3.7 3.7l-3.7 3.7l-3.7 -3.7zM298.4 368l3.7 3.7l-3.7 3.7l-3.7 -3.7zM298.6 368l3.7 3.7l-3.7 3.7l-3.7 -3.7zM298.8 368l3.7 3.7l-3.7 3.7l-3.7 -3.7zM299.1 368l3.7 3.7l-3.7 3.7l-3.7 -3.7zM299.3 368l3.7 3.7l-3.7 3.7l-3.7 -3.7zM299.5 368l3.7 3.7l-3.7 3.7l-3.7 -3.7zM299.8 368l3.7 3.7l-3.7 3.7l-3.7 -3.7zM300 368l3.7 3.7l-3.7 3.7l-3.7 -3.7zM300.2 368l3.7 3.7l-3.7 3.7l-3.7 -3.7zM300.4 368l3.7 3.7l-3.7 3.7l-3.7 -3.7zM300.6 368l3.7 3.7l-3.7 3.7l-3.7 -3.7zM300.9 368l3.7 3.7l-3.7 3.7l-3.7 -3.7z"/>
<path fill="#808000" d="M67.2 354.6l3 1.7v3.5l-3 1.7l-3 -1.7v-3.5zM97.8 354.6l3 1.7v3.5l-3 1.7l-3 -1.7v-3.5zM115.7 354.6l3 1.7v3.5l-3 1.7l-3 -1.7v-3.5zM128.3 354.6l3 1.7v3.5l-3 1.7l-3 -1.7v-3.5zM138.2 354.6l3 1.7v3.5l-3 1.7l-3 -1.7v-3.5zM146.2 354.6l3 1.7v3.5l-3 1.7l-3 -1.7v-3.5zM153 354.6l3 1.7v3.5l-3 1.7l-3 -1.7v-3.5zM158.9 354.6l3 1.7v3.5l-3 1.7l-3 -1.7v-3.5zM164.1 354.6l3 1.7v3.5l-3 1.7l-3 -1.7v-3.5zM168.8 354.6l3 1.7v3.5l-3 1.7l-3 -1.7v-3.5zM173 354.6l3 1.7v3.5l-3 1.7l-3 -1.7v-3.5zM176.8 354.6l3 1.7v3.5l-3 1.7l-3 -1.7v-3.5zM180.3 354.6l3 1.7v3.5l-3 1.7l-3 -1.7v-3.5zM183.6 354.6l3 1.7v3.5l-3 1.7l-3 -1.7v-3.5zM186.6 354.6l3 1.7v3.5l-3 1.7l-3 -1.7v-3.5zM189.5 354.6l3 1.7v3.5l-3 1.7l-3 -1.7v-3.5zM192.2 354.6l3 1.7v3.5l-3 1.7l-3 -1.7v-3.5zM194.7 354.6l3 1.7v3.5l-3 1.7l-3 -1.7v-3.5zM197.1 354.6l3 1.7v3.5l-3 1.7l-3 -1.7v-3.5zM199.3 354.6l3 1.7v3.5l-3 1.7l-3 -1.7v-3.5zM201.5 354.6l3 1.7v3.5l-3 1.7l-3 -1.7v-3.5zM203.5 354.6l3 1.7v3.5l-3 1.7l-3 -1.7v-3.5zM205.5 354.6l3 1.7v3.5l-3 1.7l-3 -1.7v-3.5zM207.4 354.6l3 1.7v3.5l-3 1.7l-3 -1.7v-3.5zM209.2 354.6l3 1.7v3.5l-3 1.7l-3 -1.7v-3.5zM210.9 354.6l3 1.7v3.5l-3 1.7l-3 -1.7v-3.5zM212.6 354.6l3 1.7v3.5l-3 1.7l-3 -1.7v-3.5zM214.2 354.6l3 1.7v3.5l-3 1.7l-3 -1.7v-3.5zM215.7 354.6l3 1.7v3.5l-3 1.7l-3 -1.7v-3.5zM217.2 354.6l3 1.7v3.5l-3 1.7l-3 -1.7v-3.5zM218.6 354.6l3 1.7v3.5l-3 1.7l-3 -1.7v-3.5zM220 354.6l3 1.7v3.5l-3 1.7l-3 -1.7v-3.5zM221.4 354.6l3 1.7v3.5l-3 1.7l-3 -1.7v-3.5zM222.7 354.6l3 1.7v3.5l-3 1.7l-3 -1.7v-3.5zM224 354.6l3 1.7v3.5l-3 1.7l-3 -1.7v-3.5zM225.2 354.6l3 1.7v3.5l-3 1.7l-3 -1.7v-3.5zM226.5 354.6l3 1.7v3.5l-3 1.7l-3 -1.7v-3.5zM227.6 354.6l3 1.7v3.5l-3 1.7l-3 -1.7v-3.5zM228.8 354.6l3 1.7v3.5l-3 1.7l-3 -1.7v-3.5zM229.9 354.6l3 1.7v3.5l-3 1.7l-3 -1.7v-3.5zM231 354.6l3 1.7v3.5l-3 1.7l-3 -1.7v-3.5zM232 354.6l3 1.7v3.5l-3 1.7l-3 -1.7v-3.5zM233.1 354.6l3 1.7v3.5l-3 1.7l-3 -1.7v-3.5zM234.1 354.6l3 1.7v3.5l-3 1.7l-3 -1.7v-3.5zM235.1 354.6l3 1.7v3.5l-3 1.7l-3 -1.7v-3.5zM236.1 354.6l3 1.7v3.5l-3 1.7l-3 -1.7v-3.5zM237 354.6l3 1.7v3.5l-3 1.7l-3 -1.7v-3.5zM237.9 354.6l3 1.7v3.5l-3 1.7l-3 -1.7v-3.5zM238.8 354.6l3 1.7v3.5l-3 1.7l-3 -1.7v-3.5zM239.7 354.6l3 1.7v3.5l-3 1.7l-3 -1.7v-3.5zM240.6 354.6l3 1.7v3.5l-3 1.7l-3 -1.7v-3.5zM241.5 354.6l3 1.7v3.5l-3 1.7l-3 -1.7v-3.5zM242.3 354.6l3 1.7v3.5l-3 1.7l-3 -1.7v-3.5zM243.1 354.6l3 1.7v3.5l-3 1.7l-3 -1.7v-3.5zM243.9 354.6l3 1.7v3.5l-3 1.7l-3 -1.7v-3.5zM244.7 354.6l3 1.7v3.5l-3 1.7l-3 -1.7v-3.5zM245.5 354.6l3 1.7v3.5l-3 1.7l-3 -1.7v-3.5zM246.3 354.6l3 1.7v3.5l-3 1.7l-3 -1.7v-3.5zM247 354.6l3 1.7v3.5l-3 1.7l-3 -1.7v-3.5zM247.8 354.6l3 1.7v3.5l-3 1.7l-3 -1.7v-3.5zM248.5 354.6l3 1.7v3.5l-3 1.7l-3 -1.7v-3.5zM249.2 354.6l3 1.7v3.5l-3 1.7l-3 -1.7v-3.5zM249.9 354.6l3 1.7v3.5l-3 1.7l-3 -1.7v-3.5zM250.6 354.6l3 1.7v3.5l-3 1.7l-3 -1.7v-3.5zM251.3 354.6l3 1.7v3.5l-3 1.7l-3 -1.7v-3.5zM252 354.6l3 1.7v3.5l-3 1.7l-3 -1.7v-3.5zM252.6 354.6l3 1.7v3.5l-3 1.7l-3 -1.7v-3.5zM253.3 354.6l3 1.7v3.5l-3 1.7l-3 -1.7v-3.5zM253.9 354.6l3 1.7v3.5l-3 1.7l-3 -1.7v-3.5zM254.6 354.6l3 1.7v3.5l-3 1.7l-3 -1.7v-3.5zM255.2 354.6l3 1.7v3.5l-3 1.7l-3 -1.7v-3.5zM255.8 354.6l3 1.7v3.5l-3 1.7l-3 -1.7v-3.5zM256.4 354.6l3 1.7v3.5l-3 1.7l-3 -1.7v-3.5zM257 354.6l3 1.7v3.5l-3 1.7l-3 -1.7v-3.5zM257.6 354.6l3 1.7v3.5l-3 1.7l-3 -1.7v-3.5zM258.2 354.6l3 1.7v3.5l-3 1.7l-3 -1.7v-3.5zM258.8 354.6l3 1.7v3.5l-3 1.7l-3 -1.7v-3.5zM259.3 354.6l3 1.7v3.5l-3 1.7l-3 -1.7v-3.5zM259.9 354.6l3 1.7v3.5l-3 1.7l-3 -1.7v-3.5zM260.5 354.6l3 1.7v3.5l-3 1.7l-3 -1.7v-3.5zM261 354.6l3 1.7v3.5l-3 1.7l-3 -1.7v-3.5zM261.5 354.6l3 1.7v3.5l-3 1.7l-3 -1.7v-3.5zM262.1 354.6l3 1.7v3.5l-3 1.7l-3 -1.7v-3.5zM262.6 354.6l3 1.7v3.5l-3 1.7l-3 -1.7v-3.5zM263.1 354.6l3 1.7v3.5l-3 1.7l-3 -1.7v-3.5zM263.6 354.6l3 1.7v3.5l-3 1.7l-3 -1.7v-3.5zM264.2 354.6l3 1.7v3.5l-3 1.7l-3 -1.7v-3.5zM264.7 354.6l3 1.7v3.5l-3 1.7l-3 -1.7v-3.5zM265.2 354.6l3 1.7v3.5l-3 1.7l-3 -1.7v-3.5zM265.7 354.6l3 1.7v3.5l-3 1.7l-3 -1.7v-3.5zM266.1 354.6l3 1.7v3.5l-3 1.7l-3 -1.7v-3.5zM266.6 354.6l3 1.7v3.5l-3 1.7l-3 -1.7v-3.5zM267.1 354.6l3 1.7v3.5l-3 1.7l-3 -1.7v-3.5zM267.6 354.6l3 1.7v3.5l-3 1.7l-3 -1.7v-3.5zM268 354.6l3 1.7v3.5l-3 1.7l-3 -1.7v-3.5zM268.5 354.6l3 1.7v3.5l-3 1.7l-3 -1.7v-3.5zM269 354.6l3 1.7v3.5l-3 1.7l-3 -1.7v-3.5zM269.4 354.6l3 1.7v3.5l-3 1.7l-3 -1.7v-3.5zM269.9 354.6l3 1.7v3.5l-3 1.7l-3 -1.7v-3.5zM270.3 354.6l3 1.7v3.5l-3 1.7l-3 -1.7v-3.5zM270.7 354.6l3 1.7v3.5l-3 1.7l-3 -1.7v-3.5zM271.2 354.6l3 1.7v3.5l-3 1.7l-3 -1.7v-3.5zM271.6 354.6l3 1.7v3.5l-3 1.7l-3 -1.7v-3.5zM272 354.6l3 1.7v3.5l-3 1.7l-3 -1.7v-3.5zM272.5 354.6l3 1.7v3.5l-3 1.7l-3 -1.7v-3.5zM272.9 354.6l3 1.7v3.5l-3 1.7l-3 -1.7v-3.5zM273.3 354.6l3 1.7v3.5l-3 1.7l-3 -1.7v-3.5zM273.7 354.6l3 1.7v3.5l-3 1.7l-3 -1.7v-3.5zM274.1 354.6l3 1.7v3.5l-3 1.7l-3 -1.7v-3.5zM274.5 354.6l3 1.7v3.5l-3 1.7l-3 -1.7v-3.5zM274.9 354.6l3 1.7v3.5l-3 1.7l-3 -1.7v-3.5zM275.3 354.6l3 1.7v3.5l-3 1.7l-3 -1.7v-3.5zM275.7 354.6l3 1.7v3.5l-3 1.7l-3 -1.7v-3.5zM276.1 354.6l3 1.7v3.5l-3 1.7l-3 -1.7v-3.5zM276.5 354.6l3 1.7v3.5l-3 1.7l-3 -1.7v-3.5zM276.8 354.6l3 1.7v3.5l-3 1.7l-3 -1.7v-3.5zM277.2 354.6l3 1.7v3.5l-3 1.7l-3 -1.7v-3.5zM277.6 354.6l3 1.7v3.5l-3 1.7l-3 -1.7v-3.5zM278 354.6l3 1.7v3.5l-3 1.7l-3 -1.7v-3.5zM278.3 354.6l3 1.7v3.5l-3 1.7l-3 -1.7v-3.5zM278.7 354.6l3 1.7v3.5l-3 1.7l-3 -1.7v-3.5zM279.1 354.6l3 1.7v3.5l-3 1.7l-3 -1.7v-3.5zM279.4 354.6l3 1.7v3.5l-3 1.7l-3 -1.7v-3.5zM279.8 354.6l3 1.7v3.5l-3 1.7l-3 -1.7v-3.5zM280.1 354.6l3 1.7v3.5l-3 1.7l-3 -1.7v-3.5zM280.5 354.6l3 1.7v3.5l-3 1.7l-3 -1.7v-3.5zM280.8 354.6l3 1.7v3.5l-3 1.7l-3 -1.7v-3.5zM281.2 354.6l3 1.7v3.5l-3 1.7l-3 -1.7v-3.5zM281.5 354.6l3 1.7v3.5l-3 1.7l-3 -1.7v-3.5zM281.9 354.6l3 1.7v3.5l-3 1.7l-3 -1.7v-3.5zM282.2 354.6l3 1.7v3.5l-3 1.7l-3 -1.7v-3.5zM282.5 354.6l3 1.7v3.5l-3 1.7l-3 -1.7v-3.5zM282.9 354.6l3 1.7v3.5l-3 1.7l-3 -1.7v-3.5zM283.2 354.6l3 1.7v3.5l-3 1.7l-3 -1.7v-3.5zM283.5 354.6l3 1.7v3.5l-3 1.7l-3 -1.7v-3.5zM283.9 354.6l3 1.7v3.5l-3 1.7l-3 -1.7v-3.5zM284.2 354.6l3 1.7v3.5l-3 1.7l-3 -1.7v-3.5zM284.5 354.6l3 1.7v3.5l-3 1.7l-3 -1.7v-3.5zM284.8 354.6l3 1.7v3.5l-3 1.7l-3 -1.7v-3.5zM285.1 354.6l3 1.7v3.5l-3 1.7l-3 -1.7v-3.5zM285.5 354.6l3 1.7v3.5l-3 1.7l-3 -1.7v-3.5zM285.8 354.6l3 1.7v3.5l-3 1.7l-3 -1.7v-3.5zM286.1 354.6l3 1.7v3.5l-3 1.7l-3 -1.7v-3.5zM286.4 354.6l3 1.7v3.5l-3 1.7l-3 -1.7v-3.5zM286.7 354.6l3 1.7v3.5l-3 1.7l-3 -1.7v-3.5zM287 354.6l3 1.7v3.5l-3 1.7l-3 -1.7v-3.5zM287.3 354.6l3 1.7v3.5l-3 1.7l-3 -1.7v-3.5zM287.6 354.6l3 1.7v3.5l-3 1.7l-3 -1.7v-3.5zM287.9 354.6l3 1.7v3.5l-3 1.7l-3 -1.7v-3.5zM288.2 354.6l3 1.7v3.5l-3 1.7l-3 -1.7v-3.5zM288.5 354.6l3 1.7v3.5l-3 1.7l-3 -1.7v-3.5zM288.8 354.6l3 1.7v3.5l-3 1.7l-3 -1.7v-3.5zM289.1 354.6l3 1.7v3.5l-3 1.7l-3 -1.7v-3.5zM289.3 354.6l3 1.7v3.5l-3 1.7l-3 -1.7v-3.5zM289.6 354.6l3 1.7v3.5l-3 1.7l-3 -1.7v-3.5zM289.9 354.6l3 1.7v3.5l-3 1.7l-3 -1.7v-3.5zM290.2 354.6l3 1.7v3.5l-3 1.7l-3 -1.7v-3.5zM290.5 354.6l3 1.7v3.5l-3 1.7l-3 -1.7v-3.5zM290.8 354.6l3 1.7v3.5l-3 1.7l-3 -1.7v-3.5zM291 354.6l3 1.7v3.5l-3 1.7l-3 -1.7v-3.5zM291.3 354.6l3 1.7v3.5l-3 1.7l-3 -1.7v-3.5zM291.6 354.6l3 1.7v3.5l-3 1.7l-3 -1.7v-3.5zM291.8 354.6l3 1.7v3.5l-3 1.7l-3 -1.7v-3.5zM292.1 354.6l3 1.7v3.5l-3 1.7l-3 -1.7v-3.5zM292.4 354.6l3 1.7v3.5l-3 1.7l-3 -1.7v-3.5zM292.7 354.6l3 1.7v3.5l-3 1.7l-3 -1.7v-3.5zM292.9 354.6l3 1.7v3.5l-3 1.7l-3 -1.7v-3.5zM293.2 354.6l3 1.7v3.5l-3 1.7l-3 -1.7v-3.5zM293.4 354.6l3 1.7v3.5l-3 1.7l-3 -1.7v-3.5zM293.7 354.6l3 1.7v3.5l-3 1.7l-3 -1.7v-3.5zM294 354.6l3 1.7v3.5l-3 1.7l-3 -1.7v-3.5zM294.2 354.6l3 1.7v3.5l-3 1.7l-3 -1.7v-3.5zM294.5 354.6l3 1.7v3.5l-3 1.7l-3 -1.7v-3.5zM294.7 354.6l3 1.7v3.5l-3 1.7l-3 -1.7v-3.5zM295 354.6l3 1.7v3.5l-3 1.7l-3 -1.7v-3.5zM295.2 354.6l3 1.7v3.5l-3 1.7l-3 -1.7v-3.5zM295.5 354.6l3 1.7v3.5l-3 1.7l-3 -1.7v-3.5zM295.7 354.6l3 1.7v3.5l-3 1.7l-3 -1.7v-3.5zM296 354.6l3 1.7v3.5l-3 1.7l-3 -1.7v-3.5zM296.2 354.6l3 1.7v3.5l-3 1.7l-3 -1.7v-3.5zM296.5 354.6l3 1.7v3.5l-3 1.7l-3 -1.7v-3.5zM296.7 354.6l3 1.7v3.5l-3 1.7l-3 -1.7v-3.5zM297 354.6l3 1.7v3.5l-3 1.7l-3 -1.7v-3.5zM297.2 354.6l3 1.7v3.5l-3 1.7l-3 -1.7v-3.5zM297.4 354.6l3 1.7v3.5l-3 1.7l-3 -1.7v-3.5zM297.7 354.6l3 1.7v3.5l-3 1.7l-3 -1.7v-3.5zM297.9 354.6l3 1.7v3.5l-3 1.7l-3 -1.7v-3.5zM298.1 354.6l3 1.7v3.5l-3 1.7l-3 -1.7v-3.5zM298.4 354.6l3 1.7v3.5l-3 1.7l-3 -1.7v-3.5zM298.6 354.6l3 1.7v3.5l-3 1.7l-3 -1.7v-3.5zM298.8 354.6l3 1.7v3.5l-3 1.7l-3 -1.7v-3.5zM299.1 354.6l3 1.7v3.5l-3 1.7l-3 -1.7v-3.5zM299.3 354.6l3 1.7v3.5l-3 1.7l-3 -1.7v-3.5zM299.5 354.6l3 1.7v3.5l-3 1.7l-3 -1.7v-3.5zM299.8 354.6l3 1.7v3.5l-3 1.7l-3 -1.7v-3.5zM300 354.6l3 1.7v3.5l-3 1.7l-3 -1.7v-3.5zM300.2 354.6l3 1.7v3.5l-3 1.7l-3 -1.7v-3.5zM300.4 354.6l3 1.7v3.5l-3 1.7l-3 -1.7v-3.5zM300.6 354.6l3 1.7v3.5l-3 1.7l-3 -1.7v-3.5zM300.9 354.6l3 1.7v3.5l-3 1.7l-3 -1.7v-3.5z"/>
</g>
<path d="M41.6 529.5h4M41.6 441.5h4M41.6 352.5h4M41.6 485.5h2.4M41.6 396.5h2.4M44.5 564.8v-2.4M51.5 564.8v-2.4M57.5 564.8v-2.4M62.5 564.8v-2.4M67.5 564.8v-4M97.5 564.8v-2.4M115.5 564.8v-2.4M128.5 564.8v-2.4M138.5 564.8v-2.4M146.5 564.8v-2.4M153.5 564.8v-2.4M158.5 564.8v-2.4M164.5 564.8v-2.4M168.5 564.8v-4M199.5 564.8v-2.4M217.5 564.8v-2.4M229.5 564.8v-2.4M239.5 564.8v-2.4M247.5 564.8v-2.4M254.5 564.8v-2.4M260.5 564.8v-2.4M265.5 564.8v-2.4M270.5 564.8v-4M300.5 564.8v-2.4M318.5 564.8v-2.4" stroke="#000" stroke-width="1" fill="none"/>
<rect x="41.6" y="318.1" width="279.7" height="246.7" fill="none" stroke="#000" stroke-width="1.3"/>
<text transform="translate(37.1,533.3) scale(0.93,1)" text-anchor="end" class="tl">0.0</text>
<text transform="translate(37.1,445.1) scale(0.93,1)" text-anchor="end" class="tl">0.5</text>
<text transform="translate(37.1,356.9) scale(0.93,1)" text-anchor="end" class="tl">1.0</text>
<text transform="translate(67.5,583.3) scale(0.87,1)" text-anchor="middle" class="tl">10<tspan dy="-5.6" font-size="7.8">3</tspan></text>
<text transform="translate(169.1,583.3) scale(0.87,1)" text-anchor="middle" class="tl">10<tspan dy="-5.6" font-size="7.8">4</tspan></text>
<text transform="translate(270.6,583.3) scale(0.87,1)" text-anchor="middle" class="tl">10<tspan dy="-5.6" font-size="7.8">5</tspan></text>
<rect x="163.2" y="397.4" width="147.5" height="93.5" fill="#fff" stroke="#555" stroke-width="0.9"/>
<path fill="#000" d="M175.2 404.2h4.8v4.8h-4.8z"/>
<text transform="translate(194.1,410.6) scale(0.95,1)" class="lg">RPET</text>
<path fill="#ff0000" d="M174.7 422.4a2.9 2.9 0 1 0 5.8 0a2.9 2.9 0 1 0 -5.8 0z"/>
<text transform="translate(194.1,426.4) scale(0.95,1)" class="lg">RPET+ Nd<tspan dy="3.4" font-size="9">2</tspan><tspan dy="-3.4">O</tspan><tspan dy="3.4" font-size="9">3</tspan><tspan dy="-3.4"> 1wt.%</tspan></text>
<path fill="#00ff00" d="M177.6 437.7l3.2 5.8h-6.4z"/>
<text transform="translate(194.1,445.2) scale(0.95,1)" class="lg">RPET+ Nd<tspan dy="3.4" font-size="9">2</tspan><tspan dy="-3.4">O</tspan><tspan dy="3.4" font-size="9">3</tspan><tspan dy="-3.4"> 2wt.%</tspan></text>
<path fill="#ff00ff" d="M177.6 457.2l3.2 3.2l-3.2 3.2l-3.2 -3.2z"/>
<text transform="translate(194.1,464.4) scale(0.95,1)" class="lg">RPET+ Nd<tspan dy="3.4" font-size="9">2</tspan><tspan dy="-3.4">O</tspan><tspan dy="3.4" font-size="9">3</tspan><tspan dy="-3.4"> 4wt.%</tspan></text>
<path fill="#808000" d="M177.6 475.9l2.8 1.6v3.1l-2.8 1.6l-2.8 -1.6v-3.1z"/>
<text transform="translate(194.1,483.0) scale(0.95,1)" class="lg">RPET+ Nd<tspan dy="3.4" font-size="9">2</tspan><tspan dy="-3.4">O</tspan><tspan dy="3.4" font-size="9">3</tspan><tspan dy="-3.4"> 8wt.%</tspan></text>
<text transform="translate(265.2,338.9) scale(0.84,1)" class="tp">100</text>
<text transform="translate(289.9,333.5) scale(0.92,1)" class="tpo">O</text>
<text transform="translate(296.6,338.9) scale(0.84,1)" class="tp">C</text>
<text transform="translate(59.0,335.5)" class="pl">(c)</text>
<text transform="translate(164.1,605.2)" class="ax">f (Hz)</text>
<g clip-path="url(#cd)">
<path fill="#000" d="M406.6 436.8h5.4v5.4h-5.4zM441.6 435.8h5.4v5.4h-5.4zM462 440h5.4v5.4h-5.4zM476.6 437.1h5.4v5.4h-5.4zM487.8 437h5.4v5.4h-5.4zM497 437h5.4v5.4h-5.4zM504.8 436.9h5.4v5.4h-5.4zM511.5 436.8h5.4v5.4h-5.4zM517.5 437.2h5.4v5.4h-5.4zM522.8 434.7h5.4v5.4h-5.4zM527.6 437.5h5.4v5.4h-5.4zM532 437.2h5.4v5.4h-5.4zM536 439.1h5.4v5.4h-5.4zM539.8 433.4h5.4v5.4h-5.4zM543.3 437.5h5.4v5.4h-5.4zM546.5 436.3h5.4v5.4h-5.4zM549.6 438.6h5.4v5.4h-5.4zM552.5 438.4h5.4v5.4h-5.4zM555.2 437.3h5.4v5.4h-5.4zM557.8 438.1h5.4v5.4h-5.4zM560.2 438.1h5.4v5.4h-5.4zM562.6 440.8h5.4v5.4h-5.4zM564.8 437.6h5.4v5.4h-5.4zM567 438.3h5.4v5.4h-5.4zM569 433.9h5.4v5.4h-5.4zM571 436.1h5.4v5.4h-5.4zM572.9 439h5.4v5.4h-5.4zM574.8 439.9h5.4v5.4h-5.4zM576.5 433.8h5.4v5.4h-5.4zM578.2 436.5h5.4v5.4h-5.4zM579.9 435.3h5.4v5.4h-5.4zM581.5 437h5.4v5.4h-5.4zM583.1 434.3h5.4v5.4h-5.4zM584.6 434.6h5.4v5.4h-5.4zM586 436.4h5.4v5.4h-5.4zM587.4 437.3h5.4v5.4h-5.4zM588.8 441.8h5.4v5.4h-5.4zM590.2 432.4h5.4v5.4h-5.4zM591.5 431.9h5.4v5.4h-5.4zM592.8 440.7h5.4v5.4h-5.4zM594 439.2h5.4v5.4h-5.4zM595.2 435.8h5.4v5.4h-5.4zM596.4 430.9h5.4v5.4h-5.4zM597.6 442h5.4v5.4h-5.4zM598.7 431.3h5.4v5.4h-5.4zM599.8 442.4h5.4v5.4h-5.4zM600.9 438h5.4v5.4h-5.4zM602 436h5.4v5.4h-5.4zM603 435.9h5.4v5.4h-5.4zM604 440.8h5.4v5.4h-5.4zM605 436.8h5.4v5.4h-5.4zM606 428h5.4v5.4h-5.4zM607 433.2h5.4v5.4h-5.4zM607.9 425.9h5.4v5.4h-5.4zM608.8 438.7h5.4v5.4h-5.4zM609.7 441.3h5.4v5.4h-5.4zM610.6 441.9h5.4v5.4h-5.4zM611.5 430h5.4v5.4h-5.4zM612.4 447.4h5.4v5.4h-5.4zM613.2 451.3h5.4v5.4h-5.4zM614.1 435.8h5.4v5.4h-5.4zM614.9 420.7h5.4v5.4h-5.4zM615.7 429.7h5.4v5.4h-5.4zM616.5 445.1h5.4v5.4h-5.4zM617.3 453.3h5.4v5.4h-5.4zM618 432.4h5.4v5.4h-5.4zM618.8 421.9h5.4v5.4h-5.4zM619.5 428.9h5.4v5.4h-5.4zM620.3 452h5.4v5.4h-5.4zM621 436.7h5.4v5.4h-5.4zM621.7 425.4h5.4v5.4h-5.4zM622.4 419.9h5.4v5.4h-5.4zM623.1 441.8h5.4v5.4h-5.4zM623.8 443.1h5.4v5.4h-5.4zM624.5 432.8h5.4v5.4h-5.4zM625.2 435.1h5.4v5.4h-5.4zM625.8 437.3h5.4v5.4h-5.4zM626.5 433.9h5.4v5.4h-5.4zM627.1 432.3h5.4v5.4h-5.4zM627.7 432.1h5.4v5.4h-5.4zM628.4 431.9h5.4v5.4h-5.4zM629 446.6h5.4v5.4h-5.4zM629.6 439.9h5.4v5.4h-5.4zM630.2 444.9h5.4v5.4h-5.4zM630.8 451.4h5.4v5.4h-5.4zM631.4 418.3h5.4v5.4h-5.4zM632 436.1h5.4v5.4h-5.4zM632.5 444.4h5.4v5.4h-5.4zM633.1 435h5.4v5.4h-5.4zM633.7 431.9h5.4v5.4h-5.4zM634.2 439.9h5.4v5.4h-5.4zM634.8 432.4h5.4v5.4h-5.4zM635.3 429.9h5.4v5.4h-5.4zM635.9 434.2h5.4v5.4h-5.4zM636.4 437.1h5.4v5.4h-5.4zM636.9 436.8h5.4v5.4h-5.4zM637.5 443.9h5.4v5.4h-5.4zM638 436.8h5.4v5.4h-5.4zM638.5 432.9h5.4v5.4h-5.4zM639 461.1h5.4v5.4h-5.4zM639.5 434.8h5.4v5.4h-5.4zM640 434.5h5.4v5.4h-5.4zM640.5 435.5h5.4v5.4h-5.4zM641 431.1h5.4v5.4h-5.4zM641.5 424h5.4v5.4h-5.4zM641.9 438.2h5.4v5.4h-5.4zM642.4 448.4h5.4v5.4h-5.4zM642.9 422.1h5.4v5.4h-5.4zM643.3 430.6h5.4v5.4h-5.4zM643.8 440.1h5.4v5.4h-5.4zM644.3 431.2h5.4v5.4h-5.4zM644.7 440.9h5.4v5.4h-5.4zM645.2 436.3h5.4v5.4h-5.4zM645.6 427.8h5.4v5.4h-5.4zM646.1 434.9h5.4v5.4h-5.4zM646.5 432.5h5.4v5.4h-5.4zM646.9 441h5.4v5.4h-5.4zM647.4 416.3h5.4v5.4h-5.4zM647.8 440h5.4v5.4h-5.4zM648.2 447.3h5.4v5.4h-5.4zM648.6 437.9h5.4v5.4h-5.4zM649 438.6h5.4v5.4h-5.4zM649.4 432.4h5.4v5.4h-5.4zM649.9 439.4h5.4v5.4h-5.4zM650.3 435.5h5.4v5.4h-5.4zM650.7 426.4h5.4v5.4h-5.4zM651.1 427.2h5.4v5.4h-5.4zM651.5 418.1h5.4v5.4h-5.4zM651.9 440.1h5.4v5.4h-5.4zM652.2 438.1h5.4v5.4h-5.4zM652.6 445.4h5.4v5.4h-5.4zM653 438.7h5.4v5.4h-5.4zM653.4 442.2h5.4v5.4h-5.4zM653.8 425.9h5.4v5.4h-5.4zM654.1 421.7h5.4v5.4h-5.4zM654.5 432.1h5.4v5.4h-5.4zM654.9 434h5.4v5.4h-5.4zM655.3 439.6h5.4v5.4h-5.4zM655.6 435.6h5.4v5.4h-5.4zM656 435.3h5.4v5.4h-5.4zM656.3 437h5.4v5.4h-5.4zM656.7 438.7h5.4v5.4h-5.4zM657.1 438.3h5.4v5.4h-5.4zM657.4 439.2h5.4v5.4h-5.4zM657.8 432.6h5.4v5.4h-5.4zM658.1 435.9h5.4v5.4h-5.4zM658.4 424.9h5.4v5.4h-5.4zM658.8 427.7h5.4v5.4h-5.4zM659.1 434.5h5.4v5.4h-5.4zM659.5 440.1h5.4v5.4h-5.4zM659.8 430.6h5.4v5.4h-5.4zM660.1 425.4h5.4v5.4h-5.4zM660.5 444.3h5.4v5.4h-5.4zM660.8 430h5.4v5.4h-5.4zM661.1 422.9h5.4v5.4h-5.4zM661.4 428.9h5.4v5.4h-5.4zM661.8 427.2h5.4v5.4h-5.4zM662.1 417.3h5.4v5.4h-5.4zM662.4 433.6h5.4v5.4h-5.4zM662.7 450.2h5.4v5.4h-5.4zM663 430.7h5.4v5.4h-5.4zM663.3 430.1h5.4v5.4h-5.4zM663.7 445.8h5.4v5.4h-5.4zM664 437.4h5.4v5.4h-5.4zM664.3 435.8h5.4v5.4h-5.4zM664.6 447.6h5.4v5.4h-5.4zM664.9 427.2h5.4v5.4h-5.4zM665.2 436.2h5.4v5.4h-5.4zM665.5 440.7h5.4v5.4h-5.4zM665.8 438.3h5.4v5.4h-5.4zM666.1 427.3h5.4v5.4h-5.4zM666.4 429.2h5.4v5.4h-5.4zM666.7 450.9h5.4v5.4h-5.4zM667 435.9h5.4v5.4h-5.4zM667.2 434.6h5.4v5.4h-5.4zM667.5 445.3h5.4v5.4h-5.4zM667.8 422.3h5.4v5.4h-5.4zM668.1 436.2h5.4v5.4h-5.4zM668.4 422.6h5.4v5.4h-5.4zM668.7 447.8h5.4v5.4h-5.4zM668.9 428.7h5.4v5.4h-5.4zM669.2 437.6h5.4v5.4h-5.4zM669.5 429.3h5.4v5.4h-5.4zM669.8 437.7h5.4v5.4h-5.4zM670 439.2h5.4v5.4h-5.4zM670.3 436.7h5.4v5.4h-5.4zM670.6 434.1h5.4v5.4h-5.4zM670.9 438.7h5.4v5.4h-5.4zM671.1 434.7h5.4v5.4h-5.4zM671.4 432.6h5.4v5.4h-5.4zM671.7 441.7h5.4v5.4h-5.4zM671.9 443.5h5.4v5.4h-5.4zM672.2 425.9h5.4v5.4h-5.4zM672.4 428.6h5.4v5.4h-5.4zM672.7 430.5h5.4v5.4h-5.4zM673 439h5.4v5.4h-5.4zM673.2 425.4h5.4v5.4h-5.4zM673.5 449.1h5.4v5.4h-5.4zM673.7 437h5.4v5.4h-5.4zM674 437.9h5.4v5.4h-5.4zM610.2 324.1h5.4v5.4h-5.4zM637.9 327.5h5.4v5.4h-5.4zM588.2 370.2h5.4v5.4h-5.4zM594.6 380.7h5.4v5.4h-5.4zM592.1 383.9h5.4v5.4h-5.4zM635.8 377.7h5.4v5.4h-5.4zM625.1 383h5.4v5.4h-5.4zM623 387.7h5.4v5.4h-5.4zM613.2 393.5h5.4v5.4h-5.4zM632 392h5.4v5.4h-5.4zM655 388.8h5.4v5.4h-5.4zM650.7 399.4h5.4v5.4h-5.4zM659.7 399.4h5.4v5.4h-5.4zM664 404.3h5.4v5.4h-5.4zM667.8 405.8h5.4v5.4h-5.4zM670.4 409.5h5.4v5.4h-5.4zM600 407.3h5.4v5.4h-5.4zM640.9 405.2h5.4v5.4h-5.4zM646.9 404.8h5.4v5.4h-5.4zM645.2 411.2h5.4v5.4h-5.4zM641.6 412.2h5.4v5.4h-5.4zM596.8 414.4h5.4v5.4h-5.4zM577.6 415.8h5.4v5.4h-5.4zM576.1 422.9h5.4v5.4h-5.4zM626.6 413.3h5.4v5.4h-5.4zM632 414.4h5.4v5.4h-5.4zM620.2 415.8h5.4v5.4h-5.4zM638.4 416.5h5.4v5.4h-5.4zM608.5 422.3h5.4v5.4h-5.4zM587.2 427.8h5.4v5.4h-5.4zM606.8 427.2h5.4v5.4h-5.4zM568 445.3h5.4v5.4h-5.4zM568.4 445.5h5.4v5.4h-5.4zM590.1 456.8h5.4v5.4h-5.4zM596.1 455h5.4v5.4h-5.4zM585.7 465h5.4v5.4h-5.4zM591.2 463.4h5.4v5.4h-5.4zM580.6 473.8h5.4v5.4h-5.4zM599.4 472.7h5.4v5.4h-5.4zM603.8 475.6h5.4v5.4h-5.4zM593.9 488.2h5.4v5.4h-5.4zM579.5 496.4h5.4v5.4h-5.4zM620.5 465h5.4v5.4h-5.4zM622.7 470.5h5.4v5.4h-5.4zM627.1 466.7h5.4v5.4h-5.4zM634.9 460.1h5.4v5.4h-5.4zM635.3 466.7h5.4v5.4h-5.4zM630.9 481.6h5.4v5.4h-5.4zM641.1 460.5h5.4v5.4h-5.4zM645.5 456.1h5.4v5.4h-5.4zM653 460.5h5.4v5.4h-5.4zM647.1 472.7h5.4v5.4h-5.4zM648.2 476.1h5.4v5.4h-5.4zM651.5 487.6h5.4v5.4h-5.4zM657 512.6h5.4v5.4h-5.4zM650.4 544.8h5.4v5.4h-5.4zM668.6 546.5h5.4v5.4h-5.4zM582.1 537h5.4v5.4h-5.4zM659.3 458.3h5.4v5.4h-5.4zM661.5 462.8h5.4v5.4h-5.4zM663.7 467.2h5.4v5.4h-5.4zM665.9 471.6h5.4v5.4h-5.4zM668.1 475h5.4v5.4h-5.4zM669.2 478.3h5.4v5.4h-5.4zM672.5 480.5h5.4v5.4h-5.4zM665.9 480.5h5.4v5.4h-5.4zM664.8 487.1h5.4v5.4h-5.4zM662.6 490.5h5.4v5.4h-5.4zM665.9 491.6h5.4v5.4h-5.4zM672.1 490.5h5.4v5.4h-5.4zM664.8 493.8h5.4v5.4h-5.4zM672.5 500.4h5.4v5.4h-5.4zM671.4 506h5.4v5.4h-5.4zM670.3 518.2h5.4v5.4h-5.4zM659.7 457.2h5.4v5.4h-5.4zM672.5 457.2h5.4v5.4h-5.4zM673 465h5.4v5.4h-5.4zM526.9 447.7h5.4v5.4h-5.4zM531.3 427.6h5.4v5.4h-5.4zM539.3 417.6h5.4v5.4h-5.4zM551.7 420.9h5.4v5.4h-5.4zM543 432h5.4v5.4h-5.4zM535.5 441.5h5.4v5.4h-5.4zM549.2 443.9h5.4v5.4h-5.4zM594.5 380.5h5.4v5.4h-5.4zM592.8 384h5.4v5.4h-5.4zM612.9 393.9h5.4v5.4h-5.4zM600.3 407.4h5.4v5.4h-5.4zM596.8 414.1h5.4v5.4h-5.4zM577.5 416.2h5.4v5.4h-5.4zM575.8 423.4h5.4v5.4h-5.4zM539 417.6h5.4v5.4h-5.4zM551.6 420.6h5.4v5.4h-5.4zM531.5 427.6h5.4v5.4h-5.4zM542.5 431.6h5.4v5.4h-5.4zM554.8 431.3h5.4v5.4h-5.4zM586.6 428.1h5.4v5.4h-5.4zM527.1 447.4h5.4v5.4h-5.4zM535.5 441.2h5.4v5.4h-5.4zM548.1 443.5h5.4v5.4h-5.4zM568.3 445.3h5.4v5.4h-5.4zM589.3 457h5.4v5.4h-5.4zM595.4 454.4h5.4v5.4h-5.4zM601.5 449.1h5.4v5.4h-5.4zM585.8 464h5.4v5.4h-5.4zM591 463.1h5.4v5.4h-5.4zM607.7 422.5h5.4v5.4h-5.4zM666.9 425.3h5.4v5.4h-5.4zM623.6 432h5.4v5.4h-5.4zM649 425.7h5.4v5.4h-5.4zM651.2 422.3h5.4v5.4h-5.4zM633.1 461.6h5.4v5.4h-5.4zM661 426.2h5.4v5.4h-5.4zM648.3 453.2h5.4v5.4h-5.4zM667.7 430.8h5.4v5.4h-5.4zM663.7 448.2h5.4v5.4h-5.4zM634.2 445.4h5.4v5.4h-5.4zM629 429.3h5.4v5.4h-5.4zM670.4 428.5h5.4v5.4h-5.4zM635.2 427.8h5.4v5.4h-5.4zM663 402.9h5.4v5.4h-5.4zM625.1 473.6h5.4v5.4h-5.4zM631.2 450.6h5.4v5.4h-5.4zM666.3 423.7h5.4v5.4h-5.4zM636.2 446.9h5.4v5.4h-5.4zM665.9 423.6h5.4v5.4h-5.4zM623.9 428.9h5.4v5.4h-5.4zM630.2 441.4h5.4v5.4h-5.4zM637.7 455.4h5.4v5.4h-5.4zM621.6 429.8h5.4v5.4h-5.4zM624.5 459.6h5.4v5.4h-5.4zM640.1 448.8h5.4v5.4h-5.4zM661.1 421.9h5.4v5.4h-5.4zM653.5 448.6h5.4v5.4h-5.4zM662.1 422.3h5.4v5.4h-5.4zM664.5 455.9h5.4v5.4h-5.4zM638.8 419.6h5.4v5.4h-5.4zM671.6 455h5.4v5.4h-5.4zM652.9 405.4h5.4v5.4h-5.4zM672.2 460.1h5.4v5.4h-5.4zM660.8 444.6h5.4v5.4h-5.4zM629.9 450.1h5.4v5.4h-5.4zM670.1 449.8h5.4v5.4h-5.4zM669.5 444.9h5.4v5.4h-5.4zM619 452h5.4v5.4h-5.4zM645.1 418.2h5.4v5.4h-5.4zM661.7 431.7h5.4v5.4h-5.4z"/>
<path fill="#ff0000" d="M406.3 451.4a3.0 3.0 0 1 0 6 0a3.0 3.0 0 1 0 -6 0zM441.3 439.8a3.0 3.0 0 1 0 6 0a3.0 3.0 0 1 0 -6 0zM461.7 439.2a3.0 3.0 0 1 0 6 0a3.0 3.0 0 1 0 -6 0zM476.3 439.5a3.0 3.0 0 1 0 6 0a3.0 3.0 0 1 0 -6 0zM487.5 439.1a3.0 3.0 0 1 0 6 0a3.0 3.0 0 1 0 -6 0zM496.7 439.4a3.0 3.0 0 1 0 6 0a3.0 3.0 0 1 0 -6 0zM504.5 439.4a3.0 3.0 0 1 0 6 0a3.0 3.0 0 1 0 -6 0zM511.2 439.6a3.0 3.0 0 1 0 6 0a3.0 3.0 0 1 0 -6 0zM517.2 439.1a3.0 3.0 0 1 0 6 0a3.0 3.0 0 1 0 -6 0zM522.5 439.1a3.0 3.0 0 1 0 6 0a3.0 3.0 0 1 0 -6 0zM527.3 439.4a3.0 3.0 0 1 0 6 0a3.0 3.0 0 1 0 -6 0zM531.7 439.3a3.0 3.0 0 1 0 6 0a3.0 3.0 0 1 0 -6 0zM535.7 439.2a3.0 3.0 0 1 0 6 0a3.0 3.0 0 1 0 -6 0zM539.5 440.1a3.0 3.0 0 1 0 6 0a3.0 3.0 0 1 0 -6 0zM543 440a3.0 3.0 0 1 0 6 0a3.0 3.0 0 1 0 -6 0zM546.2 440.5a3.0 3.0 0 1 0 6 0a3.0 3.0 0 1 0 -6 0zM549.3 439.1a3.0 3.0 0 1 0 6 0a3.0 3.0 0 1 0 -6 0zM552.2 439.7a3.0 3.0 0 1 0 6 0a3.0 3.0 0 1 0 -6 0zM554.9 439a3.0 3.0 0 1 0 6 0a3.0 3.0 0 1 0 -6 0zM557.5 439.1a3.0 3.0 0 1 0 6 0a3.0 3.0 0 1 0 -6 0zM559.9 439.4a3.0 3.0 0 1 0 6 0a3.0 3.0 0 1 0 -6 0zM562.3 441a3.0 3.0 0 1 0 6 0a3.0 3.0 0 1 0 -6 0zM564.5 439.7a3.0 3.0 0 1 0 6 0a3.0 3.0 0 1 0 -6 0zM566.7 440.6a3.0 3.0 0 1 0 6 0a3.0 3.0 0 1 0 -6 0zM568.7 439.5a3.0 3.0 0 1 0 6 0a3.0 3.0 0 1 0 -6 0zM570.7 440.2a3.0 3.0 0 1 0 6 0a3.0 3.0 0 1 0 -6 0zM572.6 441.4a3.0 3.0 0 1 0 6 0a3.0 3.0 0 1 0 -6 0zM574.5 441.7a3.0 3.0 0 1 0 6 0a3.0 3.0 0 1 0 -6 0zM576.2 442.4a3.0 3.0 0 1 0 6 0a3.0 3.0 0 1 0 -6 0zM577.9 442.4a3.0 3.0 0 1 0 6 0a3.0 3.0 0 1 0 -6 0zM579.6 443.7a3.0 3.0 0 1 0 6 0a3.0 3.0 0 1 0 -6 0zM581.2 436.6a3.0 3.0 0 1 0 6 0a3.0 3.0 0 1 0 -6 0zM582.8 440.2a3.0 3.0 0 1 0 6 0a3.0 3.0 0 1 0 -6 0zM584.3 433.7a3.0 3.0 0 1 0 6 0a3.0 3.0 0 1 0 -6 0zM585.7 435.7a3.0 3.0 0 1 0 6 0a3.0 3.0 0 1 0 -6 0zM587.1 436.5a3.0 3.0 0 1 0 6 0a3.0 3.0 0 1 0 -6 0zM588.5 441a3.0 3.0 0 1 0 6 0a3.0 3.0 0 1 0 -6 0zM589.9 436.6a3.0 3.0 0 1 0 6 0a3.0 3.0 0 1 0 -6 0zM591.2 443.3a3.0 3.0 0 1 0 6 0a3.0 3.0 0 1 0 -6 0zM592.5 434.8a3.0 3.0 0 1 0 6 0a3.0 3.0 0 1 0 -6 0zM593.7 447.6a3.0 3.0 0 1 0 6 0a3.0 3.0 0 1 0 -6 0zM594.9 432.5a3.0 3.0 0 1 0 6 0a3.0 3.0 0 1 0 -6 0zM596.1 441.3a3.0 3.0 0 1 0 6 0a3.0 3.0 0 1 0 -6 0zM597.3 438.7a3.0 3.0 0 1 0 6 0a3.0 3.0 0 1 0 -6 0zM598.4 442.8a3.0 3.0 0 1 0 6 0a3.0 3.0 0 1 0 -6 0zM599.5 443.2a3.0 3.0 0 1 0 6 0a3.0 3.0 0 1 0 -6 0zM600.6 434.9a3.0 3.0 0 1 0 6 0a3.0 3.0 0 1 0 -6 0zM601.7 437.9a3.0 3.0 0 1 0 6 0a3.0 3.0 0 1 0 -6 0zM602.7 439.3a3.0 3.0 0 1 0 6 0a3.0 3.0 0 1 0 -6 0zM603.7 439.6a3.0 3.0 0 1 0 6 0a3.0 3.0 0 1 0 -6 0zM604.7 438.4a3.0 3.0 0 1 0 6 0a3.0 3.0 0 1 0 -6 0zM605.7 446.2a3.0 3.0 0 1 0 6 0a3.0 3.0 0 1 0 -6 0zM606.7 435.8a3.0 3.0 0 1 0 6 0a3.0 3.0 0 1 0 -6 0zM607.6 441.6a3.0 3.0 0 1 0 6 0a3.0 3.0 0 1 0 -6 0zM608.5 444.7a3.0 3.0 0 1 0 6 0a3.0 3.0 0 1 0 -6 0zM609.4 439.1a3.0 3.0 0 1 0 6 0a3.0 3.0 0 1 0 -6 0zM610.3 436.4a3.0 3.0 0 1 0 6 0a3.0 3.0 0 1 0 -6 0zM611.2 448.5a3.0 3.0 0 1 0 6 0a3.0 3.0 0 1 0 -6 0zM612.1 436.4a3.0 3.0 0 1 0 6 0a3.0 3.0 0 1 0 -6 0zM612.9 432.7a3.0 3.0 0 1 0 6 0a3.0 3.0 0 1 0 -6 0zM613.8 443.7a3.0 3.0 0 1 0 6 0a3.0 3.0 0 1 0 -6 0zM614.6 446.3a3.0 3.0 0 1 0 6 0a3.0 3.0 0 1 0 -6 0zM615.4 437.9a3.0 3.0 0 1 0 6 0a3.0 3.0 0 1 0 -6 0zM616.2 436.2a3.0 3.0 0 1 0 6 0a3.0 3.0 0 1 0 -6 0zM617 443.5a3.0 3.0 0 1 0 6 0a3.0 3.0 0 1 0 -6 0zM617.7 442a3.0 3.0 0 1 0 6 0a3.0 3.0 0 1 0 -6 0zM618.5 434.1a3.0 3.0 0 1 0 6 0a3.0 3.0 0 1 0 -6 0zM619.2 443.1a3.0 3.0 0 1 0 6 0a3.0 3.0 0 1 0 -6 0zM620 435.1a3.0 3.0 0 1 0 6 0a3.0 3.0 0 1 0 -6 0zM620.7 437a3.0 3.0 0 1 0 6 0a3.0 3.0 0 1 0 -6 0zM621.4 434.7a3.0 3.0 0 1 0 6 0a3.0 3.0 0 1 0 -6 0zM622.1 439.7a3.0 3.0 0 1 0 6 0a3.0 3.0 0 1 0 -6 0zM622.8 445.5a3.0 3.0 0 1 0 6 0a3.0 3.0 0 1 0 -6 0zM623.5 440.4a3.0 3.0 0 1 0 6 0a3.0 3.0 0 1 0 -6 0zM624.2 436.5a3.0 3.0 0 1 0 6 0a3.0 3.0 0 1 0 -6 0zM624.9 434.6a3.0 3.0 0 1 0 6 0a3.0 3.0 0 1 0 -6 0zM625.5 432.7a3.0 3.0 0 1 0 6 0a3.0 3.0 0 1 0 -6 0zM626.2 442.8a3.0 3.0 0 1 0 6 0a3.0 3.0 0 1 0 -6 0zM626.8 432.8a3.0 3.0 0 1 0 6 0a3.0 3.0 0 1 0 -6 0zM627.4 444.9a3.0 3.0 0 1 0 6 0a3.0 3.0 0 1 0 -6 0zM628.1 446.3a3.0 3.0 0 1 0 6 0a3.0 3.0 0 1 0 -6 0zM628.7 436.4a3.0 3.0 0 1 0 6 0a3.0 3.0 0 1 0 -6 0zM629.3 434a3.0 3.0 0 1 0 6 0a3.0 3.0 0 1 0 -6 0zM629.9 437a3.0 3.0 0 1 0 6 0a3.0 3.0 0 1 0 -6 0zM630.5 437.2a3.0 3.0 0 1 0 6 0a3.0 3.0 0 1 0 -6 0zM631.1 446.2a3.0 3.0 0 1 0 6 0a3.0 3.0 0 1 0 -6 0zM631.7 443.7a3.0 3.0 0 1 0 6 0a3.0 3.0 0 1 0 -6 0zM632.2 440.1a3.0 3.0 0 1 0 6 0a3.0 3.0 0 1 0 -6 0zM632.8 453a3.0 3.0 0 1 0 6 0a3.0 3.0 0 1 0 -6 0zM633.4 441.8a3.0 3.0 0 1 0 6 0a3.0 3.0 0 1 0 -6 0zM633.9 443.6a3.0 3.0 0 1 0 6 0a3.0 3.0 0 1 0 -6 0zM634.5 440a3.0 3.0 0 1 0 6 0a3.0 3.0 0 1 0 -6 0zM635 438.9a3.0 3.0 0 1 0 6 0a3.0 3.0 0 1 0 -6 0zM635.6 452.8a3.0 3.0 0 1 0 6 0a3.0 3.0 0 1 0 -6 0zM636.1 436.1a3.0 3.0 0 1 0 6 0a3.0 3.0 0 1 0 -6 0zM636.6 440.2a3.0 3.0 0 1 0 6 0a3.0 3.0 0 1 0 -6 0zM637.2 442.8a3.0 3.0 0 1 0 6 0a3.0 3.0 0 1 0 -6 0zM637.7 441.1a3.0 3.0 0 1 0 6 0a3.0 3.0 0 1 0 -6 0zM638.2 443.3a3.0 3.0 0 1 0 6 0a3.0 3.0 0 1 0 -6 0zM638.7 430.9a3.0 3.0 0 1 0 6 0a3.0 3.0 0 1 0 -6 0zM639.2 426.7a3.0 3.0 0 1 0 6 0a3.0 3.0 0 1 0 -6 0zM639.7 440.9a3.0 3.0 0 1 0 6 0a3.0 3.0 0 1 0 -6 0zM640.2 452.8a3.0 3.0 0 1 0 6 0a3.0 3.0 0 1 0 -6 0zM640.7 430.2a3.0 3.0 0 1 0 6 0a3.0 3.0 0 1 0 -6 0zM641.2 440.3a3.0 3.0 0 1 0 6 0a3.0 3.0 0 1 0 -6 0zM641.6 438.2a3.0 3.0 0 1 0 6 0a3.0 3.0 0 1 0 -6 0zM642.1 433.8a3.0 3.0 0 1 0 6 0a3.0 3.0 0 1 0 -6 0zM642.6 440.2a3.0 3.0 0 1 0 6 0a3.0 3.0 0 1 0 -6 0zM643 448.3a3.0 3.0 0 1 0 6 0a3.0 3.0 0 1 0 -6 0zM643.5 438.2a3.0 3.0 0 1 0 6 0a3.0 3.0 0 1 0 -6 0zM644 448.5a3.0 3.0 0 1 0 6 0a3.0 3.0 0 1 0 -6 0zM644.4 436a3.0 3.0 0 1 0 6 0a3.0 3.0 0 1 0 -6 0zM644.9 442.3a3.0 3.0 0 1 0 6 0a3.0 3.0 0 1 0 -6 0zM645.3 447a3.0 3.0 0 1 0 6 0a3.0 3.0 0 1 0 -6 0zM645.8 445.2a3.0 3.0 0 1 0 6 0a3.0 3.0 0 1 0 -6 0zM646.2 443.5a3.0 3.0 0 1 0 6 0a3.0 3.0 0 1 0 -6 0zM646.6 449.4a3.0 3.0 0 1 0 6 0a3.0 3.0 0 1 0 -6 0zM647.1 448.4a3.0 3.0 0 1 0 6 0a3.0 3.0 0 1 0 -6 0zM647.5 450a3.0 3.0 0 1 0 6 0a3.0 3.0 0 1 0 -6 0zM647.9 444.8a3.0 3.0 0 1 0 6 0a3.0 3.0 0 1 0 -6 0zM648.3 437.5a3.0 3.0 0 1 0 6 0a3.0 3.0 0 1 0 -6 0zM648.7 437.8a3.0 3.0 0 1 0 6 0a3.0 3.0 0 1 0 -6 0zM649.1 443.6a3.0 3.0 0 1 0 6 0a3.0 3.0 0 1 0 -6 0zM649.6 446.5a3.0 3.0 0 1 0 6 0a3.0 3.0 0 1 0 -6 0zM650 431.8a3.0 3.0 0 1 0 6 0a3.0 3.0 0 1 0 -6 0zM650.4 445a3.0 3.0 0 1 0 6 0a3.0 3.0 0 1 0 -6 0zM650.8 445.8a3.0 3.0 0 1 0 6 0a3.0 3.0 0 1 0 -6 0zM651.2 451.6a3.0 3.0 0 1 0 6 0a3.0 3.0 0 1 0 -6 0zM651.6 445.2a3.0 3.0 0 1 0 6 0a3.0 3.0 0 1 0 -6 0zM651.9 440a3.0 3.0 0 1 0 6 0a3.0 3.0 0 1 0 -6 0zM652.3 436.6a3.0 3.0 0 1 0 6 0a3.0 3.0 0 1 0 -6 0zM652.7 446.1a3.0 3.0 0 1 0 6 0a3.0 3.0 0 1 0 -6 0zM653.1 451.1a3.0 3.0 0 1 0 6 0a3.0 3.0 0 1 0 -6 0zM653.5 447.7a3.0 3.0 0 1 0 6 0a3.0 3.0 0 1 0 -6 0zM653.8 448.1a3.0 3.0 0 1 0 6 0a3.0 3.0 0 1 0 -6 0zM654.2 443.3a3.0 3.0 0 1 0 6 0a3.0 3.0 0 1 0 -6 0zM654.6 443.8a3.0 3.0 0 1 0 6 0a3.0 3.0 0 1 0 -6 0zM655 442.9a3.0 3.0 0 1 0 6 0a3.0 3.0 0 1 0 -6 0zM655.3 455.2a3.0 3.0 0 1 0 6 0a3.0 3.0 0 1 0 -6 0zM655.7 438.7a3.0 3.0 0 1 0 6 0a3.0 3.0 0 1 0 -6 0zM656 446.1a3.0 3.0 0 1 0 6 0a3.0 3.0 0 1 0 -6 0zM656.4 443.4a3.0 3.0 0 1 0 6 0a3.0 3.0 0 1 0 -6 0zM656.8 437.4a3.0 3.0 0 1 0 6 0a3.0 3.0 0 1 0 -6 0zM657.1 447.6a3.0 3.0 0 1 0 6 0a3.0 3.0 0 1 0 -6 0zM657.5 451.1a3.0 3.0 0 1 0 6 0a3.0 3.0 0 1 0 -6 0zM657.8 448.1a3.0 3.0 0 1 0 6 0a3.0 3.0 0 1 0 -6 0zM658.1 434.9a3.0 3.0 0 1 0 6 0a3.0 3.0 0 1 0 -6 0zM658.5 453.6a3.0 3.0 0 1 0 6 0a3.0 3.0 0 1 0 -6 0zM658.8 442.6a3.0 3.0 0 1 0 6 0a3.0 3.0 0 1 0 -6 0zM659.2 448a3.0 3.0 0 1 0 6 0a3.0 3.0 0 1 0 -6 0zM659.5 443.4a3.0 3.0 0 1 0 6 0a3.0 3.0 0 1 0 -6 0zM659.8 440.1a3.0 3.0 0 1 0 6 0a3.0 3.0 0 1 0 -6 0zM660.2 437a3.0 3.0 0 1 0 6 0a3.0 3.0 0 1 0 -6 0zM660.5 438.7a3.0 3.0 0 1 0 6 0a3.0 3.0 0 1 0 -6 0zM660.8 446.8a3.0 3.0 0 1 0 6 0a3.0 3.0 0 1 0 -6 0zM661.1 444.7a3.0 3.0 0 1 0 6 0a3.0 3.0 0 1 0 -6 0zM661.5 442a3.0 3.0 0 1 0 6 0a3.0 3.0 0 1 0 -6 0zM661.8 440a3.0 3.0 0 1 0 6 0a3.0 3.0 0 1 0 -6 0zM662.1 437.7a3.0 3.0 0 1 0 6 0a3.0 3.0 0 1 0 -6 0zM662.4 454.2a3.0 3.0 0 1 0 6 0a3.0 3.0 0 1 0 -6 0zM662.7 443.6a3.0 3.0 0 1 0 6 0a3.0 3.0 0 1 0 -6 0zM663 435.8a3.0 3.0 0 1 0 6 0a3.0 3.0 0 1 0 -6 0zM663.4 451.9a3.0 3.0 0 1 0 6 0a3.0 3.0 0 1 0 -6 0zM663.7 446.9a3.0 3.0 0 1 0 6 0a3.0 3.0 0 1 0 -6 0zM664 436.1a3.0 3.0 0 1 0 6 0a3.0 3.0 0 1 0 -6 0zM664.3 444.6a3.0 3.0 0 1 0 6 0a3.0 3.0 0 1 0 -6 0zM664.6 434.8a3.0 3.0 0 1 0 6 0a3.0 3.0 0 1 0 -6 0zM664.9 446.1a3.0 3.0 0 1 0 6 0a3.0 3.0 0 1 0 -6 0zM665.2 434.9a3.0 3.0 0 1 0 6 0a3.0 3.0 0 1 0 -6 0zM665.5 444.1a3.0 3.0 0 1 0 6 0a3.0 3.0 0 1 0 -6 0zM665.8 442.3a3.0 3.0 0 1 0 6 0a3.0 3.0 0 1 0 -6 0zM666.1 436.4a3.0 3.0 0 1 0 6 0a3.0 3.0 0 1 0 -6 0zM666.4 440.8a3.0 3.0 0 1 0 6 0a3.0 3.0 0 1 0 -6 0zM666.7 446.4a3.0 3.0 0 1 0 6 0a3.0 3.0 0 1 0 -6 0zM666.9 448.1a3.0 3.0 0 1 0 6 0a3.0 3.0 0 1 0 -6 0zM667.2 438.1a3.0 3.0 0 1 0 6 0a3.0 3.0 0 1 0 -6 0zM667.5 436.9a3.0 3.0 0 1 0 6 0a3.0 3.0 0 1 0 -6 0zM667.8 446.3a3.0 3.0 0 1 0 6 0a3.0 3.0 0 1 0 -6 0zM668.1 449.1a3.0 3.0 0 1 0 6 0a3.0 3.0 0 1 0 -6 0zM668.4 443.7a3.0 3.0 0 1 0 6 0a3.0 3.0 0 1 0 -6 0zM668.6 442.2a3.0 3.0 0 1 0 6 0a3.0 3.0 0 1 0 -6 0zM668.9 438.9a3.0 3.0 0 1 0 6 0a3.0 3.0 0 1 0 -6 0zM669.2 440.9a3.0 3.0 0 1 0 6 0a3.0 3.0 0 1 0 -6 0zM669.5 440.9a3.0 3.0 0 1 0 6 0a3.0 3.0 0 1 0 -6 0zM669.7 441.6a3.0 3.0 0 1 0 6 0a3.0 3.0 0 1 0 -6 0zM670 437.9a3.0 3.0 0 1 0 6 0a3.0 3.0 0 1 0 -6 0zM670.3 442.3a3.0 3.0 0 1 0 6 0a3.0 3.0 0 1 0 -6 0zM670.6 452.2a3.0 3.0 0 1 0 6 0a3.0 3.0 0 1 0 -6 0zM670.8 433.4a3.0 3.0 0 1 0 6 0a3.0 3.0 0 1 0 -6 0zM671.1 436a3.0 3.0 0 1 0 6 0a3.0 3.0 0 1 0 -6 0zM671.4 442.2a3.0 3.0 0 1 0 6 0a3.0 3.0 0 1 0 -6 0zM671.6 441.6a3.0 3.0 0 1 0 6 0a3.0 3.0 0 1 0 -6 0zM671.9 438a3.0 3.0 0 1 0 6 0a3.0 3.0 0 1 0 -6 0zM672.1 440.6a3.0 3.0 0 1 0 6 0a3.0 3.0 0 1 0 -6 0zM672.4 436.1a3.0 3.0 0 1 0 6 0a3.0 3.0 0 1 0 -6 0zM672.7 444.4a3.0 3.0 0 1 0 6 0a3.0 3.0 0 1 0 -6 0zM672.9 445.9a3.0 3.0 0 1 0 6 0a3.0 3.0 0 1 0 -6 0zM673.2 433.9a3.0 3.0 0 1 0 6 0a3.0 3.0 0 1 0 -6 0zM673.4 446.3a3.0 3.0 0 1 0 6 0a3.0 3.0 0 1 0 -6 0zM673.7 444.8a3.0 3.0 0 1 0 6 0a3.0 3.0 0 1 0 -6 0zM612.3 461.5a3.0 3.0 0 1 0 6 0a3.0 3.0 0 1 0 -6 0zM621.3 463.2a3.0 3.0 0 1 0 6 0a3.0 3.0 0 1 0 -6 0z"/>
<path fill="#00ff00" d="M409.3 433.1l3.6 6.8h-7.2zM444.3 435.7l3.6 6.8h-7.2zM464.7 435.8l3.6 6.8h-7.2zM479.3 435.3l3.6 6.8h-7.2zM490.5 435.4l3.6 6.8h-7.2zM499.7 435.2l3.6 6.8h-7.2zM507.5 435.1l3.6 6.8h-7.2zM514.2 436.1l3.6 6.8h-7.2zM520.2 435.8l3.6 6.8h-7.2zM525.5 435l3.6 6.8h-7.2zM530.3 434.4l3.6 6.8h-7.2zM534.7 435.2l3.6 6.8h-7.2zM538.7 435.9l3.6 6.8h-7.2zM542.5 434.7l3.6 6.8h-7.2zM546 435.4l3.6 6.8h-7.2zM549.2 434.2l3.6 6.8h-7.2zM552.3 433.4l3.6 6.8h-7.2zM555.2 434l3.6 6.8h-7.2zM557.9 434.1l3.6 6.8h-7.2zM560.5 434.1l3.6 6.8h-7.2zM562.9 435.8l3.6 6.8h-7.2zM565.3 434.2l3.6 6.8h-7.2zM567.5 434.9l3.6 6.8h-7.2zM569.7 433.1l3.6 6.8h-7.2zM571.7 435.9l3.6 6.8h-7.2zM573.7 431.8l3.6 6.8h-7.2zM575.6 435.4l3.6 6.8h-7.2zM577.5 435.1l3.6 6.8h-7.2zM579.2 434l3.6 6.8h-7.2zM580.9 430.8l3.6 6.8h-7.2zM582.6 430.5l3.6 6.8h-7.2zM584.2 437.2l3.6 6.8h-7.2zM585.8 429.7l3.6 6.8h-7.2zM587.3 435.2l3.6 6.8h-7.2zM588.7 433.4l3.6 6.8h-7.2zM590.1 424.8l3.6 6.8h-7.2zM591.5 429.1l3.6 6.8h-7.2zM592.9 433.6l3.6 6.8h-7.2zM594.2 435.5l3.6 6.8h-7.2zM595.5 429.6l3.6 6.8h-7.2zM596.7 430.9l3.6 6.8h-7.2zM597.9 429.9l3.6 6.8h-7.2zM599.1 428.5l3.6 6.8h-7.2zM600.3 432l3.6 6.8h-7.2zM601.4 433.2l3.6 6.8h-7.2zM602.5 435.3l3.6 6.8h-7.2zM603.6 427.2l3.6 6.8h-7.2zM604.7 433.6l3.6 6.8h-7.2zM605.7 431.1l3.6 6.8h-7.2zM606.7 428l3.6 6.8h-7.2zM607.7 425l3.6 6.8h-7.2zM608.7 428.1l3.6 6.8h-7.2zM609.7 431.7l3.6 6.8h-7.2zM610.6 433.9l3.6 6.8h-7.2zM611.5 423.6l3.6 6.8h-7.2zM612.4 428.8l3.6 6.8h-7.2zM613.3 432.3l3.6 6.8h-7.2zM614.2 432.6l3.6 6.8h-7.2zM615.1 437.5l3.6 6.8h-7.2zM615.9 430.3l3.6 6.8h-7.2zM616.8 433.2l3.6 6.8h-7.2zM617.6 424.6l3.6 6.8h-7.2zM618.4 428.5l3.6 6.8h-7.2zM619.2 426.2l3.6 6.8h-7.2zM620 434.3l3.6 6.8h-7.2zM620.7 426.4l3.6 6.8h-7.2zM621.5 427.3l3.6 6.8h-7.2zM622.2 422.4l3.6 6.8h-7.2zM623 427.4l3.6 6.8h-7.2zM623.7 436.4l3.6 6.8h-7.2zM624.4 437.3l3.6 6.8h-7.2zM625.1 437.8l3.6 6.8h-7.2zM625.8 441.7l3.6 6.8h-7.2zM626.5 428.6l3.6 6.8h-7.2zM627.2 436.2l3.6 6.8h-7.2zM627.9 426.8l3.6 6.8h-7.2zM628.5 431.4l3.6 6.8h-7.2zM629.2 430.8l3.6 6.8h-7.2zM629.8 438.3l3.6 6.8h-7.2zM630.4 434.3l3.6 6.8h-7.2zM631.1 424.2l3.6 6.8h-7.2zM631.7 427.8l3.6 6.8h-7.2zM632.3 427.5l3.6 6.8h-7.2zM632.9 440.1l3.6 6.8h-7.2zM633.5 427.1l3.6 6.8h-7.2zM634.1 428.1l3.6 6.8h-7.2zM634.7 422.9l3.6 6.8h-7.2zM635.2 438.2l3.6 6.8h-7.2zM635.8 430.4l3.6 6.8h-7.2zM636.4 416.9l3.6 6.8h-7.2zM636.9 423.2l3.6 6.8h-7.2zM637.5 424.7l3.6 6.8h-7.2zM638 429.2l3.6 6.8h-7.2zM638.6 426.7l3.6 6.8h-7.2zM639.1 428.8l3.6 6.8h-7.2zM639.6 441.6l3.6 6.8h-7.2zM640.2 433.2l3.6 6.8h-7.2zM640.7 436.7l3.6 6.8h-7.2zM641.2 430.4l3.6 6.8h-7.2zM641.7 430.3l3.6 6.8h-7.2zM642.2 427.8l3.6 6.8h-7.2zM642.7 424.5l3.6 6.8h-7.2zM643.2 426.8l3.6 6.8h-7.2zM643.7 425.6l3.6 6.8h-7.2zM644.2 425l3.6 6.8h-7.2zM644.6 420l3.6 6.8h-7.2zM645.1 436.9l3.6 6.8h-7.2zM645.6 426.1l3.6 6.8h-7.2zM646 434l3.6 6.8h-7.2zM646.5 431.2l3.6 6.8h-7.2zM647 421.1l3.6 6.8h-7.2zM647.4 428.7l3.6 6.8h-7.2zM647.9 435.7l3.6 6.8h-7.2zM648.3 431.3l3.6 6.8h-7.2zM648.8 425.6l3.6 6.8h-7.2zM649.2 420.3l3.6 6.8h-7.2zM649.6 430.7l3.6 6.8h-7.2zM650.1 433.5l3.6 6.8h-7.2zM650.5 427.8l3.6 6.8h-7.2zM650.9 430.1l3.6 6.8h-7.2zM651.3 437.8l3.6 6.8h-7.2zM651.7 428.6l3.6 6.8h-7.2zM652.1 423.6l3.6 6.8h-7.2zM652.6 434.8l3.6 6.8h-7.2zM653 419.5l3.6 6.8h-7.2zM653.4 436.1l3.6 6.8h-7.2zM653.8 432.5l3.6 6.8h-7.2zM654.2 433.7l3.6 6.8h-7.2zM654.6 432.8l3.6 6.8h-7.2zM654.9 422.2l3.6 6.8h-7.2zM655.3 437.6l3.6 6.8h-7.2zM655.7 441.6l3.6 6.8h-7.2zM656.1 437.7l3.6 6.8h-7.2zM656.5 424.7l3.6 6.8h-7.2zM656.8 437.9l3.6 6.8h-7.2zM657.2 439.3l3.6 6.8h-7.2zM657.6 432.2l3.6 6.8h-7.2zM658 423.3l3.6 6.8h-7.2zM658.3 435.4l3.6 6.8h-7.2zM658.7 436.1l3.6 6.8h-7.2zM659 425.6l3.6 6.8h-7.2zM659.4 422.5l3.6 6.8h-7.2zM659.8 431.3l3.6 6.8h-7.2zM660.1 433.2l3.6 6.8h-7.2zM660.5 430.3l3.6 6.8h-7.2zM660.8 431.2l3.6 6.8h-7.2zM661.1 426.4l3.6 6.8h-7.2zM661.5 425.8l3.6 6.8h-7.2zM661.8 439.1l3.6 6.8h-7.2zM662.2 428.7l3.6 6.8h-7.2zM662.5 427.8l3.6 6.8h-7.2zM662.8 428.9l3.6 6.8h-7.2zM663.2 423.7l3.6 6.8h-7.2zM663.5 430.6l3.6 6.8h-7.2zM663.8 439.5l3.6 6.8h-7.2zM664.1 434.4l3.6 6.8h-7.2zM664.5 431.8l3.6 6.8h-7.2zM664.8 424.4l3.6 6.8h-7.2zM665.1 430.5l3.6 6.8h-7.2zM665.4 422.7l3.6 6.8h-7.2zM665.7 426.9l3.6 6.8h-7.2zM666 427.5l3.6 6.8h-7.2zM666.4 431.9l3.6 6.8h-7.2zM666.7 425.3l3.6 6.8h-7.2zM667 436l3.6 6.8h-7.2zM667.3 432.1l3.6 6.8h-7.2zM667.6 426.8l3.6 6.8h-7.2zM667.9 434.6l3.6 6.8h-7.2zM668.2 426.1l3.6 6.8h-7.2zM668.5 429.7l3.6 6.8h-7.2zM668.8 436l3.6 6.8h-7.2zM669.1 430.8l3.6 6.8h-7.2zM669.4 432.1l3.6 6.8h-7.2zM669.7 439.8l3.6 6.8h-7.2zM669.9 424.1l3.6 6.8h-7.2zM670.2 423.5l3.6 6.8h-7.2zM670.5 418.8l3.6 6.8h-7.2zM670.8 425.6l3.6 6.8h-7.2zM671.1 435.4l3.6 6.8h-7.2zM671.4 431.8l3.6 6.8h-7.2zM671.6 428.6l3.6 6.8h-7.2zM671.9 431l3.6 6.8h-7.2zM672.2 434l3.6 6.8h-7.2zM672.5 424.8l3.6 6.8h-7.2zM672.7 429.1l3.6 6.8h-7.2zM673 421.1l3.6 6.8h-7.2zM673.3 434.4l3.6 6.8h-7.2zM673.6 432.6l3.6 6.8h-7.2zM673.8 428.4l3.6 6.8h-7.2zM674.1 430.6l3.6 6.8h-7.2zM674.4 423.9l3.6 6.8h-7.2zM674.6 424.1l3.6 6.8h-7.2zM674.9 425.6l3.6 6.8h-7.2zM675.1 427.4l3.6 6.8h-7.2zM675.4 426.6l3.6 6.8h-7.2zM675.7 434.8l3.6 6.8h-7.2zM675.9 422.8l3.6 6.8h-7.2zM676.2 433.2l3.6 6.8h-7.2zM676.4 424.2l3.6 6.8h-7.2zM676.7 437.7l3.6 6.8h-7.2zM616 420.6l3.6 6.8h-7.2zM660 419.9l3.6 6.8h-7.2zM674 420.9l3.6 6.8h-7.2z"/>
<path fill="#ff00ff" d="M409.3 441l3.7 3.7l-3.7 3.7l-3.7 -3.7zM444.3 435.5l3.7 3.7l-3.7 3.7l-3.7 -3.7zM464.7 435.6l3.7 3.7l-3.7 3.7l-3.7 -3.7zM479.3 436l3.7 3.7l-3.7 3.7l-3.7 -3.7zM490.5 436.3l3.7 3.7l-3.7 3.7l-3.7 -3.7zM499.7 435.3l3.7 3.7l-3.7 3.7l-3.7 -3.7zM507.5 435.8l3.7 3.7l-3.7 3.7l-3.7 -3.7zM514.2 435.2l3.7 3.7l-3.7 3.7l-3.7 -3.7zM520.2 435.9l3.7 3.7l-3.7 3.7l-3.7 -3.7zM525.5 435.7l3.7 3.7l-3.7 3.7l-3.7 -3.7zM530.3 435.6l3.7 3.7l-3.7 3.7l-3.7 -3.7zM534.7 436.1l3.7 3.7l-3.7 3.7l-3.7 -3.7zM538.7 435.6l3.7 3.7l-3.7 3.7l-3.7 -3.7zM542.5 436.2l3.7 3.7l-3.7 3.7l-3.7 -3.7zM546 436.8l3.7 3.7l-3.7 3.7l-3.7 -3.7zM549.2 436.7l3.7 3.7l-3.7 3.7l-3.7 -3.7zM552.3 434.9l3.7 3.7l-3.7 3.7l-3.7 -3.7zM555.2 435.8l3.7 3.7l-3.7 3.7l-3.7 -3.7zM557.9 436.3l3.7 3.7l-3.7 3.7l-3.7 -3.7zM560.5 435.7l3.7 3.7l-3.7 3.7l-3.7 -3.7zM562.9 434.9l3.7 3.7l-3.7 3.7l-3.7 -3.7zM565.3 436.9l3.7 3.7l-3.7 3.7l-3.7 -3.7zM567.5 435.4l3.7 3.7l-3.7 3.7l-3.7 -3.7zM569.7 437.3l3.7 3.7l-3.7 3.7l-3.7 -3.7zM571.7 437.1l3.7 3.7l-3.7 3.7l-3.7 -3.7zM573.7 436.4l3.7 3.7l-3.7 3.7l-3.7 -3.7zM575.6 433.1l3.7 3.7l-3.7 3.7l-3.7 -3.7zM577.5 438.1l3.7 3.7l-3.7 3.7l-3.7 -3.7zM579.2 436.7l3.7 3.7l-3.7 3.7l-3.7 -3.7zM580.9 436.2l3.7 3.7l-3.7 3.7l-3.7 -3.7zM582.6 438.1l3.7 3.7l-3.7 3.7l-3.7 -3.7zM584.2 437.8l3.7 3.7l-3.7 3.7l-3.7 -3.7zM585.8 434.1l3.7 3.7l-3.7 3.7l-3.7 -3.7zM587.3 437.9l3.7 3.7l-3.7 3.7l-3.7 -3.7zM588.7 441.8l3.7 3.7l-3.7 3.7l-3.7 -3.7zM590.1 430l3.7 3.7l-3.7 3.7l-3.7 -3.7zM591.5 435.1l3.7 3.7l-3.7 3.7l-3.7 -3.7zM592.9 436.4l3.7 3.7l-3.7 3.7l-3.7 -3.7zM594.2 437.1l3.7 3.7l-3.7 3.7l-3.7 -3.7zM595.5 431.6l3.7 3.7l-3.7 3.7l-3.7 -3.7zM596.7 440.3l3.7 3.7l-3.7 3.7l-3.7 -3.7zM597.9 435.4l3.7 3.7l-3.7 3.7l-3.7 -3.7zM599.1 431.6l3.7 3.7l-3.7 3.7l-3.7 -3.7zM600.3 433.2l3.7 3.7l-3.7 3.7l-3.7 -3.7zM601.4 432.6l3.7 3.7l-3.7 3.7l-3.7 -3.7zM602.5 438.3l3.7 3.7l-3.7 3.7l-3.7 -3.7zM603.6 436.6l3.7 3.7l-3.7 3.7l-3.7 -3.7zM604.7 434.8l3.7 3.7l-3.7 3.7l-3.7 -3.7zM605.7 436.8l3.7 3.7l-3.7 3.7l-3.7 -3.7zM606.7 431.6l3.7 3.7l-3.7 3.7l-3.7 -3.7zM607.7 439.2l3.7 3.7l-3.7 3.7l-3.7 -3.7zM608.7 435.6l3.7 3.7l-3.7 3.7l-3.7 -3.7zM609.7 443l3.7 3.7l-3.7 3.7l-3.7 -3.7zM610.6 430.7l3.7 3.7l-3.7 3.7l-3.7 -3.7zM611.5 437.1l3.7 3.7l-3.7 3.7l-3.7 -3.7zM612.4 427.5l3.7 3.7l-3.7 3.7l-3.7 -3.7zM613.3 432.3l3.7 3.7l-3.7 3.7l-3.7 -3.7zM614.2 438.4l3.7 3.7l-3.7 3.7l-3.7 -3.7zM615.1 437.3l3.7 3.7l-3.7 3.7l-3.7 -3.7zM615.9 446.2l3.7 3.7l-3.7 3.7l-3.7 -3.7zM616.8 444.4l3.7 3.7l-3.7 3.7l-3.7 -3.7zM617.6 438.4l3.7 3.7l-3.7 3.7l-3.7 -3.7zM618.4 443.2l3.7 3.7l-3.7 3.7l-3.7 -3.7zM619.2 438.2l3.7 3.7l-3.7 3.7l-3.7 -3.7zM620 440.8l3.7 3.7l-3.7 3.7l-3.7 -3.7zM620.7 443.3l3.7 3.7l-3.7 3.7l-3.7 -3.7zM621.5 436.2l3.7 3.7l-3.7 3.7l-3.7 -3.7zM622.2 427.9l3.7 3.7l-3.7 3.7l-3.7 -3.7zM623 442.9l3.7 3.7l-3.7 3.7l-3.7 -3.7zM623.7 443l3.7 3.7l-3.7 3.7l-3.7 -3.7zM624.4 443.8l3.7 3.7l-3.7 3.7l-3.7 -3.7zM625.1 428.8l3.7 3.7l-3.7 3.7l-3.7 -3.7zM625.8 436.5l3.7 3.7l-3.7 3.7l-3.7 -3.7zM626.5 434l3.7 3.7l-3.7 3.7l-3.7 -3.7zM627.2 443l3.7 3.7l-3.7 3.7l-3.7 -3.7zM627.9 441.1l3.7 3.7l-3.7 3.7l-3.7 -3.7zM628.5 441.7l3.7 3.7l-3.7 3.7l-3.7 -3.7zM629.2 450.1l3.7 3.7l-3.7 3.7l-3.7 -3.7zM629.8 440.2l3.7 3.7l-3.7 3.7l-3.7 -3.7zM630.4 439.7l3.7 3.7l-3.7 3.7l-3.7 -3.7zM631.1 447.8l3.7 3.7l-3.7 3.7l-3.7 -3.7zM631.7 437.8l3.7 3.7l-3.7 3.7l-3.7 -3.7zM632.3 432l3.7 3.7l-3.7 3.7l-3.7 -3.7zM632.9 438.7l3.7 3.7l-3.7 3.7l-3.7 -3.7zM633.5 445.4l3.7 3.7l-3.7 3.7l-3.7 -3.7zM634.1 433.5l3.7 3.7l-3.7 3.7l-3.7 -3.7zM634.7 435.5l3.7 3.7l-3.7 3.7l-3.7 -3.7zM635.2 443l3.7 3.7l-3.7 3.7l-3.7 -3.7zM635.8 442.6l3.7 3.7l-3.7 3.7l-3.7 -3.7zM636.4 438.1l3.7 3.7l-3.7 3.7l-3.7 -3.7zM636.9 439.2l3.7 3.7l-3.7 3.7l-3.7 -3.7zM637.5 438.8l3.7 3.7l-3.7 3.7l-3.7 -3.7zM638 440.1l3.7 3.7l-3.7 3.7l-3.7 -3.7zM638.6 435.6l3.7 3.7l-3.7 3.7l-3.7 -3.7zM639.1 433.3l3.7 3.7l-3.7 3.7l-3.7 -3.7zM639.6 435.5l3.7 3.7l-3.7 3.7l-3.7 -3.7zM640.2 427.4l3.7 3.7l-3.7 3.7l-3.7 -3.7zM640.7 434.9l3.7 3.7l-3.7 3.7l-3.7 -3.7zM641.2 437l3.7 3.7l-3.7 3.7l-3.7 -3.7zM641.7 441.6l3.7 3.7l-3.7 3.7l-3.7 -3.7zM642.2 432.7l3.7 3.7l-3.7 3.7l-3.7 -3.7zM642.7 440.8l3.7 3.7l-3.7 3.7l-3.7 -3.7zM643.2 433.5l3.7 3.7l-3.7 3.7l-3.7 -3.7zM643.7 444.3l3.7 3.7l-3.7 3.7l-3.7 -3.7zM644.2 434.2l3.7 3.7l-3.7 3.7l-3.7 -3.7zM644.6 437.9l3.7 3.7l-3.7 3.7l-3.7 -3.7zM645.1 441.7l3.7 3.7l-3.7 3.7l-3.7 -3.7zM645.6 441.7l3.7 3.7l-3.7 3.7l-3.7 -3.7zM646 444.2l3.7 3.7l-3.7 3.7l-3.7 -3.7zM646.5 430.2l3.7 3.7l-3.7 3.7l-3.7 -3.7zM647 439.6l3.7 3.7l-3.7 3.7l-3.7 -3.7zM647.4 442.7l3.7 3.7l-3.7 3.7l-3.7 -3.7zM647.9 431.8l3.7 3.7l-3.7 3.7l-3.7 -3.7zM648.3 438.1l3.7 3.7l-3.7 3.7l-3.7 -3.7zM648.8 441.3l3.7 3.7l-3.7 3.7l-3.7 -3.7zM649.2 440.6l3.7 3.7l-3.7 3.7l-3.7 -3.7zM649.6 428.1l3.7 3.7l-3.7 3.7l-3.7 -3.7zM650.1 438.7l3.7 3.7l-3.7 3.7l-3.7 -3.7zM650.5 440.5l3.7 3.7l-3.7 3.7l-3.7 -3.7zM650.9 435.2l3.7 3.7l-3.7 3.7l-3.7 -3.7zM651.3 442.2l3.7 3.7l-3.7 3.7l-3.7 -3.7zM651.7 445.6l3.7 3.7l-3.7 3.7l-3.7 -3.7zM652.1 450.5l3.7 3.7l-3.7 3.7l-3.7 -3.7zM652.6 438.4l3.7 3.7l-3.7 3.7l-3.7 -3.7zM653 445.7l3.7 3.7l-3.7 3.7l-3.7 -3.7zM653.4 430.1l3.7 3.7l-3.7 3.7l-3.7 -3.7zM653.8 451.1l3.7 3.7l-3.7 3.7l-3.7 -3.7zM654.2 442.1l3.7 3.7l-3.7 3.7l-3.7 -3.7zM654.6 439l3.7 3.7l-3.7 3.7l-3.7 -3.7zM654.9 449l3.7 3.7l-3.7 3.7l-3.7 -3.7zM655.3 439l3.7 3.7l-3.7 3.7l-3.7 -3.7zM655.7 443.4l3.7 3.7l-3.7 3.7l-3.7 -3.7zM656.1 437.4l3.7 3.7l-3.7 3.7l-3.7 -3.7zM656.5 441l3.7 3.7l-3.7 3.7l-3.7 -3.7zM656.8 445.6l3.7 3.7l-3.7 3.7l-3.7 -3.7zM657.2 443.5l3.7 3.7l-3.7 3.7l-3.7 -3.7zM657.6 435.6l3.7 3.7l-3.7 3.7l-3.7 -3.7zM658 439.3l3.7 3.7l-3.7 3.7l-3.7 -3.7zM658.3 429.2l3.7 3.7l-3.7 3.7l-3.7 -3.7zM658.7 433.5l3.7 3.7l-3.7 3.7l-3.7 -3.7zM659 437.6l3.7 3.7l-3.7 3.7l-3.7 -3.7zM659.4 445.1l3.7 3.7l-3.7 3.7l-3.7 -3.7zM659.8 435.3l3.7 3.7l-3.7 3.7l-3.7 -3.7zM660.1 441.1l3.7 3.7l-3.7 3.7l-3.7 -3.7zM660.5 435.4l3.7 3.7l-3.7 3.7l-3.7 -3.7zM660.8 439.2l3.7 3.7l-3.7 3.7l-3.7 -3.7zM661.1 423.1l3.7 3.7l-3.7 3.7l-3.7 -3.7zM661.5 439.6l3.7 3.7l-3.7 3.7l-3.7 -3.7zM661.8 445.8l3.7 3.7l-3.7 3.7l-3.7 -3.7zM662.2 445.8l3.7 3.7l-3.7 3.7l-3.7 -3.7zM662.5 441l3.7 3.7l-3.7 3.7l-3.7 -3.7zM662.8 454.4l3.7 3.7l-3.7 3.7l-3.7 -3.7zM663.2 433.2l3.7 3.7l-3.7 3.7l-3.7 -3.7zM663.5 438l3.7 3.7l-3.7 3.7l-3.7 -3.7zM663.8 442.6l3.7 3.7l-3.7 3.7l-3.7 -3.7zM664.1 433.1l3.7 3.7l-3.7 3.7l-3.7 -3.7zM664.5 445.6l3.7 3.7l-3.7 3.7l-3.7 -3.7zM664.8 440.7l3.7 3.7l-3.7 3.7l-3.7 -3.7zM665.1 429.7l3.7 3.7l-3.7 3.7l-3.7 -3.7zM665.4 440.3l3.7 3.7l-3.7 3.7l-3.7 -3.7zM665.7 442.3l3.7 3.7l-3.7 3.7l-3.7 -3.7zM666 437.8l3.7 3.7l-3.7 3.7l-3.7 -3.7zM666.4 443.8l3.7 3.7l-3.7 3.7l-3.7 -3.7zM666.7 440.6l3.7 3.7l-3.7 3.7l-3.7 -3.7zM667 421.5l3.7 3.7l-3.7 3.7l-3.7 -3.7zM667.3 431.5l3.7 3.7l-3.7 3.7l-3.7 -3.7zM667.6 438.6l3.7 3.7l-3.7 3.7l-3.7 -3.7zM667.9 444.4l3.7 3.7l-3.7 3.7l-3.7 -3.7zM668.2 432.2l3.7 3.7l-3.7 3.7l-3.7 -3.7zM668.5 447l3.7 3.7l-3.7 3.7l-3.7 -3.7zM668.8 441.1l3.7 3.7l-3.7 3.7l-3.7 -3.7zM669.1 433.3l3.7 3.7l-3.7 3.7l-3.7 -3.7zM669.4 439.2l3.7 3.7l-3.7 3.7l-3.7 -3.7zM669.7 438l3.7 3.7l-3.7 3.7l-3.7 -3.7zM669.9 438l3.7 3.7l-3.7 3.7l-3.7 -3.7zM670.2 439.4l3.7 3.7l-3.7 3.7l-3.7 -3.7zM670.5 437.8l3.7 3.7l-3.7 3.7l-3.7 -3.7zM670.8 450.2l3.7 3.7l-3.7 3.7l-3.7 -3.7zM671.1 445.7l3.7 3.7l-3.7 3.7l-3.7 -3.7zM671.4 438.2l3.7 3.7l-3.7 3.7l-3.7 -3.7zM671.6 433.1l3.7 3.7l-3.7 3.7l-3.7 -3.7zM671.9 435.2l3.7 3.7l-3.7 3.7l-3.7 -3.7zM672.2 432.9l3.7 3.7l-3.7 3.7l-3.7 -3.7zM672.5 442.2l3.7 3.7l-3.7 3.7l-3.7 -3.7zM672.7 436.1l3.7 3.7l-3.7 3.7l-3.7 -3.7zM673 435.9l3.7 3.7l-3.7 3.7l-3.7 -3.7zM673.3 444.5l3.7 3.7l-3.7 3.7l-3.7 -3.7zM673.6 433l3.7 3.7l-3.7 3.7l-3.7 -3.7zM673.8 440.9l3.7 3.7l-3.7 3.7l-3.7 -3.7zM674.1 435.9l3.7 3.7l-3.7 3.7l-3.7 -3.7zM674.4 429.4l3.7 3.7l-3.7 3.7l-3.7 -3.7zM674.6 438.6l3.7 3.7l-3.7 3.7l-3.7 -3.7zM674.9 440.6l3.7 3.7l-3.7 3.7l-3.7 -3.7zM675.1 434.1l3.7 3.7l-3.7 3.7l-3.7 -3.7zM675.4 440l3.7 3.7l-3.7 3.7l-3.7 -3.7zM675.7 443.9l3.7 3.7l-3.7 3.7l-3.7 -3.7zM675.9 432.5l3.7 3.7l-3.7 3.7l-3.7 -3.7zM676.2 439.8l3.7 3.7l-3.7 3.7l-3.7 -3.7zM676.4 441.1l3.7 3.7l-3.7 3.7l-3.7 -3.7zM676.7 441.6l3.7 3.7l-3.7 3.7l-3.7 -3.7zM613.9 451.6l3.7 3.7l-3.7 3.7l-3.7 -3.7zM613.9 448.3l3.7 3.7l-3.7 3.7l-3.7 -3.7zM560 443.3l3.7 3.7l-3.7 3.7l-3.7 -3.7z"/>
<path fill="#808000" d="M409.3 436.2l3 1.7v3.5l-3 1.7l-3 -1.7v-3.5zM444.3 435.2l3 1.7v3.5l-3 1.7l-3 -1.7v-3.5zM464.7 435.9l3 1.7v3.5l-3 1.7l-3 -1.7v-3.5zM479.3 436.2l3 1.7v3.5l-3 1.7l-3 -1.7v-3.5zM490.5 436.1l3 1.7v3.5l-3 1.7l-3 -1.7v-3.5zM499.7 435.4l3 1.7v3.5l-3 1.7l-3 -1.7v-3.5zM507.5 435.9l3 1.7v3.5l-3 1.7l-3 -1.7v-3.5zM514.2 436.4l3 1.7v3.5l-3 1.7l-3 -1.7v-3.5zM520.2 436.6l3 1.7v3.5l-3 1.7l-3 -1.7v-3.5zM525.5 436l3 1.7v3.5l-3 1.7l-3 -1.7v-3.5zM530.3 435.6l3 1.7v3.5l-3 1.7l-3 -1.7v-3.5zM534.7 435.8l3 1.7v3.5l-3 1.7l-3 -1.7v-3.5zM538.7 435.5l3 1.7v3.5l-3 1.7l-3 -1.7v-3.5zM542.5 435.8l3 1.7v3.5l-3 1.7l-3 -1.7v-3.5zM546 434.5l3 1.7v3.5l-3 1.7l-3 -1.7v-3.5zM549.2 437.9l3 1.7v3.5l-3 1.7l-3 -1.7v-3.5zM552.3 436l3 1.7v3.5l-3 1.7l-3 -1.7v-3.5zM555.2 434.7l3 1.7v3.5l-3 1.7l-3 -1.7v-3.5zM557.9 436.1l3 1.7v3.5l-3 1.7l-3 -1.7v-3.5zM560.5 436.6l3 1.7v3.5l-3 1.7l-3 -1.7v-3.5zM562.9 434.6l3 1.7v3.5l-3 1.7l-3 -1.7v-3.5zM565.3 437.5l3 1.7v3.5l-3 1.7l-3 -1.7v-3.5zM567.5 437.4l3 1.7v3.5l-3 1.7l-3 -1.7v-3.5zM569.7 431l3 1.7v3.5l-3 1.7l-3 -1.7v-3.5zM571.7 438.3l3 1.7v3.5l-3 1.7l-3 -1.7v-3.5zM573.7 438.4l3 1.7v3.5l-3 1.7l-3 -1.7v-3.5zM575.6 437.8l3 1.7v3.5l-3 1.7l-3 -1.7v-3.5zM577.5 432.1l3 1.7v3.5l-3 1.7l-3 -1.7v-3.5zM579.2 435.7l3 1.7v3.5l-3 1.7l-3 -1.7v-3.5zM580.9 434.3l3 1.7v3.5l-3 1.7l-3 -1.7v-3.5zM582.6 431.1l3 1.7v3.5l-3 1.7l-3 -1.7v-3.5zM584.2 435.7l3 1.7v3.5l-3 1.7l-3 -1.7v-3.5zM585.8 437.4l3 1.7v3.5l-3 1.7l-3 -1.7v-3.5zM587.3 437.2l3 1.7v3.5l-3 1.7l-3 -1.7v-3.5zM588.7 437.4l3 1.7v3.5l-3 1.7l-3 -1.7v-3.5zM590.1 436.8l3 1.7v3.5l-3 1.7l-3 -1.7v-3.5zM591.5 429.7l3 1.7v3.5l-3 1.7l-3 -1.7v-3.5zM592.9 438.3l3 1.7v3.5l-3 1.7l-3 -1.7v-3.5zM594.2 440.6l3 1.7v3.5l-3 1.7l-3 -1.7v-3.5zM595.5 426.1l3 1.7v3.5l-3 1.7l-3 -1.7v-3.5zM596.7 426.8l3 1.7v3.5l-3 1.7l-3 -1.7v-3.5zM597.9 427.6l3 1.7v3.5l-3 1.7l-3 -1.7v-3.5zM599.1 429.8l3 1.7v3.5l-3 1.7l-3 -1.7v-3.5zM600.3 433l3 1.7v3.5l-3 1.7l-3 -1.7v-3.5zM601.4 441.3l3 1.7v3.5l-3 1.7l-3 -1.7v-3.5zM602.5 436.8l3 1.7v3.5l-3 1.7l-3 -1.7v-3.5zM603.6 444.3l3 1.7v3.5l-3 1.7l-3 -1.7v-3.5zM604.7 441.9l3 1.7v3.5l-3 1.7l-3 -1.7v-3.5zM605.7 437.6l3 1.7v3.5l-3 1.7l-3 -1.7v-3.5zM606.7 437.8l3 1.7v3.5l-3 1.7l-3 -1.7v-3.5zM607.7 438.6l3 1.7v3.5l-3 1.7l-3 -1.7v-3.5zM608.7 440l3 1.7v3.5l-3 1.7l-3 -1.7v-3.5zM609.7 428.4l3 1.7v3.5l-3 1.7l-3 -1.7v-3.5zM610.6 447.5l3 1.7v3.5l-3 1.7l-3 -1.7v-3.5zM611.5 427.8l3 1.7v3.5l-3 1.7l-3 -1.7v-3.5zM612.4 435.4l3 1.7v3.5l-3 1.7l-3 -1.7v-3.5zM613.3 437.8l3 1.7v3.5l-3 1.7l-3 -1.7v-3.5zM614.2 443.5l3 1.7v3.5l-3 1.7l-3 -1.7v-3.5zM615.1 447.7l3 1.7v3.5l-3 1.7l-3 -1.7v-3.5zM615.9 443.7l3 1.7v3.5l-3 1.7l-3 -1.7v-3.5zM616.8 427.2l3 1.7v3.5l-3 1.7l-3 -1.7v-3.5zM617.6 442.3l3 1.7v3.5l-3 1.7l-3 -1.7v-3.5zM618.4 431.9l3 1.7v3.5l-3 1.7l-3 -1.7v-3.5zM619.2 441.5l3 1.7v3.5l-3 1.7l-3 -1.7v-3.5zM620 438l3 1.7v3.5l-3 1.7l-3 -1.7v-3.5zM620.7 440.6l3 1.7v3.5l-3 1.7l-3 -1.7v-3.5zM621.5 445.1l3 1.7v3.5l-3 1.7l-3 -1.7v-3.5zM622.2 434.7l3 1.7v3.5l-3 1.7l-3 -1.7v-3.5zM623 434.7l3 1.7v3.5l-3 1.7l-3 -1.7v-3.5zM623.7 426.5l3 1.7v3.5l-3 1.7l-3 -1.7v-3.5zM624.4 435.6l3 1.7v3.5l-3 1.7l-3 -1.7v-3.5zM625.1 441l3 1.7v3.5l-3 1.7l-3 -1.7v-3.5zM625.8 435.4l3 1.7v3.5l-3 1.7l-3 -1.7v-3.5zM626.5 422.3l3 1.7v3.5l-3 1.7l-3 -1.7v-3.5zM627.2 438.3l3 1.7v3.5l-3 1.7l-3 -1.7v-3.5zM627.9 445.2l3 1.7v3.5l-3 1.7l-3 -1.7v-3.5zM628.5 440.7l3 1.7v3.5l-3 1.7l-3 -1.7v-3.5zM629.2 444.3l3 1.7v3.5l-3 1.7l-3 -1.7v-3.5zM629.8 449.2l3 1.7v3.5l-3 1.7l-3 -1.7v-3.5zM630.4 438.2l3 1.7v3.5l-3 1.7l-3 -1.7v-3.5zM631.1 447.9l3 1.7v3.5l-3 1.7l-3 -1.7v-3.5zM631.7 438.8l3 1.7v3.5l-3 1.7l-3 -1.7v-3.5zM632.3 437.3l3 1.7v3.5l-3 1.7l-3 -1.7v-3.5zM632.9 426.2l3 1.7v3.5l-3 1.7l-3 -1.7v-3.5zM633.5 436l3 1.7v3.5l-3 1.7l-3 -1.7v-3.5zM634.1 438.8l3 1.7v3.5l-3 1.7l-3 -1.7v-3.5zM634.7 440.1l3 1.7v3.5l-3 1.7l-3 -1.7v-3.5zM635.2 446.4l3 1.7v3.5l-3 1.7l-3 -1.7v-3.5zM635.8 442.7l3 1.7v3.5l-3 1.7l-3 -1.7v-3.5zM636.4 430.9l3 1.7v3.5l-3 1.7l-3 -1.7v-3.5zM636.9 441.8l3 1.7v3.5l-3 1.7l-3 -1.7v-3.5zM637.5 450.5l3 1.7v3.5l-3 1.7l-3 -1.7v-3.5zM638 446.5l3 1.7v3.5l-3 1.7l-3 -1.7v-3.5zM638.6 436.1l3 1.7v3.5l-3 1.7l-3 -1.7v-3.5zM639.1 435.3l3 1.7v3.5l-3 1.7l-3 -1.7v-3.5zM639.6 431.4l3 1.7v3.5l-3 1.7l-3 -1.7v-3.5zM640.2 431.1l3 1.7v3.5l-3 1.7l-3 -1.7v-3.5zM640.7 433.3l3 1.7v3.5l-3 1.7l-3 -1.7v-3.5zM641.2 437.2l3 1.7v3.5l-3 1.7l-3 -1.7v-3.5zM641.7 446.3l3 1.7v3.5l-3 1.7l-3 -1.7v-3.5zM642.2 444.3l3 1.7v3.5l-3 1.7l-3 -1.7v-3.5zM642.7 442l3 1.7v3.5l-3 1.7l-3 -1.7v-3.5zM643.2 431.2l3 1.7v3.5l-3 1.7l-3 -1.7v-3.5zM643.7 458.2l3 1.7v3.5l-3 1.7l-3 -1.7v-3.5zM644.2 432.5l3 1.7v3.5l-3 1.7l-3 -1.7v-3.5zM644.6 438.8l3 1.7v3.5l-3 1.7l-3 -1.7v-3.5zM645.1 443.7l3 1.7v3.5l-3 1.7l-3 -1.7v-3.5zM645.6 428l3 1.7v3.5l-3 1.7l-3 -1.7v-3.5zM646 436.2l3 1.7v3.5l-3 1.7l-3 -1.7v-3.5zM646.5 439.7l3 1.7v3.5l-3 1.7l-3 -1.7v-3.5zM647 444.9l3 1.7v3.5l-3 1.7l-3 -1.7v-3.5zM647.4 446.2l3 1.7v3.5l-3 1.7l-3 -1.7v-3.5zM647.9 431.6l3 1.7v3.5l-3 1.7l-3 -1.7v-3.5zM648.3 451.1l3 1.7v3.5l-3 1.7l-3 -1.7v-3.5zM648.8 436.9l3 1.7v3.5l-3 1.7l-3 -1.7v-3.5zM649.2 434.2l3 1.7v3.5l-3 1.7l-3 -1.7v-3.5zM649.6 442.2l3 1.7v3.5l-3 1.7l-3 -1.7v-3.5zM650.1 447.6l3 1.7v3.5l-3 1.7l-3 -1.7v-3.5zM650.5 430.9l3 1.7v3.5l-3 1.7l-3 -1.7v-3.5zM650.9 432.5l3 1.7v3.5l-3 1.7l-3 -1.7v-3.5zM651.3 430.2l3 1.7v3.5l-3 1.7l-3 -1.7v-3.5zM651.7 433l3 1.7v3.5l-3 1.7l-3 -1.7v-3.5zM652.1 449.8l3 1.7v3.5l-3 1.7l-3 -1.7v-3.5zM652.6 446.9l3 1.7v3.5l-3 1.7l-3 -1.7v-3.5zM653 443.5l3 1.7v3.5l-3 1.7l-3 -1.7v-3.5zM653.4 437l3 1.7v3.5l-3 1.7l-3 -1.7v-3.5zM653.8 443.6l3 1.7v3.5l-3 1.7l-3 -1.7v-3.5zM654.2 432.2l3 1.7v3.5l-3 1.7l-3 -1.7v-3.5zM654.6 445.9l3 1.7v3.5l-3 1.7l-3 -1.7v-3.5zM654.9 433.2l3 1.7v3.5l-3 1.7l-3 -1.7v-3.5zM655.3 432.1l3 1.7v3.5l-3 1.7l-3 -1.7v-3.5zM655.7 425.3l3 1.7v3.5l-3 1.7l-3 -1.7v-3.5zM656.1 436.4l3 1.7v3.5l-3 1.7l-3 -1.7v-3.5zM656.5 435.2l3 1.7v3.5l-3 1.7l-3 -1.7v-3.5zM656.8 433.5l3 1.7v3.5l-3 1.7l-3 -1.7v-3.5zM657.2 432l3 1.7v3.5l-3 1.7l-3 -1.7v-3.5zM657.6 433.9l3 1.7v3.5l-3 1.7l-3 -1.7v-3.5zM658 426.3l3 1.7v3.5l-3 1.7l-3 -1.7v-3.5zM658.3 430.7l3 1.7v3.5l-3 1.7l-3 -1.7v-3.5zM658.7 423.8l3 1.7v3.5l-3 1.7l-3 -1.7v-3.5zM659 437.8l3 1.7v3.5l-3 1.7l-3 -1.7v-3.5zM659.4 427.7l3 1.7v3.5l-3 1.7l-3 -1.7v-3.5zM659.8 441.6l3 1.7v3.5l-3 1.7l-3 -1.7v-3.5zM660.1 442.9l3 1.7v3.5l-3 1.7l-3 -1.7v-3.5zM660.5 426.9l3 1.7v3.5l-3 1.7l-3 -1.7v-3.5zM660.8 434.6l3 1.7v3.5l-3 1.7l-3 -1.7v-3.5zM661.1 435.4l3 1.7v3.5l-3 1.7l-3 -1.7v-3.5zM661.5 439.4l3 1.7v3.5l-3 1.7l-3 -1.7v-3.5zM661.8 441.8l3 1.7v3.5l-3 1.7l-3 -1.7v-3.5zM662.2 433.4l3 1.7v3.5l-3 1.7l-3 -1.7v-3.5zM662.5 434.5l3 1.7v3.5l-3 1.7l-3 -1.7v-3.5zM662.8 448.5l3 1.7v3.5l-3 1.7l-3 -1.7v-3.5zM663.2 437.7l3 1.7v3.5l-3 1.7l-3 -1.7v-3.5zM663.5 442.2l3 1.7v3.5l-3 1.7l-3 -1.7v-3.5zM663.8 436.7l3 1.7v3.5l-3 1.7l-3 -1.7v-3.5zM664.1 427.3l3 1.7v3.5l-3 1.7l-3 -1.7v-3.5zM664.5 443.3l3 1.7v3.5l-3 1.7l-3 -1.7v-3.5zM664.8 430l3 1.7v3.5l-3 1.7l-3 -1.7v-3.5zM665.1 433.4l3 1.7v3.5l-3 1.7l-3 -1.7v-3.5zM665.4 439.3l3 1.7v3.5l-3 1.7l-3 -1.7v-3.5zM665.7 426.9l3 1.7v3.5l-3 1.7l-3 -1.7v-3.5zM666 435.8l3 1.7v3.5l-3 1.7l-3 -1.7v-3.5zM666.4 433.7l3 1.7v3.5l-3 1.7l-3 -1.7v-3.5zM666.7 439.7l3 1.7v3.5l-3 1.7l-3 -1.7v-3.5zM667 432.5l3 1.7v3.5l-3 1.7l-3 -1.7v-3.5zM667.3 437.4l3 1.7v3.5l-3 1.7l-3 -1.7v-3.5zM667.6 430.9l3 1.7v3.5l-3 1.7l-3 -1.7v-3.5zM667.9 447.4l3 1.7v3.5l-3 1.7l-3 -1.7v-3.5zM668.2 439.2l3 1.7v3.5l-3 1.7l-3 -1.7v-3.5zM668.5 431.7l3 1.7v3.5l-3 1.7l-3 -1.7v-3.5zM668.8 438.4l3 1.7v3.5l-3 1.7l-3 -1.7v-3.5zM669.1 412.6l3 1.7v3.5l-3 1.7l-3 -1.7v-3.5zM669.4 421.7l3 1.7v3.5l-3 1.7l-3 -1.7v-3.5zM669.7 437.2l3 1.7v3.5l-3 1.7l-3 -1.7v-3.5zM669.9 432.7l3 1.7v3.5l-3 1.7l-3 -1.7v-3.5zM670.2 429.7l3 1.7v3.5l-3 1.7l-3 -1.7v-3.5zM670.5 439.4l3 1.7v3.5l-3 1.7l-3 -1.7v-3.5zM670.8 431.1l3 1.7v3.5l-3 1.7l-3 -1.7v-3.5zM671.1 442l3 1.7v3.5l-3 1.7l-3 -1.7v-3.5zM671.4 428.7l3 1.7v3.5l-3 1.7l-3 -1.7v-3.5zM671.6 444.2l3 1.7v3.5l-3 1.7l-3 -1.7v-3.5zM671.9 438.6l3 1.7v3.5l-3 1.7l-3 -1.7v-3.5zM672.2 434.2l3 1.7v3.5l-3 1.7l-3 -1.7v-3.5zM672.5 423.7l3 1.7v3.5l-3 1.7l-3 -1.7v-3.5zM672.7 427.9l3 1.7v3.5l-3 1.7l-3 -1.7v-3.5zM673 442.6l3 1.7v3.5l-3 1.7l-3 -1.7v-3.5zM673.3 435.5l3 1.7v3.5l-3 1.7l-3 -1.7v-3.5zM673.6 437.7l3 1.7v3.5l-3 1.7l-3 -1.7v-3.5zM673.8 443.8l3 1.7v3.5l-3 1.7l-3 -1.7v-3.5zM674.1 447.3l3 1.7v3.5l-3 1.7l-3 -1.7v-3.5zM674.4 440l3 1.7v3.5l-3 1.7l-3 -1.7v-3.5zM674.6 444.8l3 1.7v3.5l-3 1.7l-3 -1.7v-3.5zM674.9 437.1l3 1.7v3.5l-3 1.7l-3 -1.7v-3.5zM675.1 442.1l3 1.7v3.5l-3 1.7l-3 -1.7v-3.5zM675.4 431.2l3 1.7v3.5l-3 1.7l-3 -1.7v-3.5zM675.7 429.3l3 1.7v3.5l-3 1.7l-3 -1.7v-3.5zM675.9 431.2l3 1.7v3.5l-3 1.7l-3 -1.7v-3.5zM676.2 434.5l3 1.7v3.5l-3 1.7l-3 -1.7v-3.5zM676.4 438.5l3 1.7v3.5l-3 1.7l-3 -1.7v-3.5zM676.7 434.3l3 1.7v3.5l-3 1.7l-3 -1.7v-3.5zM605.1 457.4l3 1.7v3.5l-3 1.7l-3 -1.7v-3.5zM624.3 457.6l3 1.7v3.5l-3 1.7l-3 -1.7v-3.5zM548 428.6l3 1.7v3.5l-3 1.7l-3 -1.7v-3.5zM606 423.6l3 1.7v3.5l-3 1.7l-3 -1.7v-3.5zM660.3 448.6l3 1.7v3.5l-3 1.7l-3 -1.7v-3.5zM641.6 433.7l3 1.7v3.5l-3 1.7l-3 -1.7v-3.5zM637.9 438l3 1.7v3.5l-3 1.7l-3 -1.7v-3.5zM669.2 427.3l3 1.7v3.5l-3 1.7l-3 -1.7v-3.5zM661.8 444.4l3 1.7v3.5l-3 1.7l-3 -1.7v-3.5zM644.1 436.2l3 1.7v3.5l-3 1.7l-3 -1.7v-3.5zM633.5 445.8l3 1.7v3.5l-3 1.7l-3 -1.7v-3.5zM640.4 435.2l3 1.7v3.5l-3 1.7l-3 -1.7v-3.5zM648.2 423.7l3 1.7v3.5l-3 1.7l-3 -1.7v-3.5zM635.7 428.2l3 1.7v3.5l-3 1.7l-3 -1.7v-3.5zM640.5 429l3 1.7v3.5l-3 1.7l-3 -1.7v-3.5zM634.4 436.3l3 1.7v3.5l-3 1.7l-3 -1.7v-3.5zM635.4 428l3 1.7v3.5l-3 1.7l-3 -1.7v-3.5zM646 447l3 1.7v3.5l-3 1.7l-3 -1.7v-3.5zM653.7 426l3 1.7v3.5l-3 1.7l-3 -1.7v-3.5zM633 424.6l3 1.7v3.5l-3 1.7l-3 -1.7v-3.5zM652.9 431.7l3 1.7v3.5l-3 1.7l-3 -1.7v-3.5zM641.2 426.7l3 1.7v3.5l-3 1.7l-3 -1.7v-3.5zM644.5 443.6l3 1.7v3.5l-3 1.7l-3 -1.7v-3.5zM669.7 435.4l3 1.7v3.5l-3 1.7l-3 -1.7v-3.5zM652.3 431.4l3 1.7v3.5l-3 1.7l-3 -1.7v-3.5zM669.9 431.6l3 1.7v3.5l-3 1.7l-3 -1.7v-3.5zM642.7 432.8l3 1.7v3.5l-3 1.7l-3 -1.7v-3.5zM666.1 437.7l3 1.7v3.5l-3 1.7l-3 -1.7v-3.5zM644.6 436.4l3 1.7v3.5l-3 1.7l-3 -1.7v-3.5zM633.7 439.7l3 1.7v3.5l-3 1.7l-3 -1.7v-3.5zM641 441.7l3 1.7v3.5l-3 1.7l-3 -1.7v-3.5zM664.3 441.6l3 1.7v3.5l-3 1.7l-3 -1.7v-3.5zM665.9 447.3l3 1.7v3.5l-3 1.7l-3 -1.7v-3.5zM666.7 433.8l3 1.7v3.5l-3 1.7l-3 -1.7v-3.5zM629.7 419.9l3 1.7v3.5l-3 1.7l-3 -1.7v-3.5zM639.7 440l3 1.7v3.5l-3 1.7l-3 -1.7v-3.5zM655.8 430.3l3 1.7v3.5l-3 1.7l-3 -1.7v-3.5zM662 440.6l3 1.7v3.5l-3 1.7l-3 -1.7v-3.5zM652.8 435.4l3 1.7v3.5l-3 1.7l-3 -1.7v-3.5zM629.8 431.2l3 1.7v3.5l-3 1.7l-3 -1.7v-3.5zM626.5 430l3 1.7v3.5l-3 1.7l-3 -1.7v-3.5zM641.3 431.7l3 1.7v3.5l-3 1.7l-3 -1.7v-3.5zM657.4 430.1l3 1.7v3.5l-3 1.7l-3 -1.7v-3.5zM635.1 439.5l3 1.7v3.5l-3 1.7l-3 -1.7v-3.5zM632.1 436.1l3 1.7v3.5l-3 1.7l-3 -1.7v-3.5zM635.5 428.5l3 1.7v3.5l-3 1.7l-3 -1.7v-3.5zM627.6 434.3l3 1.7v3.5l-3 1.7l-3 -1.7v-3.5zM639.9 434.6l3 1.7v3.5l-3 1.7l-3 -1.7v-3.5zM642.9 436.8l3 1.7v3.5l-3 1.7l-3 -1.7v-3.5zM666.9 436.6l3 1.7v3.5l-3 1.7l-3 -1.7v-3.5zM636.8 437.2l3 1.7v3.5l-3 1.7l-3 -1.7v-3.5zM635.9 434.9l3 1.7v3.5l-3 1.7l-3 -1.7v-3.5zM646.7 439l3 1.7v3.5l-3 1.7l-3 -1.7v-3.5zM636.3 444.6l3 1.7v3.5l-3 1.7l-3 -1.7v-3.5zM658.4 448.8l3 1.7v3.5l-3 1.7l-3 -1.7v-3.5zM629.9 435.3l3 1.7v3.5l-3 1.7l-3 -1.7v-3.5zM627 449.5l3 1.7v3.5l-3 1.7l-3 -1.7v-3.5zM660.8 438.5l3 1.7v3.5l-3 1.7l-3 -1.7v-3.5zM651.5 432.6l3 1.7v3.5l-3 1.7l-3 -1.7v-3.5zM663.8 442.4l3 1.7v3.5l-3 1.7l-3 -1.7v-3.5zM650 437.2l3 1.7v3.5l-3 1.7l-3 -1.7v-3.5zM633.9 446.3l3 1.7v3.5l-3 1.7l-3 -1.7v-3.5zM658.8 428.8l3 1.7v3.5l-3 1.7l-3 -1.7v-3.5zM625.9 439.4l3 1.7v3.5l-3 1.7l-3 -1.7v-3.5zM661.6 437.7l3 1.7v3.5l-3 1.7l-3 -1.7v-3.5zM635 433.9l3 1.7v3.5l-3 1.7l-3 -1.7v-3.5zM653.1 436l3 1.7v3.5l-3 1.7l-3 -1.7v-3.5zM641.7 436.8l3 1.7v3.5l-3 1.7l-3 -1.7v-3.5zM666.4 435l3 1.7v3.5l-3 1.7l-3 -1.7v-3.5zM636.6 426.3l3 1.7v3.5l-3 1.7l-3 -1.7v-3.5zM625.4 441.1l3 1.7v3.5l-3 1.7l-3 -1.7v-3.5zM643.2 435.5l3 1.7v3.5l-3 1.7l-3 -1.7v-3.5zM659.8 432.9l3 1.7v3.5l-3 1.7l-3 -1.7v-3.5zM628.1 441.9l3 1.7v3.5l-3 1.7l-3 -1.7v-3.5z"/>
</g>
<path d="M403.3 543.5h4M403.3 439.5h4M403.3 335.5h4M403.3 491.5h2.4M403.3 387.5h2.4M409.5 564.5v-4M444.5 564.5v-2.4M464.5 564.5v-2.4M479.5 564.5v-2.4M490.5 564.5v-2.4M499.5 564.5v-2.4M507.5 564.5v-2.4M514.5 564.5v-2.4M520.5 564.5v-2.4M525.5 564.5v-4M560.5 564.5v-2.4M580.5 564.5v-2.4M595.5 564.5v-2.4M606.5 564.5v-2.4M615.5 564.5v-2.4M623.5 564.5v-2.4M630.5 564.5v-2.4M636.5 564.5v-2.4M641.5 564.5v-4M676.5 564.5v-2.4" stroke="#000" stroke-width="1" fill="none"/>
<rect x="403.3" y="317.8" width="279.9" height="246.7" fill="none" stroke="#000" stroke-width="1.3"/>
<text transform="translate(399.0,443.6) scale(0.93,1)" text-anchor="end" class="tl">0.0</text>
<text transform="translate(399.0,340.0) scale(0.93,1)" text-anchor="end" class="tl">2.0x10<tspan dy="-5" font-size="8">-5</tspan></text>
<text transform="translate(399.0,547.1) scale(0.93,1)" text-anchor="end" class="tl">-2.0x10<tspan dy="-5" font-size="8">-5</tspan></text>
<text transform="translate(409.6,583.3) scale(0.87,1)" text-anchor="middle" class="tl">10<tspan dy="-5.6" font-size="7.8">3</tspan></text>
<text transform="translate(525.8,583.3) scale(0.87,1)" text-anchor="middle" class="tl">10<tspan dy="-5.6" font-size="7.8">4</tspan></text>
<text transform="translate(642.0,583.3) scale(0.87,1)" text-anchor="middle" class="tl">10<tspan dy="-5.6" font-size="7.8">5</tspan></text>
<rect x="408.7" y="466.9" width="147.5" height="93.5" fill="#fff" stroke="#555" stroke-width="0.9"/>
<path fill="#000" d="M420.7 473.7h4.8v4.8h-4.8z"/>
<text transform="translate(439.6,480.1) scale(0.95,1)" class="lg">RPET</text>
<path fill="#ff0000" d="M420.2 491.9a2.9 2.9 0 1 0 5.8 0a2.9 2.9 0 1 0 -5.8 0z"/>
<text transform="translate(439.6,495.9) scale(0.95,1)" class="lg">RPET+ Nd<tspan dy="3.4" font-size="9">2</tspan><tspan dy="-3.4">O</tspan><tspan dy="3.4" font-size="9">3</tspan><tspan dy="-3.4"> 1wt.%</tspan></text>
<path fill="#00ff00" d="M423.1 507.2l3.2 5.8h-6.4z"/>
<text transform="translate(439.6,514.7) scale(0.95,1)" class="lg">RPET+ Nd<tspan dy="3.4" font-size="9">2</tspan><tspan dy="-3.4">O</tspan><tspan dy="3.4" font-size="9">3</tspan><tspan dy="-3.4"> 2wt.%</tspan></text>
<path fill="#ff00ff" d="M423.1 526.7l3.2 3.2l-3.2 3.2l-3.2 -3.2z"/>
<text transform="translate(439.6,533.9) scale(0.95,1)" class="lg">RPET+ Nd<tspan dy="3.4" font-size="9">2</tspan><tspan dy="-3.4">O</tspan><tspan dy="3.4" font-size="9">3</tspan><tspan dy="-3.4"> 4wt.%</tspan></text>
<path fill="#808000" d="M423.1 545.4l2.8 1.6v3.1l-2.8 1.6l-2.8 -1.6v-3.1z"/>
<text transform="translate(439.6,552.5) scale(0.95,1)" class="lg">RPET+ Nd<tspan dy="3.4" font-size="9">2</tspan><tspan dy="-3.4">O</tspan><tspan dy="3.4" font-size="9">3</tspan><tspan dy="-3.4"> 8wt.%</tspan></text>
<text transform="translate(638.5,354.9) scale(0.84,1)" class="tp">100</text>
<text transform="translate(663.1,354.9) scale(0.84,1)" class="tp">°</text>
<text transform="translate(669.1,354.9) scale(0.84,1)" class="tp">C</text>
<text transform="translate(427.7,338.5)" class="pl">(d)</text>
<text transform="translate(527.0,605.2)" class="ax">f (Hz)</text>
<rect x="69.3" y="586" width="1.3" height="1.2" fill="#8ee"/><rect x="264.4" y="586.4" width="1.3" height="1.3" fill="#8ee"/>
<text transform="translate(10.8,130) rotate(-90)" text-anchor="middle" class="ax">ε'</text>
<text transform="translate(372.2,129) rotate(-90)" text-anchor="middle" class="ax">ε''</text>
<text transform="translate(17,441.8) rotate(-90)" text-anchor="middle" style="font:bold 14px 'Liberation Sans',sans-serif">tan δ</text>
<text transform="translate(347.3,469.8) rotate(-90)" class="ax" style="font-size:14.5px"><tspan style="font-family:'Liberation Sans',sans-serif;font-size:13px">σ</tspan><tspan dy="2.6" font-size="9.5">ac</tspan><tspan dy="-2.6"> (S/m)</tspan></text>
</svg></body></html>
